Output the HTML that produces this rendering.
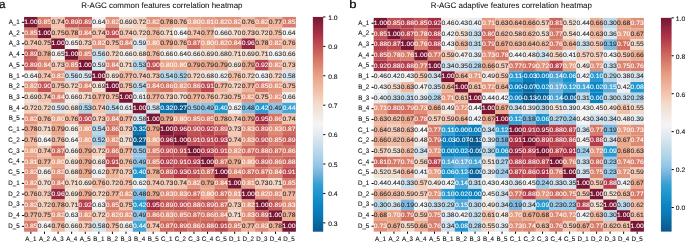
<!DOCTYPE html>
<html><head><meta charset="utf-8"><style>
html,body{margin:0;padding:0;background:#fff;}
body{width:685px;height:242px;overflow:hidden;}
svg{display:block;will-change:transform;}
text{font-family:"Liberation Sans",sans-serif;text-rendering:geometricPrecision;}
.an{font-size:6.35px;text-anchor:middle;stroke-width:0.07px;}
.d{fill:#262626;stroke:#262626;}
.w{fill:#fff;stroke:#fff;}
.yt{font-size:6.6px;text-anchor:end;fill:#111;stroke:#111;stroke-width:0.1px;}
.xt{font-size:6.6px;text-anchor:middle;fill:#111;stroke:#111;stroke-width:0.1px;}
.cb{font-size:6.4px;fill:#111;stroke:#111;stroke-width:0.1px;}
.ti{font-size:8.0px;text-anchor:middle;fill:#111;stroke:#111;stroke-width:0.06px;}
.pn{font-size:11.6px;fill:#000;stroke:#000;stroke-width:0.2px;}
.tk{stroke:#000;stroke-width:1.0;}
</style></head><body>
<svg width="685" height="242" viewBox="0 0 685 242">
<rect x="24.10" y="16.94" width="13.61" height="10.76" fill="#781634"/>
<rect x="37.69" y="16.94" width="13.61" height="10.76" fill="#d77b6a"/>
<rect x="51.28" y="16.94" width="13.61" height="10.76" fill="#f3c5b1"/>
<rect x="64.86" y="16.94" width="13.61" height="10.76" fill="#c55a57"/>
<rect x="78.45" y="16.94" width="13.61" height="10.76" fill="#c55a57"/>
<rect x="92.04" y="16.94" width="13.61" height="10.76" fill="#f5f3f2"/>
<rect x="105.62" y="16.94" width="13.61" height="10.76" fill="#e2937b"/>
<rect x="119.21" y="16.94" width="13.61" height="10.76" fill="#f3e1d5"/>
<rect x="132.80" y="16.94" width="13.61" height="10.76" fill="#f4d2c0"/>
<rect x="146.39" y="16.94" width="13.61" height="10.76" fill="#e2937b"/>
<rect x="159.97" y="16.94" width="13.61" height="10.76" fill="#ecae95"/>
<rect x="173.56" y="16.94" width="13.61" height="10.76" fill="#f0baa3"/>
<rect x="187.15" y="16.94" width="13.61" height="10.76" fill="#e9a387"/>
<rect x="200.74" y="16.94" width="13.61" height="10.76" fill="#e59b81"/>
<rect x="214.32" y="16.94" width="13.61" height="10.76" fill="#e2937b"/>
<rect x="227.91" y="16.94" width="13.61" height="10.76" fill="#e2937b"/>
<rect x="241.50" y="16.94" width="13.61" height="10.76" fill="#f0baa3"/>
<rect x="255.09" y="16.94" width="13.61" height="10.76" fill="#e2937b"/>
<rect x="268.68" y="16.94" width="13.61" height="10.76" fill="#eeb49c"/>
<rect x="282.26" y="16.94" width="13.61" height="10.76" fill="#d77b6a"/>
<rect x="24.10" y="27.68" width="13.61" height="10.76" fill="#d77b6a"/>
<rect x="37.69" y="27.68" width="13.61" height="10.76" fill="#781634"/>
<rect x="51.28" y="27.68" width="13.61" height="10.76" fill="#f1bfaa"/>
<rect x="64.86" y="27.68" width="13.61" height="10.76" fill="#ecae95"/>
<rect x="78.45" y="27.68" width="13.61" height="10.76" fill="#da8370"/>
<rect x="92.04" y="27.68" width="13.61" height="10.76" fill="#f3c5b1"/>
<rect x="105.62" y="27.68" width="13.61" height="10.76" fill="#c05154"/>
<rect x="119.21" y="27.68" width="13.61" height="10.76" fill="#f3c5b1"/>
<rect x="132.80" y="27.68" width="13.61" height="10.76" fill="#f4d2c0"/>
<rect x="146.39" y="27.68" width="13.61" height="10.76" fill="#f0baa3"/>
<rect x="159.97" y="27.68" width="13.61" height="10.76" fill="#f3d8c8"/>
<rect x="173.56" y="27.68" width="13.61" height="10.76" fill="#f5f3f2"/>
<rect x="187.15" y="27.68" width="13.61" height="10.76" fill="#f3c5b1"/>
<rect x="200.74" y="27.68" width="13.61" height="10.76" fill="#eeb49c"/>
<rect x="214.32" y="27.68" width="13.61" height="10.76" fill="#f3ebe7"/>
<rect x="227.91" y="27.68" width="13.61" height="10.76" fill="#f3ddcf"/>
<rect x="241.50" y="27.68" width="13.61" height="10.76" fill="#f4cbb8"/>
<rect x="255.09" y="27.68" width="13.61" height="10.76" fill="#f4d2c0"/>
<rect x="268.68" y="27.68" width="13.61" height="10.76" fill="#f1bfaa"/>
<rect x="282.26" y="27.68" width="13.61" height="10.76" fill="#f5f3f2"/>
<rect x="24.10" y="38.42" width="13.61" height="10.76" fill="#f3c5b1"/>
<rect x="37.69" y="38.42" width="13.61" height="10.76" fill="#f1bfaa"/>
<rect x="51.28" y="38.42" width="13.61" height="10.76" fill="#781634"/>
<rect x="64.86" y="38.42" width="13.61" height="10.76" fill="#f4efec"/>
<rect x="78.45" y="38.42" width="13.61" height="10.76" fill="#f4cbb8"/>
<rect x="92.04" y="38.42" width="13.61" height="10.76" fill="#e2937b"/>
<rect x="105.62" y="38.42" width="13.61" height="10.76" fill="#f1bfaa"/>
<rect x="119.21" y="38.42" width="13.61" height="10.76" fill="#da8370"/>
<rect x="132.80" y="38.42" width="13.61" height="10.76" fill="#dce6ef"/>
<rect x="146.39" y="38.42" width="13.61" height="10.76" fill="#e9a387"/>
<rect x="159.97" y="38.42" width="13.61" height="10.76" fill="#eaa88e"/>
<rect x="173.56" y="38.42" width="13.61" height="10.76" fill="#f0baa3"/>
<rect x="187.15" y="38.42" width="13.61" height="10.76" fill="#cf6b5e"/>
<rect x="200.74" y="38.42" width="13.61" height="10.76" fill="#e9a387"/>
<rect x="214.32" y="38.42" width="13.61" height="10.76" fill="#e2937b"/>
<rect x="227.91" y="38.42" width="13.61" height="10.76" fill="#da8370"/>
<rect x="241.50" y="38.42" width="13.61" height="10.76" fill="#992941"/>
<rect x="255.09" y="38.42" width="13.61" height="10.76" fill="#ecae95"/>
<rect x="268.68" y="38.42" width="13.61" height="10.76" fill="#e2937b"/>
<rect x="282.26" y="38.42" width="13.61" height="10.76" fill="#f0baa3"/>
<rect x="24.10" y="49.15" width="13.61" height="10.76" fill="#c55a57"/>
<rect x="37.69" y="49.15" width="13.61" height="10.76" fill="#ecae95"/>
<rect x="51.28" y="49.15" width="13.61" height="10.76" fill="#f4efec"/>
<rect x="64.86" y="49.15" width="13.61" height="10.76" fill="#781634"/>
<rect x="78.45" y="49.15" width="13.61" height="10.76" fill="#d77b6a"/>
<rect x="92.04" y="49.15" width="13.61" height="10.76" fill="#c7ddeb"/>
<rect x="105.62" y="49.15" width="13.61" height="10.76" fill="#f4d2c0"/>
<rect x="119.21" y="49.15" width="13.61" height="10.76" fill="#f3ebe7"/>
<rect x="132.80" y="49.15" width="13.61" height="10.76" fill="#f2e4db"/>
<rect x="146.39" y="49.15" width="13.61" height="10.76" fill="#f0baa3"/>
<rect x="159.97" y="49.15" width="13.61" height="10.76" fill="#f3ebe7"/>
<rect x="173.56" y="49.15" width="13.61" height="10.76" fill="#f5f3f2"/>
<rect x="187.15" y="49.15" width="13.61" height="10.76" fill="#f3ebe7"/>
<rect x="200.74" y="49.15" width="13.61" height="10.76" fill="#f3e1d5"/>
<rect x="214.32" y="49.15" width="13.61" height="10.76" fill="#f2e4db"/>
<rect x="227.91" y="49.15" width="13.61" height="10.76" fill="#f3d8c8"/>
<rect x="241.50" y="49.15" width="13.61" height="10.76" fill="#f3e1d5"/>
<rect x="255.09" y="49.15" width="13.61" height="10.76" fill="#f3d8c8"/>
<rect x="268.68" y="49.15" width="13.61" height="10.76" fill="#f2f3f4"/>
<rect x="282.26" y="49.15" width="13.61" height="10.76" fill="#f3ebe7"/>
<rect x="24.10" y="59.89" width="13.61" height="10.76" fill="#c55a57"/>
<rect x="37.69" y="59.89" width="13.61" height="10.76" fill="#da8370"/>
<rect x="51.28" y="59.89" width="13.61" height="10.76" fill="#f4cbb8"/>
<rect x="64.86" y="59.89" width="13.61" height="10.76" fill="#d77b6a"/>
<rect x="78.45" y="59.89" width="13.61" height="10.76" fill="#781634"/>
<rect x="92.04" y="59.89" width="13.61" height="10.76" fill="#dce6ef"/>
<rect x="105.62" y="59.89" width="13.61" height="10.76" fill="#da8370"/>
<rect x="119.21" y="59.89" width="13.61" height="10.76" fill="#f3d8c8"/>
<rect x="132.80" y="59.89" width="13.61" height="10.76" fill="#b1d4e8"/>
<rect x="146.39" y="59.89" width="13.61" height="10.76" fill="#c05154"/>
<rect x="159.97" y="59.89" width="13.61" height="10.76" fill="#e9a387"/>
<rect x="173.56" y="59.89" width="13.61" height="10.76" fill="#e9a387"/>
<rect x="187.15" y="59.89" width="13.61" height="10.76" fill="#eaa88e"/>
<rect x="200.74" y="59.89" width="13.61" height="10.76" fill="#eaa88e"/>
<rect x="214.32" y="59.89" width="13.61" height="10.76" fill="#eaa88e"/>
<rect x="227.91" y="59.89" width="13.61" height="10.76" fill="#f3e1d5"/>
<rect x="241.50" y="59.89" width="13.61" height="10.76" fill="#eaa88e"/>
<rect x="255.09" y="59.89" width="13.61" height="10.76" fill="#b6404d"/>
<rect x="268.68" y="59.89" width="13.61" height="10.76" fill="#e2937b"/>
<rect x="282.26" y="59.89" width="13.61" height="10.76" fill="#f4cbb8"/>
<rect x="24.10" y="70.63" width="13.61" height="10.76" fill="#f5f3f2"/>
<rect x="37.69" y="70.63" width="13.61" height="10.76" fill="#f3c5b1"/>
<rect x="51.28" y="70.63" width="13.61" height="10.76" fill="#e2937b"/>
<rect x="64.86" y="70.63" width="13.61" height="10.76" fill="#c7ddeb"/>
<rect x="78.45" y="70.63" width="13.61" height="10.76" fill="#dce6ef"/>
<rect x="92.04" y="70.63" width="13.61" height="10.76" fill="#781634"/>
<rect x="105.62" y="70.63" width="13.61" height="10.76" fill="#f3e1d5"/>
<rect x="119.21" y="70.63" width="13.61" height="10.76" fill="#eeb49c"/>
<rect x="132.80" y="70.63" width="13.61" height="10.76" fill="#f3c5b1"/>
<rect x="146.39" y="70.63" width="13.61" height="10.76" fill="#f4cbb8"/>
<rect x="159.97" y="70.63" width="13.61" height="10.76" fill="#b9d7e9"/>
<rect x="173.56" y="70.63" width="13.61" height="10.76" fill="#a9d0e8"/>
<rect x="187.15" y="70.63" width="13.61" height="10.76" fill="#f4d2c0"/>
<rect x="200.74" y="70.63" width="13.61" height="10.76" fill="#f2e4db"/>
<rect x="214.32" y="70.63" width="13.61" height="10.76" fill="#edf0f3"/>
<rect x="227.91" y="70.63" width="13.61" height="10.76" fill="#f0baa3"/>
<rect x="241.50" y="70.63" width="13.61" height="10.76" fill="#f4d2c0"/>
<rect x="255.09" y="70.63" width="13.61" height="10.76" fill="#f2f3f4"/>
<rect x="268.68" y="70.63" width="13.61" height="10.76" fill="#f4d2c0"/>
<rect x="282.26" y="70.63" width="13.61" height="10.76" fill="#d5e3ee"/>
<rect x="24.10" y="81.37" width="13.61" height="10.76" fill="#e2937b"/>
<rect x="37.69" y="81.37" width="13.61" height="10.76" fill="#c05154"/>
<rect x="51.28" y="81.37" width="13.61" height="10.76" fill="#f1bfaa"/>
<rect x="64.86" y="81.37" width="13.61" height="10.76" fill="#f4d2c0"/>
<rect x="78.45" y="81.37" width="13.61" height="10.76" fill="#da8370"/>
<rect x="92.04" y="81.37" width="13.61" height="10.76" fill="#f3e1d5"/>
<rect x="105.62" y="81.37" width="13.61" height="10.76" fill="#781634"/>
<rect x="119.21" y="81.37" width="13.61" height="10.76" fill="#f1bfaa"/>
<rect x="132.80" y="81.37" width="13.61" height="10.76" fill="#b9d7e9"/>
<rect x="146.39" y="81.37" width="13.61" height="10.76" fill="#da8370"/>
<rect x="159.97" y="81.37" width="13.61" height="10.76" fill="#d37364"/>
<rect x="173.56" y="81.37" width="13.61" height="10.76" fill="#e2937b"/>
<rect x="187.15" y="81.37" width="13.61" height="10.76" fill="#d37364"/>
<rect x="200.74" y="81.37" width="13.61" height="10.76" fill="#bb4950"/>
<rect x="214.32" y="81.37" width="13.61" height="10.76" fill="#eeb49c"/>
<rect x="227.91" y="81.37" width="13.61" height="10.76" fill="#f4d2c0"/>
<rect x="241.50" y="81.37" width="13.61" height="10.76" fill="#eeb49c"/>
<rect x="255.09" y="81.37" width="13.61" height="10.76" fill="#d77b6a"/>
<rect x="268.68" y="81.37" width="13.61" height="10.76" fill="#e2937b"/>
<rect x="282.26" y="81.37" width="13.61" height="10.76" fill="#f1bfaa"/>
<rect x="24.10" y="92.11" width="13.61" height="10.76" fill="#f3e1d5"/>
<rect x="37.69" y="92.11" width="13.61" height="10.76" fill="#f3c5b1"/>
<rect x="51.28" y="92.11" width="13.61" height="10.76" fill="#da8370"/>
<rect x="64.86" y="92.11" width="13.61" height="10.76" fill="#f3ebe7"/>
<rect x="78.45" y="92.11" width="13.61" height="10.76" fill="#f3d8c8"/>
<rect x="92.04" y="92.11" width="13.61" height="10.76" fill="#eeb49c"/>
<rect x="105.62" y="92.11" width="13.61" height="10.76" fill="#f1bfaa"/>
<rect x="119.21" y="92.11" width="13.61" height="10.76" fill="#781634"/>
<rect x="132.80" y="92.11" width="13.61" height="10.76" fill="#e8edf2"/>
<rect x="146.39" y="92.11" width="13.61" height="10.76" fill="#eeb49c"/>
<rect x="159.97" y="92.11" width="13.61" height="10.76" fill="#f4cbb8"/>
<rect x="173.56" y="92.11" width="13.61" height="10.76" fill="#f3ddcf"/>
<rect x="187.15" y="92.11" width="13.61" height="10.76" fill="#eeb49c"/>
<rect x="200.74" y="92.11" width="13.61" height="10.76" fill="#f0baa3"/>
<rect x="214.32" y="92.11" width="13.61" height="10.76" fill="#f4cbb8"/>
<rect x="227.91" y="92.11" width="13.61" height="10.76" fill="#f1bfaa"/>
<rect x="241.50" y="92.11" width="13.61" height="10.76" fill="#e2937b"/>
<rect x="255.09" y="92.11" width="13.61" height="10.76" fill="#f1bfaa"/>
<rect x="268.68" y="92.11" width="13.61" height="10.76" fill="#e2937b"/>
<rect x="282.26" y="92.11" width="13.61" height="10.76" fill="#f3ebe7"/>
<rect x="24.10" y="102.84" width="13.61" height="10.76" fill="#f4d2c0"/>
<rect x="37.69" y="102.84" width="13.61" height="10.76" fill="#f4d2c0"/>
<rect x="51.28" y="102.84" width="13.61" height="10.76" fill="#dce6ef"/>
<rect x="64.86" y="102.84" width="13.61" height="10.76" fill="#f2e4db"/>
<rect x="78.45" y="102.84" width="13.61" height="10.76" fill="#b1d4e8"/>
<rect x="92.04" y="102.84" width="13.61" height="10.76" fill="#f3c5b1"/>
<rect x="105.62" y="102.84" width="13.61" height="10.76" fill="#b9d7e9"/>
<rect x="119.21" y="102.84" width="13.61" height="10.76" fill="#e8edf2"/>
<rect x="132.80" y="102.84" width="13.61" height="10.76" fill="#781634"/>
<rect x="146.39" y="102.84" width="13.61" height="10.76" fill="#d5e3ee"/>
<rect x="159.97" y="102.84" width="13.61" height="10.76" fill="#0b74b0"/>
<rect x="173.56" y="102.84" width="13.61" height="10.76" fill="#0a588c"/>
<rect x="187.15" y="102.84" width="13.61" height="10.76" fill="#98c9e8"/>
<rect x="200.74" y="102.84" width="13.61" height="10.76" fill="#8ec3e5"/>
<rect x="214.32" y="102.84" width="13.61" height="10.76" fill="#2196cd"/>
<rect x="227.91" y="102.84" width="13.61" height="10.76" fill="#edf0f3"/>
<rect x="241.50" y="102.84" width="13.61" height="10.76" fill="#83bce1"/>
<rect x="255.09" y="102.84" width="13.61" height="10.76" fill="#2b9cd1"/>
<rect x="268.68" y="102.84" width="13.61" height="10.76" fill="#8ec3e5"/>
<rect x="282.26" y="102.84" width="13.61" height="10.76" fill="#45a5d5"/>
<rect x="24.10" y="113.58" width="13.61" height="10.76" fill="#e2937b"/>
<rect x="37.69" y="113.58" width="13.61" height="10.76" fill="#f0baa3"/>
<rect x="51.28" y="113.58" width="13.61" height="10.76" fill="#e9a387"/>
<rect x="64.86" y="113.58" width="13.61" height="10.76" fill="#f0baa3"/>
<rect x="78.45" y="113.58" width="13.61" height="10.76" fill="#c05154"/>
<rect x="92.04" y="113.58" width="13.61" height="10.76" fill="#f4cbb8"/>
<rect x="105.62" y="113.58" width="13.61" height="10.76" fill="#da8370"/>
<rect x="119.21" y="113.58" width="13.61" height="10.76" fill="#eeb49c"/>
<rect x="132.80" y="113.58" width="13.61" height="10.76" fill="#d5e3ee"/>
<rect x="146.39" y="113.58" width="13.61" height="10.76" fill="#781634"/>
<rect x="159.97" y="113.58" width="13.61" height="10.76" fill="#eaa88e"/>
<rect x="173.56" y="113.58" width="13.61" height="10.76" fill="#e9a387"/>
<rect x="187.15" y="113.58" width="13.61" height="10.76" fill="#d77b6a"/>
<rect x="200.74" y="113.58" width="13.61" height="10.76" fill="#d77b6a"/>
<rect x="214.32" y="113.58" width="13.61" height="10.76" fill="#ecae95"/>
<rect x="227.91" y="113.58" width="13.61" height="10.76" fill="#f3c5b1"/>
<rect x="241.50" y="113.58" width="13.61" height="10.76" fill="#eaa88e"/>
<rect x="255.09" y="113.58" width="13.61" height="10.76" fill="#a32c43"/>
<rect x="268.68" y="113.58" width="13.61" height="10.76" fill="#d37364"/>
<rect x="282.26" y="113.58" width="13.61" height="10.76" fill="#f3c5b1"/>
<rect x="24.10" y="124.32" width="13.61" height="10.76" fill="#ecae95"/>
<rect x="37.69" y="124.32" width="13.61" height="10.76" fill="#f3d8c8"/>
<rect x="51.28" y="124.32" width="13.61" height="10.76" fill="#eaa88e"/>
<rect x="64.86" y="124.32" width="13.61" height="10.76" fill="#f3ebe7"/>
<rect x="78.45" y="124.32" width="13.61" height="10.76" fill="#e9a387"/>
<rect x="92.04" y="124.32" width="13.61" height="10.76" fill="#b9d7e9"/>
<rect x="105.62" y="124.32" width="13.61" height="10.76" fill="#d37364"/>
<rect x="119.21" y="124.32" width="13.61" height="10.76" fill="#f4cbb8"/>
<rect x="132.80" y="124.32" width="13.61" height="10.76" fill="#0b74b0"/>
<rect x="146.39" y="124.32" width="13.61" height="10.76" fill="#eaa88e"/>
<rect x="159.97" y="124.32" width="13.61" height="10.76" fill="#781634"/>
<rect x="173.56" y="124.32" width="13.61" height="10.76" fill="#992941"/>
<rect x="187.15" y="124.32" width="13.61" height="10.76" fill="#c05154"/>
<rect x="200.74" y="124.32" width="13.61" height="10.76" fill="#b6404d"/>
<rect x="214.32" y="124.32" width="13.61" height="10.76" fill="#c55a57"/>
<rect x="227.91" y="124.32" width="13.61" height="10.76" fill="#f4cbb8"/>
<rect x="241.50" y="124.32" width="13.61" height="10.76" fill="#de8b75"/>
<rect x="255.09" y="124.32" width="13.61" height="10.76" fill="#c55a57"/>
<rect x="268.68" y="124.32" width="13.61" height="10.76" fill="#de8b75"/>
<rect x="282.26" y="124.32" width="13.61" height="10.76" fill="#cf6b5e"/>
<rect x="24.10" y="135.06" width="13.61" height="10.76" fill="#f0baa3"/>
<rect x="37.69" y="135.06" width="13.61" height="10.76" fill="#f5f3f2"/>
<rect x="51.28" y="135.06" width="13.61" height="10.76" fill="#f0baa3"/>
<rect x="64.86" y="135.06" width="13.61" height="10.76" fill="#f5f3f2"/>
<rect x="78.45" y="135.06" width="13.61" height="10.76" fill="#e9a387"/>
<rect x="92.04" y="135.06" width="13.61" height="10.76" fill="#a9d0e8"/>
<rect x="105.62" y="135.06" width="13.61" height="10.76" fill="#e2937b"/>
<rect x="119.21" y="135.06" width="13.61" height="10.76" fill="#f3ddcf"/>
<rect x="132.80" y="135.06" width="13.61" height="10.76" fill="#0a588c"/>
<rect x="146.39" y="135.06" width="13.61" height="10.76" fill="#e9a387"/>
<rect x="159.97" y="135.06" width="13.61" height="10.76" fill="#992941"/>
<rect x="173.56" y="135.06" width="13.61" height="10.76" fill="#781634"/>
<rect x="187.15" y="135.06" width="13.61" height="10.76" fill="#bb4950"/>
<rect x="200.74" y="135.06" width="13.61" height="10.76" fill="#bb4950"/>
<rect x="214.32" y="135.06" width="13.61" height="10.76" fill="#b13749"/>
<rect x="227.91" y="135.06" width="13.61" height="10.76" fill="#f3c5b1"/>
<rect x="241.50" y="135.06" width="13.61" height="10.76" fill="#de8b75"/>
<rect x="255.09" y="135.06" width="13.61" height="10.76" fill="#c05154"/>
<rect x="268.68" y="135.06" width="13.61" height="10.76" fill="#d77b6a"/>
<rect x="282.26" y="135.06" width="13.61" height="10.76" fill="#c55a57"/>
<rect x="24.10" y="145.80" width="13.61" height="10.76" fill="#e9a387"/>
<rect x="37.69" y="145.80" width="13.61" height="10.76" fill="#f3c5b1"/>
<rect x="51.28" y="145.80" width="13.61" height="10.76" fill="#cf6b5e"/>
<rect x="64.86" y="145.80" width="13.61" height="10.76" fill="#f3ebe7"/>
<rect x="78.45" y="145.80" width="13.61" height="10.76" fill="#eaa88e"/>
<rect x="92.04" y="145.80" width="13.61" height="10.76" fill="#f4d2c0"/>
<rect x="105.62" y="145.80" width="13.61" height="10.76" fill="#d37364"/>
<rect x="119.21" y="145.80" width="13.61" height="10.76" fill="#eeb49c"/>
<rect x="132.80" y="145.80" width="13.61" height="10.76" fill="#98c9e8"/>
<rect x="146.39" y="145.80" width="13.61" height="10.76" fill="#d77b6a"/>
<rect x="159.97" y="145.80" width="13.61" height="10.76" fill="#c05154"/>
<rect x="173.56" y="145.80" width="13.61" height="10.76" fill="#bb4950"/>
<rect x="187.15" y="145.80" width="13.61" height="10.76" fill="#781634"/>
<rect x="200.74" y="145.80" width="13.61" height="10.76" fill="#b13749"/>
<rect x="214.32" y="145.80" width="13.61" height="10.76" fill="#bb4950"/>
<rect x="227.91" y="145.80" width="13.61" height="10.76" fill="#e2937b"/>
<rect x="241.50" y="145.80" width="13.61" height="10.76" fill="#cf6b5e"/>
<rect x="255.09" y="145.80" width="13.61" height="10.76" fill="#ca625b"/>
<rect x="268.68" y="145.80" width="13.61" height="10.76" fill="#cf6b5e"/>
<rect x="282.26" y="145.80" width="13.61" height="10.76" fill="#d37364"/>
<rect x="24.10" y="156.53" width="13.61" height="10.76" fill="#e59b81"/>
<rect x="37.69" y="156.53" width="13.61" height="10.76" fill="#eeb49c"/>
<rect x="51.28" y="156.53" width="13.61" height="10.76" fill="#e9a387"/>
<rect x="64.86" y="156.53" width="13.61" height="10.76" fill="#f3e1d5"/>
<rect x="78.45" y="156.53" width="13.61" height="10.76" fill="#eaa88e"/>
<rect x="92.04" y="156.53" width="13.61" height="10.76" fill="#f2e4db"/>
<rect x="105.62" y="156.53" width="13.61" height="10.76" fill="#bb4950"/>
<rect x="119.21" y="156.53" width="13.61" height="10.76" fill="#f0baa3"/>
<rect x="132.80" y="156.53" width="13.61" height="10.76" fill="#8ec3e5"/>
<rect x="146.39" y="156.53" width="13.61" height="10.76" fill="#d77b6a"/>
<rect x="159.97" y="156.53" width="13.61" height="10.76" fill="#b6404d"/>
<rect x="173.56" y="156.53" width="13.61" height="10.76" fill="#bb4950"/>
<rect x="187.15" y="156.53" width="13.61" height="10.76" fill="#b13749"/>
<rect x="200.74" y="156.53" width="13.61" height="10.76" fill="#781634"/>
<rect x="214.32" y="156.53" width="13.61" height="10.76" fill="#cf6b5e"/>
<rect x="227.91" y="156.53" width="13.61" height="10.76" fill="#eaa88e"/>
<rect x="241.50" y="156.53" width="13.61" height="10.76" fill="#e9a387"/>
<rect x="255.09" y="156.53" width="13.61" height="10.76" fill="#c55a57"/>
<rect x="268.68" y="156.53" width="13.61" height="10.76" fill="#d37364"/>
<rect x="282.26" y="156.53" width="13.61" height="10.76" fill="#ca625b"/>
<rect x="24.10" y="167.27" width="13.61" height="10.76" fill="#e2937b"/>
<rect x="37.69" y="167.27" width="13.61" height="10.76" fill="#f3ebe7"/>
<rect x="51.28" y="167.27" width="13.61" height="10.76" fill="#e2937b"/>
<rect x="64.86" y="167.27" width="13.61" height="10.76" fill="#f2e4db"/>
<rect x="78.45" y="167.27" width="13.61" height="10.76" fill="#eaa88e"/>
<rect x="92.04" y="167.27" width="13.61" height="10.76" fill="#edf0f3"/>
<rect x="105.62" y="167.27" width="13.61" height="10.76" fill="#eeb49c"/>
<rect x="119.21" y="167.27" width="13.61" height="10.76" fill="#f4cbb8"/>
<rect x="132.80" y="167.27" width="13.61" height="10.76" fill="#2196cd"/>
<rect x="146.39" y="167.27" width="13.61" height="10.76" fill="#ecae95"/>
<rect x="159.97" y="167.27" width="13.61" height="10.76" fill="#c55a57"/>
<rect x="173.56" y="167.27" width="13.61" height="10.76" fill="#b13749"/>
<rect x="187.15" y="167.27" width="13.61" height="10.76" fill="#bb4950"/>
<rect x="200.74" y="167.27" width="13.61" height="10.76" fill="#cf6b5e"/>
<rect x="214.32" y="167.27" width="13.61" height="10.76" fill="#781634"/>
<rect x="227.91" y="167.27" width="13.61" height="10.76" fill="#da8370"/>
<rect x="241.50" y="167.27" width="13.61" height="10.76" fill="#cf6b5e"/>
<rect x="255.09" y="167.27" width="13.61" height="10.76" fill="#cf6b5e"/>
<rect x="268.68" y="167.27" width="13.61" height="10.76" fill="#da8370"/>
<rect x="282.26" y="167.27" width="13.61" height="10.76" fill="#bb4950"/>
<rect x="24.10" y="178.01" width="13.61" height="10.76" fill="#e2937b"/>
<rect x="37.69" y="178.01" width="13.61" height="10.76" fill="#f3ddcf"/>
<rect x="51.28" y="178.01" width="13.61" height="10.76" fill="#da8370"/>
<rect x="64.86" y="178.01" width="13.61" height="10.76" fill="#f3d8c8"/>
<rect x="78.45" y="178.01" width="13.61" height="10.76" fill="#f3e1d5"/>
<rect x="92.04" y="178.01" width="13.61" height="10.76" fill="#f0baa3"/>
<rect x="105.62" y="178.01" width="13.61" height="10.76" fill="#f4d2c0"/>
<rect x="119.21" y="178.01" width="13.61" height="10.76" fill="#f1bfaa"/>
<rect x="132.80" y="178.01" width="13.61" height="10.76" fill="#edf0f3"/>
<rect x="146.39" y="178.01" width="13.61" height="10.76" fill="#f3c5b1"/>
<rect x="159.97" y="178.01" width="13.61" height="10.76" fill="#f4cbb8"/>
<rect x="173.56" y="178.01" width="13.61" height="10.76" fill="#f3c5b1"/>
<rect x="187.15" y="178.01" width="13.61" height="10.76" fill="#e2937b"/>
<rect x="200.74" y="178.01" width="13.61" height="10.76" fill="#eaa88e"/>
<rect x="214.32" y="178.01" width="13.61" height="10.76" fill="#da8370"/>
<rect x="227.91" y="178.01" width="13.61" height="10.76" fill="#781634"/>
<rect x="241.50" y="178.01" width="13.61" height="10.76" fill="#e59b81"/>
<rect x="255.09" y="178.01" width="13.61" height="10.76" fill="#f4cbb8"/>
<rect x="268.68" y="178.01" width="13.61" height="10.76" fill="#f3d8c8"/>
<rect x="282.26" y="178.01" width="13.61" height="10.76" fill="#d77b6a"/>
<rect x="24.10" y="188.75" width="13.61" height="10.76" fill="#f0baa3"/>
<rect x="37.69" y="188.75" width="13.61" height="10.76" fill="#f4cbb8"/>
<rect x="51.28" y="188.75" width="13.61" height="10.76" fill="#992941"/>
<rect x="64.86" y="188.75" width="13.61" height="10.76" fill="#f3e1d5"/>
<rect x="78.45" y="188.75" width="13.61" height="10.76" fill="#eaa88e"/>
<rect x="92.04" y="188.75" width="13.61" height="10.76" fill="#f4d2c0"/>
<rect x="105.62" y="188.75" width="13.61" height="10.76" fill="#eeb49c"/>
<rect x="119.21" y="188.75" width="13.61" height="10.76" fill="#e2937b"/>
<rect x="132.80" y="188.75" width="13.61" height="10.76" fill="#83bce1"/>
<rect x="146.39" y="188.75" width="13.61" height="10.76" fill="#eaa88e"/>
<rect x="159.97" y="188.75" width="13.61" height="10.76" fill="#de8b75"/>
<rect x="173.56" y="188.75" width="13.61" height="10.76" fill="#de8b75"/>
<rect x="187.15" y="188.75" width="13.61" height="10.76" fill="#cf6b5e"/>
<rect x="200.74" y="188.75" width="13.61" height="10.76" fill="#e9a387"/>
<rect x="214.32" y="188.75" width="13.61" height="10.76" fill="#cf6b5e"/>
<rect x="227.91" y="188.75" width="13.61" height="10.76" fill="#e59b81"/>
<rect x="241.50" y="188.75" width="13.61" height="10.76" fill="#781634"/>
<rect x="255.09" y="188.75" width="13.61" height="10.76" fill="#e2937b"/>
<rect x="268.68" y="188.75" width="13.61" height="10.76" fill="#de8b75"/>
<rect x="282.26" y="188.75" width="13.61" height="10.76" fill="#eeb49c"/>
<rect x="24.10" y="199.49" width="13.61" height="10.76" fill="#e2937b"/>
<rect x="37.69" y="199.49" width="13.61" height="10.76" fill="#f4d2c0"/>
<rect x="51.28" y="199.49" width="13.61" height="10.76" fill="#ecae95"/>
<rect x="64.86" y="199.49" width="13.61" height="10.76" fill="#f3d8c8"/>
<rect x="78.45" y="199.49" width="13.61" height="10.76" fill="#b6404d"/>
<rect x="92.04" y="199.49" width="13.61" height="10.76" fill="#f2f3f4"/>
<rect x="105.62" y="199.49" width="13.61" height="10.76" fill="#d77b6a"/>
<rect x="119.21" y="199.49" width="13.61" height="10.76" fill="#f1bfaa"/>
<rect x="132.80" y="199.49" width="13.61" height="10.76" fill="#2b9cd1"/>
<rect x="146.39" y="199.49" width="13.61" height="10.76" fill="#a32c43"/>
<rect x="159.97" y="199.49" width="13.61" height="10.76" fill="#c55a57"/>
<rect x="173.56" y="199.49" width="13.61" height="10.76" fill="#c05154"/>
<rect x="187.15" y="199.49" width="13.61" height="10.76" fill="#ca625b"/>
<rect x="200.74" y="199.49" width="13.61" height="10.76" fill="#c55a57"/>
<rect x="214.32" y="199.49" width="13.61" height="10.76" fill="#cf6b5e"/>
<rect x="227.91" y="199.49" width="13.61" height="10.76" fill="#f4cbb8"/>
<rect x="241.50" y="199.49" width="13.61" height="10.76" fill="#e2937b"/>
<rect x="255.09" y="199.49" width="13.61" height="10.76" fill="#781634"/>
<rect x="268.68" y="199.49" width="13.61" height="10.76" fill="#c55a57"/>
<rect x="282.26" y="199.49" width="13.61" height="10.76" fill="#de8b75"/>
<rect x="24.10" y="210.22" width="13.61" height="10.76" fill="#eeb49c"/>
<rect x="37.69" y="210.22" width="13.61" height="10.76" fill="#f1bfaa"/>
<rect x="51.28" y="210.22" width="13.61" height="10.76" fill="#e2937b"/>
<rect x="64.86" y="210.22" width="13.61" height="10.76" fill="#f2f3f4"/>
<rect x="78.45" y="210.22" width="13.61" height="10.76" fill="#e2937b"/>
<rect x="92.04" y="210.22" width="13.61" height="10.76" fill="#f4d2c0"/>
<rect x="105.62" y="210.22" width="13.61" height="10.76" fill="#e2937b"/>
<rect x="119.21" y="210.22" width="13.61" height="10.76" fill="#e2937b"/>
<rect x="132.80" y="210.22" width="13.61" height="10.76" fill="#8ec3e5"/>
<rect x="146.39" y="210.22" width="13.61" height="10.76" fill="#d37364"/>
<rect x="159.97" y="210.22" width="13.61" height="10.76" fill="#de8b75"/>
<rect x="173.56" y="210.22" width="13.61" height="10.76" fill="#d77b6a"/>
<rect x="187.15" y="210.22" width="13.61" height="10.76" fill="#cf6b5e"/>
<rect x="200.74" y="210.22" width="13.61" height="10.76" fill="#d37364"/>
<rect x="214.32" y="210.22" width="13.61" height="10.76" fill="#da8370"/>
<rect x="227.91" y="210.22" width="13.61" height="10.76" fill="#f3d8c8"/>
<rect x="241.50" y="210.22" width="13.61" height="10.76" fill="#de8b75"/>
<rect x="255.09" y="210.22" width="13.61" height="10.76" fill="#c55a57"/>
<rect x="268.68" y="210.22" width="13.61" height="10.76" fill="#781634"/>
<rect x="282.26" y="210.22" width="13.61" height="10.76" fill="#ecae95"/>
<rect x="24.10" y="220.96" width="13.61" height="10.76" fill="#d77b6a"/>
<rect x="37.69" y="220.96" width="13.61" height="10.76" fill="#f5f3f2"/>
<rect x="51.28" y="220.96" width="13.61" height="10.76" fill="#f0baa3"/>
<rect x="64.86" y="220.96" width="13.61" height="10.76" fill="#f3ebe7"/>
<rect x="78.45" y="220.96" width="13.61" height="10.76" fill="#f4cbb8"/>
<rect x="92.04" y="220.96" width="13.61" height="10.76" fill="#d5e3ee"/>
<rect x="105.62" y="220.96" width="13.61" height="10.76" fill="#f1bfaa"/>
<rect x="119.21" y="220.96" width="13.61" height="10.76" fill="#f3ebe7"/>
<rect x="132.80" y="220.96" width="13.61" height="10.76" fill="#45a5d5"/>
<rect x="146.39" y="220.96" width="13.61" height="10.76" fill="#f3c5b1"/>
<rect x="159.97" y="220.96" width="13.61" height="10.76" fill="#cf6b5e"/>
<rect x="173.56" y="220.96" width="13.61" height="10.76" fill="#c55a57"/>
<rect x="187.15" y="220.96" width="13.61" height="10.76" fill="#d37364"/>
<rect x="200.74" y="220.96" width="13.61" height="10.76" fill="#ca625b"/>
<rect x="214.32" y="220.96" width="13.61" height="10.76" fill="#bb4950"/>
<rect x="227.91" y="220.96" width="13.61" height="10.76" fill="#d77b6a"/>
<rect x="241.50" y="220.96" width="13.61" height="10.76" fill="#eeb49c"/>
<rect x="255.09" y="220.96" width="13.61" height="10.76" fill="#de8b75"/>
<rect x="268.68" y="220.96" width="13.61" height="10.76" fill="#ecae95"/>
<rect x="282.26" y="220.96" width="13.61" height="10.76" fill="#781634"/>
<text x="30.89" y="23.96" class="an w" textLength="13.20" lengthAdjust="spacingAndGlyphs">1.00</text>
<text x="44.48" y="23.96" class="an w" textLength="13.20" lengthAdjust="spacingAndGlyphs">0.85</text>
<text x="58.07" y="23.96" class="an d" textLength="13.20" lengthAdjust="spacingAndGlyphs">0.74</text>
<text x="71.66" y="23.96" class="an w" textLength="13.20" lengthAdjust="spacingAndGlyphs">0.89</text>
<text x="85.24" y="23.96" class="an w" textLength="13.20" lengthAdjust="spacingAndGlyphs">0.89</text>
<text x="98.83" y="23.96" class="an d" textLength="13.20" lengthAdjust="spacingAndGlyphs">0.64</text>
<text x="112.42" y="23.96" class="an w" textLength="13.20" lengthAdjust="spacingAndGlyphs">0.82</text>
<text x="126.01" y="23.96" class="an d" textLength="13.20" lengthAdjust="spacingAndGlyphs">0.69</text>
<text x="139.59" y="23.96" class="an d" textLength="13.20" lengthAdjust="spacingAndGlyphs">0.72</text>
<text x="153.18" y="23.96" class="an w" textLength="13.20" lengthAdjust="spacingAndGlyphs">0.82</text>
<text x="166.77" y="23.96" class="an d" textLength="13.20" lengthAdjust="spacingAndGlyphs">0.78</text>
<text x="180.36" y="23.96" class="an d" textLength="13.20" lengthAdjust="spacingAndGlyphs">0.76</text>
<text x="193.94" y="23.96" class="an w" textLength="13.20" lengthAdjust="spacingAndGlyphs">0.80</text>
<text x="207.53" y="23.96" class="an w" textLength="13.20" lengthAdjust="spacingAndGlyphs">0.81</text>
<text x="221.12" y="23.96" class="an w" textLength="13.20" lengthAdjust="spacingAndGlyphs">0.82</text>
<text x="234.71" y="23.96" class="an w" textLength="13.20" lengthAdjust="spacingAndGlyphs">0.82</text>
<text x="248.29" y="23.96" class="an d" textLength="13.20" lengthAdjust="spacingAndGlyphs">0.76</text>
<text x="261.88" y="23.96" class="an w" textLength="13.20" lengthAdjust="spacingAndGlyphs">0.82</text>
<text x="275.47" y="23.96" class="an d" textLength="13.20" lengthAdjust="spacingAndGlyphs">0.77</text>
<text x="289.06" y="23.96" class="an w" textLength="13.20" lengthAdjust="spacingAndGlyphs">0.85</text>
<text x="30.89" y="34.70" class="an w" textLength="13.20" lengthAdjust="spacingAndGlyphs">0.85</text>
<text x="44.48" y="34.70" class="an w" textLength="13.20" lengthAdjust="spacingAndGlyphs">1.00</text>
<text x="58.07" y="34.70" class="an d" textLength="13.20" lengthAdjust="spacingAndGlyphs">0.75</text>
<text x="71.66" y="34.70" class="an d" textLength="13.20" lengthAdjust="spacingAndGlyphs">0.78</text>
<text x="85.24" y="34.70" class="an w" textLength="13.20" lengthAdjust="spacingAndGlyphs">0.84</text>
<text x="98.83" y="34.70" class="an d" textLength="13.20" lengthAdjust="spacingAndGlyphs">0.74</text>
<text x="112.42" y="34.70" class="an w" textLength="13.20" lengthAdjust="spacingAndGlyphs">0.90</text>
<text x="126.01" y="34.70" class="an d" textLength="13.20" lengthAdjust="spacingAndGlyphs">0.74</text>
<text x="139.59" y="34.70" class="an d" textLength="13.20" lengthAdjust="spacingAndGlyphs">0.72</text>
<text x="153.18" y="34.70" class="an d" textLength="13.20" lengthAdjust="spacingAndGlyphs">0.76</text>
<text x="166.77" y="34.70" class="an d" textLength="13.20" lengthAdjust="spacingAndGlyphs">0.71</text>
<text x="180.36" y="34.70" class="an d" textLength="13.20" lengthAdjust="spacingAndGlyphs">0.64</text>
<text x="193.94" y="34.70" class="an d" textLength="13.20" lengthAdjust="spacingAndGlyphs">0.74</text>
<text x="207.53" y="34.70" class="an d" textLength="13.20" lengthAdjust="spacingAndGlyphs">0.77</text>
<text x="221.12" y="34.70" class="an d" textLength="13.20" lengthAdjust="spacingAndGlyphs">0.66</text>
<text x="234.71" y="34.70" class="an d" textLength="13.20" lengthAdjust="spacingAndGlyphs">0.70</text>
<text x="248.29" y="34.70" class="an d" textLength="13.20" lengthAdjust="spacingAndGlyphs">0.73</text>
<text x="261.88" y="34.70" class="an d" textLength="13.20" lengthAdjust="spacingAndGlyphs">0.72</text>
<text x="275.47" y="34.70" class="an d" textLength="13.20" lengthAdjust="spacingAndGlyphs">0.75</text>
<text x="289.06" y="34.70" class="an d" textLength="13.20" lengthAdjust="spacingAndGlyphs">0.64</text>
<text x="30.89" y="45.43" class="an d" textLength="13.20" lengthAdjust="spacingAndGlyphs">0.74</text>
<text x="44.48" y="45.43" class="an d" textLength="13.20" lengthAdjust="spacingAndGlyphs">0.75</text>
<text x="58.07" y="45.43" class="an w" textLength="13.20" lengthAdjust="spacingAndGlyphs">1.00</text>
<text x="71.66" y="45.43" class="an d" textLength="13.20" lengthAdjust="spacingAndGlyphs">0.65</text>
<text x="85.24" y="45.43" class="an d" textLength="13.20" lengthAdjust="spacingAndGlyphs">0.73</text>
<text x="98.83" y="45.43" class="an w" textLength="13.20" lengthAdjust="spacingAndGlyphs">0.82</text>
<text x="112.42" y="45.43" class="an d" textLength="13.20" lengthAdjust="spacingAndGlyphs">0.75</text>
<text x="126.01" y="45.43" class="an w" textLength="13.20" lengthAdjust="spacingAndGlyphs">0.84</text>
<text x="139.59" y="45.43" class="an d" textLength="13.20" lengthAdjust="spacingAndGlyphs">0.59</text>
<text x="153.18" y="45.43" class="an w" textLength="13.20" lengthAdjust="spacingAndGlyphs">0.80</text>
<text x="166.77" y="45.43" class="an d" textLength="13.20" lengthAdjust="spacingAndGlyphs">0.79</text>
<text x="180.36" y="45.43" class="an d" textLength="13.20" lengthAdjust="spacingAndGlyphs">0.76</text>
<text x="193.94" y="45.43" class="an w" textLength="13.20" lengthAdjust="spacingAndGlyphs">0.87</text>
<text x="207.53" y="45.43" class="an w" textLength="13.20" lengthAdjust="spacingAndGlyphs">0.80</text>
<text x="221.12" y="45.43" class="an w" textLength="13.20" lengthAdjust="spacingAndGlyphs">0.82</text>
<text x="234.71" y="45.43" class="an w" textLength="13.20" lengthAdjust="spacingAndGlyphs">0.84</text>
<text x="248.29" y="45.43" class="an w" textLength="13.20" lengthAdjust="spacingAndGlyphs">0.96</text>
<text x="261.88" y="45.43" class="an d" textLength="13.20" lengthAdjust="spacingAndGlyphs">0.78</text>
<text x="275.47" y="45.43" class="an w" textLength="13.20" lengthAdjust="spacingAndGlyphs">0.82</text>
<text x="289.06" y="45.43" class="an d" textLength="13.20" lengthAdjust="spacingAndGlyphs">0.76</text>
<text x="30.89" y="56.17" class="an w" textLength="13.20" lengthAdjust="spacingAndGlyphs">0.89</text>
<text x="44.48" y="56.17" class="an d" textLength="13.20" lengthAdjust="spacingAndGlyphs">0.78</text>
<text x="58.07" y="56.17" class="an d" textLength="13.20" lengthAdjust="spacingAndGlyphs">0.65</text>
<text x="71.66" y="56.17" class="an w" textLength="13.20" lengthAdjust="spacingAndGlyphs">1.00</text>
<text x="85.24" y="56.17" class="an w" textLength="13.20" lengthAdjust="spacingAndGlyphs">0.85</text>
<text x="98.83" y="56.17" class="an d" textLength="13.20" lengthAdjust="spacingAndGlyphs">0.56</text>
<text x="112.42" y="56.17" class="an d" textLength="13.20" lengthAdjust="spacingAndGlyphs">0.72</text>
<text x="126.01" y="56.17" class="an d" textLength="13.20" lengthAdjust="spacingAndGlyphs">0.66</text>
<text x="139.59" y="56.17" class="an d" textLength="13.20" lengthAdjust="spacingAndGlyphs">0.68</text>
<text x="153.18" y="56.17" class="an d" textLength="13.20" lengthAdjust="spacingAndGlyphs">0.76</text>
<text x="166.77" y="56.17" class="an d" textLength="13.20" lengthAdjust="spacingAndGlyphs">0.66</text>
<text x="180.36" y="56.17" class="an d" textLength="13.20" lengthAdjust="spacingAndGlyphs">0.64</text>
<text x="193.94" y="56.17" class="an d" textLength="13.20" lengthAdjust="spacingAndGlyphs">0.66</text>
<text x="207.53" y="56.17" class="an d" textLength="13.20" lengthAdjust="spacingAndGlyphs">0.69</text>
<text x="221.12" y="56.17" class="an d" textLength="13.20" lengthAdjust="spacingAndGlyphs">0.68</text>
<text x="234.71" y="56.17" class="an d" textLength="13.20" lengthAdjust="spacingAndGlyphs">0.71</text>
<text x="248.29" y="56.17" class="an d" textLength="13.20" lengthAdjust="spacingAndGlyphs">0.69</text>
<text x="261.88" y="56.17" class="an d" textLength="13.20" lengthAdjust="spacingAndGlyphs">0.71</text>
<text x="275.47" y="56.17" class="an d" textLength="13.20" lengthAdjust="spacingAndGlyphs">0.63</text>
<text x="289.06" y="56.17" class="an d" textLength="13.20" lengthAdjust="spacingAndGlyphs">0.66</text>
<text x="30.89" y="66.91" class="an w" textLength="13.20" lengthAdjust="spacingAndGlyphs">0.89</text>
<text x="44.48" y="66.91" class="an w" textLength="13.20" lengthAdjust="spacingAndGlyphs">0.84</text>
<text x="58.07" y="66.91" class="an d" textLength="13.20" lengthAdjust="spacingAndGlyphs">0.73</text>
<text x="71.66" y="66.91" class="an w" textLength="13.20" lengthAdjust="spacingAndGlyphs">0.85</text>
<text x="85.24" y="66.91" class="an w" textLength="13.20" lengthAdjust="spacingAndGlyphs">1.00</text>
<text x="98.83" y="66.91" class="an d" textLength="13.20" lengthAdjust="spacingAndGlyphs">0.59</text>
<text x="112.42" y="66.91" class="an w" textLength="13.20" lengthAdjust="spacingAndGlyphs">0.84</text>
<text x="126.01" y="66.91" class="an d" textLength="13.20" lengthAdjust="spacingAndGlyphs">0.71</text>
<text x="139.59" y="66.91" class="an d" textLength="13.20" lengthAdjust="spacingAndGlyphs">0.53</text>
<text x="153.18" y="66.91" class="an w" textLength="13.20" lengthAdjust="spacingAndGlyphs">0.90</text>
<text x="166.77" y="66.91" class="an w" textLength="13.20" lengthAdjust="spacingAndGlyphs">0.80</text>
<text x="180.36" y="66.91" class="an w" textLength="13.20" lengthAdjust="spacingAndGlyphs">0.80</text>
<text x="193.94" y="66.91" class="an d" textLength="13.20" lengthAdjust="spacingAndGlyphs">0.79</text>
<text x="207.53" y="66.91" class="an d" textLength="13.20" lengthAdjust="spacingAndGlyphs">0.79</text>
<text x="221.12" y="66.91" class="an d" textLength="13.20" lengthAdjust="spacingAndGlyphs">0.79</text>
<text x="234.71" y="66.91" class="an d" textLength="13.20" lengthAdjust="spacingAndGlyphs">0.69</text>
<text x="248.29" y="66.91" class="an d" textLength="13.20" lengthAdjust="spacingAndGlyphs">0.79</text>
<text x="261.88" y="66.91" class="an w" textLength="13.20" lengthAdjust="spacingAndGlyphs">0.92</text>
<text x="275.47" y="66.91" class="an w" textLength="13.20" lengthAdjust="spacingAndGlyphs">0.82</text>
<text x="289.06" y="66.91" class="an d" textLength="13.20" lengthAdjust="spacingAndGlyphs">0.73</text>
<text x="30.89" y="77.65" class="an d" textLength="13.20" lengthAdjust="spacingAndGlyphs">0.64</text>
<text x="44.48" y="77.65" class="an d" textLength="13.20" lengthAdjust="spacingAndGlyphs">0.74</text>
<text x="58.07" y="77.65" class="an w" textLength="13.20" lengthAdjust="spacingAndGlyphs">0.82</text>
<text x="71.66" y="77.65" class="an d" textLength="13.20" lengthAdjust="spacingAndGlyphs">0.56</text>
<text x="85.24" y="77.65" class="an d" textLength="13.20" lengthAdjust="spacingAndGlyphs">0.59</text>
<text x="98.83" y="77.65" class="an w" textLength="13.20" lengthAdjust="spacingAndGlyphs">1.00</text>
<text x="112.42" y="77.65" class="an d" textLength="13.20" lengthAdjust="spacingAndGlyphs">0.69</text>
<text x="126.01" y="77.65" class="an d" textLength="13.20" lengthAdjust="spacingAndGlyphs">0.77</text>
<text x="139.59" y="77.65" class="an d" textLength="13.20" lengthAdjust="spacingAndGlyphs">0.74</text>
<text x="153.18" y="77.65" class="an d" textLength="13.20" lengthAdjust="spacingAndGlyphs">0.73</text>
<text x="166.77" y="77.65" class="an d" textLength="13.20" lengthAdjust="spacingAndGlyphs">0.54</text>
<text x="180.36" y="77.65" class="an d" textLength="13.20" lengthAdjust="spacingAndGlyphs">0.52</text>
<text x="193.94" y="77.65" class="an d" textLength="13.20" lengthAdjust="spacingAndGlyphs">0.72</text>
<text x="207.53" y="77.65" class="an d" textLength="13.20" lengthAdjust="spacingAndGlyphs">0.68</text>
<text x="221.12" y="77.65" class="an d" textLength="13.20" lengthAdjust="spacingAndGlyphs">0.62</text>
<text x="234.71" y="77.65" class="an d" textLength="13.20" lengthAdjust="spacingAndGlyphs">0.76</text>
<text x="248.29" y="77.65" class="an d" textLength="13.20" lengthAdjust="spacingAndGlyphs">0.72</text>
<text x="261.88" y="77.65" class="an d" textLength="13.20" lengthAdjust="spacingAndGlyphs">0.63</text>
<text x="275.47" y="77.65" class="an d" textLength="13.20" lengthAdjust="spacingAndGlyphs">0.72</text>
<text x="289.06" y="77.65" class="an d" textLength="13.20" lengthAdjust="spacingAndGlyphs">0.58</text>
<text x="30.89" y="88.39" class="an w" textLength="13.20" lengthAdjust="spacingAndGlyphs">0.82</text>
<text x="44.48" y="88.39" class="an w" textLength="13.20" lengthAdjust="spacingAndGlyphs">0.90</text>
<text x="58.07" y="88.39" class="an d" textLength="13.20" lengthAdjust="spacingAndGlyphs">0.75</text>
<text x="71.66" y="88.39" class="an d" textLength="13.20" lengthAdjust="spacingAndGlyphs">0.72</text>
<text x="85.24" y="88.39" class="an w" textLength="13.20" lengthAdjust="spacingAndGlyphs">0.84</text>
<text x="98.83" y="88.39" class="an d" textLength="13.20" lengthAdjust="spacingAndGlyphs">0.69</text>
<text x="112.42" y="88.39" class="an w" textLength="13.20" lengthAdjust="spacingAndGlyphs">1.00</text>
<text x="126.01" y="88.39" class="an d" textLength="13.20" lengthAdjust="spacingAndGlyphs">0.75</text>
<text x="139.59" y="88.39" class="an d" textLength="13.20" lengthAdjust="spacingAndGlyphs">0.54</text>
<text x="153.18" y="88.39" class="an w" textLength="13.20" lengthAdjust="spacingAndGlyphs">0.84</text>
<text x="166.77" y="88.39" class="an w" textLength="13.20" lengthAdjust="spacingAndGlyphs">0.86</text>
<text x="180.36" y="88.39" class="an w" textLength="13.20" lengthAdjust="spacingAndGlyphs">0.82</text>
<text x="193.94" y="88.39" class="an w" textLength="13.20" lengthAdjust="spacingAndGlyphs">0.86</text>
<text x="207.53" y="88.39" class="an w" textLength="13.20" lengthAdjust="spacingAndGlyphs">0.91</text>
<text x="221.12" y="88.39" class="an d" textLength="13.20" lengthAdjust="spacingAndGlyphs">0.77</text>
<text x="234.71" y="88.39" class="an d" textLength="13.20" lengthAdjust="spacingAndGlyphs">0.72</text>
<text x="248.29" y="88.39" class="an d" textLength="13.20" lengthAdjust="spacingAndGlyphs">0.77</text>
<text x="261.88" y="88.39" class="an w" textLength="13.20" lengthAdjust="spacingAndGlyphs">0.85</text>
<text x="275.47" y="88.39" class="an w" textLength="13.20" lengthAdjust="spacingAndGlyphs">0.82</text>
<text x="289.06" y="88.39" class="an d" textLength="13.20" lengthAdjust="spacingAndGlyphs">0.75</text>
<text x="30.89" y="99.12" class="an d" textLength="13.20" lengthAdjust="spacingAndGlyphs">0.69</text>
<text x="44.48" y="99.12" class="an d" textLength="13.20" lengthAdjust="spacingAndGlyphs">0.74</text>
<text x="58.07" y="99.12" class="an w" textLength="13.20" lengthAdjust="spacingAndGlyphs">0.84</text>
<text x="71.66" y="99.12" class="an d" textLength="13.20" lengthAdjust="spacingAndGlyphs">0.66</text>
<text x="85.24" y="99.12" class="an d" textLength="13.20" lengthAdjust="spacingAndGlyphs">0.71</text>
<text x="98.83" y="99.12" class="an d" textLength="13.20" lengthAdjust="spacingAndGlyphs">0.77</text>
<text x="112.42" y="99.12" class="an d" textLength="13.20" lengthAdjust="spacingAndGlyphs">0.75</text>
<text x="126.01" y="99.12" class="an w" textLength="13.20" lengthAdjust="spacingAndGlyphs">1.00</text>
<text x="139.59" y="99.12" class="an d" textLength="13.20" lengthAdjust="spacingAndGlyphs">0.61</text>
<text x="153.18" y="99.12" class="an d" textLength="13.20" lengthAdjust="spacingAndGlyphs">0.77</text>
<text x="166.77" y="99.12" class="an d" textLength="13.20" lengthAdjust="spacingAndGlyphs">0.73</text>
<text x="180.36" y="99.12" class="an d" textLength="13.20" lengthAdjust="spacingAndGlyphs">0.70</text>
<text x="193.94" y="99.12" class="an d" textLength="13.20" lengthAdjust="spacingAndGlyphs">0.77</text>
<text x="207.53" y="99.12" class="an d" textLength="13.20" lengthAdjust="spacingAndGlyphs">0.76</text>
<text x="221.12" y="99.12" class="an d" textLength="13.20" lengthAdjust="spacingAndGlyphs">0.73</text>
<text x="234.71" y="99.12" class="an d" textLength="13.20" lengthAdjust="spacingAndGlyphs">0.75</text>
<text x="248.29" y="99.12" class="an w" textLength="13.20" lengthAdjust="spacingAndGlyphs">0.82</text>
<text x="261.88" y="99.12" class="an d" textLength="13.20" lengthAdjust="spacingAndGlyphs">0.75</text>
<text x="275.47" y="99.12" class="an w" textLength="13.20" lengthAdjust="spacingAndGlyphs">0.82</text>
<text x="289.06" y="99.12" class="an d" textLength="13.20" lengthAdjust="spacingAndGlyphs">0.66</text>
<text x="30.89" y="109.86" class="an d" textLength="13.20" lengthAdjust="spacingAndGlyphs">0.72</text>
<text x="44.48" y="109.86" class="an d" textLength="13.20" lengthAdjust="spacingAndGlyphs">0.72</text>
<text x="58.07" y="109.86" class="an d" textLength="13.20" lengthAdjust="spacingAndGlyphs">0.59</text>
<text x="71.66" y="109.86" class="an d" textLength="13.20" lengthAdjust="spacingAndGlyphs">0.68</text>
<text x="85.24" y="109.86" class="an d" textLength="13.20" lengthAdjust="spacingAndGlyphs">0.53</text>
<text x="98.83" y="109.86" class="an d" textLength="13.20" lengthAdjust="spacingAndGlyphs">0.74</text>
<text x="112.42" y="109.86" class="an d" textLength="13.20" lengthAdjust="spacingAndGlyphs">0.54</text>
<text x="126.01" y="109.86" class="an d" textLength="13.20" lengthAdjust="spacingAndGlyphs">0.61</text>
<text x="139.59" y="109.86" class="an w" textLength="13.20" lengthAdjust="spacingAndGlyphs">1.00</text>
<text x="153.18" y="109.86" class="an d" textLength="13.20" lengthAdjust="spacingAndGlyphs">0.58</text>
<text x="166.77" y="109.86" class="an w" textLength="13.20" lengthAdjust="spacingAndGlyphs">0.32</text>
<text x="180.36" y="109.86" class="an w" textLength="13.20" lengthAdjust="spacingAndGlyphs">0.27</text>
<text x="193.94" y="109.86" class="an d" textLength="13.20" lengthAdjust="spacingAndGlyphs">0.50</text>
<text x="207.53" y="109.86" class="an d" textLength="13.20" lengthAdjust="spacingAndGlyphs">0.49</text>
<text x="221.12" y="109.86" class="an w" textLength="13.20" lengthAdjust="spacingAndGlyphs">0.40</text>
<text x="234.71" y="109.86" class="an d" textLength="13.20" lengthAdjust="spacingAndGlyphs">0.62</text>
<text x="248.29" y="109.86" class="an d" textLength="13.20" lengthAdjust="spacingAndGlyphs">0.48</text>
<text x="261.88" y="109.86" class="an w" textLength="13.20" lengthAdjust="spacingAndGlyphs">0.42</text>
<text x="275.47" y="109.86" class="an d" textLength="13.20" lengthAdjust="spacingAndGlyphs">0.49</text>
<text x="289.06" y="109.86" class="an w" textLength="13.20" lengthAdjust="spacingAndGlyphs">0.44</text>
<text x="30.89" y="120.60" class="an w" textLength="13.20" lengthAdjust="spacingAndGlyphs">0.82</text>
<text x="44.48" y="120.60" class="an d" textLength="13.20" lengthAdjust="spacingAndGlyphs">0.76</text>
<text x="58.07" y="120.60" class="an w" textLength="13.20" lengthAdjust="spacingAndGlyphs">0.80</text>
<text x="71.66" y="120.60" class="an d" textLength="13.20" lengthAdjust="spacingAndGlyphs">0.76</text>
<text x="85.24" y="120.60" class="an w" textLength="13.20" lengthAdjust="spacingAndGlyphs">0.90</text>
<text x="98.83" y="120.60" class="an d" textLength="13.20" lengthAdjust="spacingAndGlyphs">0.73</text>
<text x="112.42" y="120.60" class="an w" textLength="13.20" lengthAdjust="spacingAndGlyphs">0.84</text>
<text x="126.01" y="120.60" class="an d" textLength="13.20" lengthAdjust="spacingAndGlyphs">0.77</text>
<text x="139.59" y="120.60" class="an d" textLength="13.20" lengthAdjust="spacingAndGlyphs">0.58</text>
<text x="153.18" y="120.60" class="an w" textLength="13.20" lengthAdjust="spacingAndGlyphs">1.00</text>
<text x="166.77" y="120.60" class="an d" textLength="13.20" lengthAdjust="spacingAndGlyphs">0.79</text>
<text x="180.36" y="120.60" class="an w" textLength="13.20" lengthAdjust="spacingAndGlyphs">0.80</text>
<text x="193.94" y="120.60" class="an w" textLength="13.20" lengthAdjust="spacingAndGlyphs">0.85</text>
<text x="207.53" y="120.60" class="an w" textLength="13.20" lengthAdjust="spacingAndGlyphs">0.85</text>
<text x="221.12" y="120.60" class="an d" textLength="13.20" lengthAdjust="spacingAndGlyphs">0.78</text>
<text x="234.71" y="120.60" class="an d" textLength="13.20" lengthAdjust="spacingAndGlyphs">0.74</text>
<text x="248.29" y="120.60" class="an d" textLength="13.20" lengthAdjust="spacingAndGlyphs">0.79</text>
<text x="261.88" y="120.60" class="an w" textLength="13.20" lengthAdjust="spacingAndGlyphs">0.95</text>
<text x="275.47" y="120.60" class="an w" textLength="13.20" lengthAdjust="spacingAndGlyphs">0.86</text>
<text x="289.06" y="120.60" class="an d" textLength="13.20" lengthAdjust="spacingAndGlyphs">0.74</text>
<text x="30.89" y="131.34" class="an d" textLength="13.20" lengthAdjust="spacingAndGlyphs">0.78</text>
<text x="44.48" y="131.34" class="an d" textLength="13.20" lengthAdjust="spacingAndGlyphs">0.71</text>
<text x="58.07" y="131.34" class="an d" textLength="13.20" lengthAdjust="spacingAndGlyphs">0.79</text>
<text x="71.66" y="131.34" class="an d" textLength="13.20" lengthAdjust="spacingAndGlyphs">0.66</text>
<text x="85.24" y="131.34" class="an w" textLength="13.20" lengthAdjust="spacingAndGlyphs">0.80</text>
<text x="98.83" y="131.34" class="an d" textLength="13.20" lengthAdjust="spacingAndGlyphs">0.54</text>
<text x="112.42" y="131.34" class="an w" textLength="13.20" lengthAdjust="spacingAndGlyphs">0.86</text>
<text x="126.01" y="131.34" class="an d" textLength="13.20" lengthAdjust="spacingAndGlyphs">0.73</text>
<text x="139.59" y="131.34" class="an w" textLength="13.20" lengthAdjust="spacingAndGlyphs">0.32</text>
<text x="153.18" y="131.34" class="an d" textLength="13.20" lengthAdjust="spacingAndGlyphs">0.79</text>
<text x="166.77" y="131.34" class="an w" textLength="13.20" lengthAdjust="spacingAndGlyphs">1.00</text>
<text x="180.36" y="131.34" class="an w" textLength="13.20" lengthAdjust="spacingAndGlyphs">0.96</text>
<text x="193.94" y="131.34" class="an w" textLength="13.20" lengthAdjust="spacingAndGlyphs">0.90</text>
<text x="207.53" y="131.34" class="an w" textLength="13.20" lengthAdjust="spacingAndGlyphs">0.92</text>
<text x="221.12" y="131.34" class="an w" textLength="13.20" lengthAdjust="spacingAndGlyphs">0.89</text>
<text x="234.71" y="131.34" class="an d" textLength="13.20" lengthAdjust="spacingAndGlyphs">0.73</text>
<text x="248.29" y="131.34" class="an w" textLength="13.20" lengthAdjust="spacingAndGlyphs">0.83</text>
<text x="261.88" y="131.34" class="an w" textLength="13.20" lengthAdjust="spacingAndGlyphs">0.89</text>
<text x="275.47" y="131.34" class="an w" textLength="13.20" lengthAdjust="spacingAndGlyphs">0.83</text>
<text x="289.06" y="131.34" class="an w" textLength="13.20" lengthAdjust="spacingAndGlyphs">0.87</text>
<text x="30.89" y="142.08" class="an d" textLength="13.20" lengthAdjust="spacingAndGlyphs">0.76</text>
<text x="44.48" y="142.08" class="an d" textLength="13.20" lengthAdjust="spacingAndGlyphs">0.64</text>
<text x="58.07" y="142.08" class="an d" textLength="13.20" lengthAdjust="spacingAndGlyphs">0.76</text>
<text x="71.66" y="142.08" class="an d" textLength="13.20" lengthAdjust="spacingAndGlyphs">0.64</text>
<text x="85.24" y="142.08" class="an w" textLength="13.20" lengthAdjust="spacingAndGlyphs">0.80</text>
<text x="98.83" y="142.08" class="an d" textLength="13.20" lengthAdjust="spacingAndGlyphs">0.52</text>
<text x="112.42" y="142.08" class="an w" textLength="13.20" lengthAdjust="spacingAndGlyphs">0.82</text>
<text x="126.01" y="142.08" class="an d" textLength="13.20" lengthAdjust="spacingAndGlyphs">0.70</text>
<text x="139.59" y="142.08" class="an w" textLength="13.20" lengthAdjust="spacingAndGlyphs">0.27</text>
<text x="153.18" y="142.08" class="an w" textLength="13.20" lengthAdjust="spacingAndGlyphs">0.80</text>
<text x="166.77" y="142.08" class="an w" textLength="13.20" lengthAdjust="spacingAndGlyphs">0.96</text>
<text x="180.36" y="142.08" class="an w" textLength="13.20" lengthAdjust="spacingAndGlyphs">1.00</text>
<text x="193.94" y="142.08" class="an w" textLength="13.20" lengthAdjust="spacingAndGlyphs">0.91</text>
<text x="207.53" y="142.08" class="an w" textLength="13.20" lengthAdjust="spacingAndGlyphs">0.91</text>
<text x="221.12" y="142.08" class="an w" textLength="13.20" lengthAdjust="spacingAndGlyphs">0.93</text>
<text x="234.71" y="142.08" class="an d" textLength="13.20" lengthAdjust="spacingAndGlyphs">0.74</text>
<text x="248.29" y="142.08" class="an w" textLength="13.20" lengthAdjust="spacingAndGlyphs">0.83</text>
<text x="261.88" y="142.08" class="an w" textLength="13.20" lengthAdjust="spacingAndGlyphs">0.90</text>
<text x="275.47" y="142.08" class="an w" textLength="13.20" lengthAdjust="spacingAndGlyphs">0.85</text>
<text x="289.06" y="142.08" class="an w" textLength="13.20" lengthAdjust="spacingAndGlyphs">0.89</text>
<text x="30.89" y="152.81" class="an w" textLength="13.20" lengthAdjust="spacingAndGlyphs">0.80</text>
<text x="44.48" y="152.81" class="an d" textLength="13.20" lengthAdjust="spacingAndGlyphs">0.74</text>
<text x="58.07" y="152.81" class="an w" textLength="13.20" lengthAdjust="spacingAndGlyphs">0.87</text>
<text x="71.66" y="152.81" class="an d" textLength="13.20" lengthAdjust="spacingAndGlyphs">0.66</text>
<text x="85.24" y="152.81" class="an d" textLength="13.20" lengthAdjust="spacingAndGlyphs">0.79</text>
<text x="98.83" y="152.81" class="an d" textLength="13.20" lengthAdjust="spacingAndGlyphs">0.72</text>
<text x="112.42" y="152.81" class="an w" textLength="13.20" lengthAdjust="spacingAndGlyphs">0.86</text>
<text x="126.01" y="152.81" class="an d" textLength="13.20" lengthAdjust="spacingAndGlyphs">0.77</text>
<text x="139.59" y="152.81" class="an d" textLength="13.20" lengthAdjust="spacingAndGlyphs">0.50</text>
<text x="153.18" y="152.81" class="an w" textLength="13.20" lengthAdjust="spacingAndGlyphs">0.85</text>
<text x="166.77" y="152.81" class="an w" textLength="13.20" lengthAdjust="spacingAndGlyphs">0.90</text>
<text x="180.36" y="152.81" class="an w" textLength="13.20" lengthAdjust="spacingAndGlyphs">0.91</text>
<text x="193.94" y="152.81" class="an w" textLength="13.20" lengthAdjust="spacingAndGlyphs">1.00</text>
<text x="207.53" y="152.81" class="an w" textLength="13.20" lengthAdjust="spacingAndGlyphs">0.93</text>
<text x="221.12" y="152.81" class="an w" textLength="13.20" lengthAdjust="spacingAndGlyphs">0.91</text>
<text x="234.71" y="152.81" class="an w" textLength="13.20" lengthAdjust="spacingAndGlyphs">0.82</text>
<text x="248.29" y="152.81" class="an w" textLength="13.20" lengthAdjust="spacingAndGlyphs">0.87</text>
<text x="261.88" y="152.81" class="an w" textLength="13.20" lengthAdjust="spacingAndGlyphs">0.88</text>
<text x="275.47" y="152.81" class="an w" textLength="13.20" lengthAdjust="spacingAndGlyphs">0.87</text>
<text x="289.06" y="152.81" class="an w" textLength="13.20" lengthAdjust="spacingAndGlyphs">0.86</text>
<text x="30.89" y="163.55" class="an w" textLength="13.20" lengthAdjust="spacingAndGlyphs">0.81</text>
<text x="44.48" y="163.55" class="an d" textLength="13.20" lengthAdjust="spacingAndGlyphs">0.77</text>
<text x="58.07" y="163.55" class="an w" textLength="13.20" lengthAdjust="spacingAndGlyphs">0.80</text>
<text x="71.66" y="163.55" class="an d" textLength="13.20" lengthAdjust="spacingAndGlyphs">0.69</text>
<text x="85.24" y="163.55" class="an d" textLength="13.20" lengthAdjust="spacingAndGlyphs">0.79</text>
<text x="98.83" y="163.55" class="an d" textLength="13.20" lengthAdjust="spacingAndGlyphs">0.68</text>
<text x="112.42" y="163.55" class="an w" textLength="13.20" lengthAdjust="spacingAndGlyphs">0.91</text>
<text x="126.01" y="163.55" class="an d" textLength="13.20" lengthAdjust="spacingAndGlyphs">0.76</text>
<text x="139.59" y="163.55" class="an d" textLength="13.20" lengthAdjust="spacingAndGlyphs">0.49</text>
<text x="153.18" y="163.55" class="an w" textLength="13.20" lengthAdjust="spacingAndGlyphs">0.85</text>
<text x="166.77" y="163.55" class="an w" textLength="13.20" lengthAdjust="spacingAndGlyphs">0.92</text>
<text x="180.36" y="163.55" class="an w" textLength="13.20" lengthAdjust="spacingAndGlyphs">0.91</text>
<text x="193.94" y="163.55" class="an w" textLength="13.20" lengthAdjust="spacingAndGlyphs">0.93</text>
<text x="207.53" y="163.55" class="an w" textLength="13.20" lengthAdjust="spacingAndGlyphs">1.00</text>
<text x="221.12" y="163.55" class="an w" textLength="13.20" lengthAdjust="spacingAndGlyphs">0.87</text>
<text x="234.71" y="163.55" class="an d" textLength="13.20" lengthAdjust="spacingAndGlyphs">0.79</text>
<text x="248.29" y="163.55" class="an w" textLength="13.20" lengthAdjust="spacingAndGlyphs">0.80</text>
<text x="261.88" y="163.55" class="an w" textLength="13.20" lengthAdjust="spacingAndGlyphs">0.89</text>
<text x="275.47" y="163.55" class="an w" textLength="13.20" lengthAdjust="spacingAndGlyphs">0.86</text>
<text x="289.06" y="163.55" class="an w" textLength="13.20" lengthAdjust="spacingAndGlyphs">0.88</text>
<text x="30.89" y="174.29" class="an w" textLength="13.20" lengthAdjust="spacingAndGlyphs">0.82</text>
<text x="44.48" y="174.29" class="an d" textLength="13.20" lengthAdjust="spacingAndGlyphs">0.66</text>
<text x="58.07" y="174.29" class="an w" textLength="13.20" lengthAdjust="spacingAndGlyphs">0.82</text>
<text x="71.66" y="174.29" class="an d" textLength="13.20" lengthAdjust="spacingAndGlyphs">0.68</text>
<text x="85.24" y="174.29" class="an d" textLength="13.20" lengthAdjust="spacingAndGlyphs">0.79</text>
<text x="98.83" y="174.29" class="an d" textLength="13.20" lengthAdjust="spacingAndGlyphs">0.62</text>
<text x="112.42" y="174.29" class="an d" textLength="13.20" lengthAdjust="spacingAndGlyphs">0.77</text>
<text x="126.01" y="174.29" class="an d" textLength="13.20" lengthAdjust="spacingAndGlyphs">0.73</text>
<text x="139.59" y="174.29" class="an w" textLength="13.20" lengthAdjust="spacingAndGlyphs">0.40</text>
<text x="153.18" y="174.29" class="an d" textLength="13.20" lengthAdjust="spacingAndGlyphs">0.78</text>
<text x="166.77" y="174.29" class="an w" textLength="13.20" lengthAdjust="spacingAndGlyphs">0.89</text>
<text x="180.36" y="174.29" class="an w" textLength="13.20" lengthAdjust="spacingAndGlyphs">0.93</text>
<text x="193.94" y="174.29" class="an w" textLength="13.20" lengthAdjust="spacingAndGlyphs">0.91</text>
<text x="207.53" y="174.29" class="an w" textLength="13.20" lengthAdjust="spacingAndGlyphs">0.87</text>
<text x="221.12" y="174.29" class="an w" textLength="13.20" lengthAdjust="spacingAndGlyphs">1.00</text>
<text x="234.71" y="174.29" class="an w" textLength="13.20" lengthAdjust="spacingAndGlyphs">0.84</text>
<text x="248.29" y="174.29" class="an w" textLength="13.20" lengthAdjust="spacingAndGlyphs">0.87</text>
<text x="261.88" y="174.29" class="an w" textLength="13.20" lengthAdjust="spacingAndGlyphs">0.87</text>
<text x="275.47" y="174.29" class="an w" textLength="13.20" lengthAdjust="spacingAndGlyphs">0.84</text>
<text x="289.06" y="174.29" class="an w" textLength="13.20" lengthAdjust="spacingAndGlyphs">0.91</text>
<text x="30.89" y="185.03" class="an w" textLength="13.20" lengthAdjust="spacingAndGlyphs">0.82</text>
<text x="44.48" y="185.03" class="an d" textLength="13.20" lengthAdjust="spacingAndGlyphs">0.70</text>
<text x="58.07" y="185.03" class="an w" textLength="13.20" lengthAdjust="spacingAndGlyphs">0.84</text>
<text x="71.66" y="185.03" class="an d" textLength="13.20" lengthAdjust="spacingAndGlyphs">0.71</text>
<text x="85.24" y="185.03" class="an d" textLength="13.20" lengthAdjust="spacingAndGlyphs">0.69</text>
<text x="98.83" y="185.03" class="an d" textLength="13.20" lengthAdjust="spacingAndGlyphs">0.76</text>
<text x="112.42" y="185.03" class="an d" textLength="13.20" lengthAdjust="spacingAndGlyphs">0.72</text>
<text x="126.01" y="185.03" class="an d" textLength="13.20" lengthAdjust="spacingAndGlyphs">0.75</text>
<text x="139.59" y="185.03" class="an d" textLength="13.20" lengthAdjust="spacingAndGlyphs">0.62</text>
<text x="153.18" y="185.03" class="an d" textLength="13.20" lengthAdjust="spacingAndGlyphs">0.74</text>
<text x="166.77" y="185.03" class="an d" textLength="13.20" lengthAdjust="spacingAndGlyphs">0.73</text>
<text x="180.36" y="185.03" class="an d" textLength="13.20" lengthAdjust="spacingAndGlyphs">0.74</text>
<text x="193.94" y="185.03" class="an w" textLength="13.20" lengthAdjust="spacingAndGlyphs">0.82</text>
<text x="207.53" y="185.03" class="an d" textLength="13.20" lengthAdjust="spacingAndGlyphs">0.79</text>
<text x="221.12" y="185.03" class="an w" textLength="13.20" lengthAdjust="spacingAndGlyphs">0.84</text>
<text x="234.71" y="185.03" class="an w" textLength="13.20" lengthAdjust="spacingAndGlyphs">1.00</text>
<text x="248.29" y="185.03" class="an w" textLength="13.20" lengthAdjust="spacingAndGlyphs">0.81</text>
<text x="261.88" y="185.03" class="an d" textLength="13.20" lengthAdjust="spacingAndGlyphs">0.73</text>
<text x="275.47" y="185.03" class="an d" textLength="13.20" lengthAdjust="spacingAndGlyphs">0.71</text>
<text x="289.06" y="185.03" class="an w" textLength="13.20" lengthAdjust="spacingAndGlyphs">0.85</text>
<text x="30.89" y="195.77" class="an d" textLength="13.20" lengthAdjust="spacingAndGlyphs">0.76</text>
<text x="44.48" y="195.77" class="an d" textLength="13.20" lengthAdjust="spacingAndGlyphs">0.73</text>
<text x="58.07" y="195.77" class="an w" textLength="13.20" lengthAdjust="spacingAndGlyphs">0.96</text>
<text x="71.66" y="195.77" class="an d" textLength="13.20" lengthAdjust="spacingAndGlyphs">0.69</text>
<text x="85.24" y="195.77" class="an d" textLength="13.20" lengthAdjust="spacingAndGlyphs">0.79</text>
<text x="98.83" y="195.77" class="an d" textLength="13.20" lengthAdjust="spacingAndGlyphs">0.72</text>
<text x="112.42" y="195.77" class="an d" textLength="13.20" lengthAdjust="spacingAndGlyphs">0.77</text>
<text x="126.01" y="195.77" class="an w" textLength="13.20" lengthAdjust="spacingAndGlyphs">0.82</text>
<text x="139.59" y="195.77" class="an d" textLength="13.20" lengthAdjust="spacingAndGlyphs">0.48</text>
<text x="153.18" y="195.77" class="an d" textLength="13.20" lengthAdjust="spacingAndGlyphs">0.79</text>
<text x="166.77" y="195.77" class="an w" textLength="13.20" lengthAdjust="spacingAndGlyphs">0.83</text>
<text x="180.36" y="195.77" class="an w" textLength="13.20" lengthAdjust="spacingAndGlyphs">0.83</text>
<text x="193.94" y="195.77" class="an w" textLength="13.20" lengthAdjust="spacingAndGlyphs">0.87</text>
<text x="207.53" y="195.77" class="an w" textLength="13.20" lengthAdjust="spacingAndGlyphs">0.80</text>
<text x="221.12" y="195.77" class="an w" textLength="13.20" lengthAdjust="spacingAndGlyphs">0.87</text>
<text x="234.71" y="195.77" class="an w" textLength="13.20" lengthAdjust="spacingAndGlyphs">0.81</text>
<text x="248.29" y="195.77" class="an w" textLength="13.20" lengthAdjust="spacingAndGlyphs">1.00</text>
<text x="261.88" y="195.77" class="an w" textLength="13.20" lengthAdjust="spacingAndGlyphs">0.82</text>
<text x="275.47" y="195.77" class="an w" textLength="13.20" lengthAdjust="spacingAndGlyphs">0.83</text>
<text x="289.06" y="195.77" class="an d" textLength="13.20" lengthAdjust="spacingAndGlyphs">0.77</text>
<text x="30.89" y="206.50" class="an w" textLength="13.20" lengthAdjust="spacingAndGlyphs">0.82</text>
<text x="44.48" y="206.50" class="an d" textLength="13.20" lengthAdjust="spacingAndGlyphs">0.72</text>
<text x="58.07" y="206.50" class="an d" textLength="13.20" lengthAdjust="spacingAndGlyphs">0.78</text>
<text x="71.66" y="206.50" class="an d" textLength="13.20" lengthAdjust="spacingAndGlyphs">0.71</text>
<text x="85.24" y="206.50" class="an w" textLength="13.20" lengthAdjust="spacingAndGlyphs">0.92</text>
<text x="98.83" y="206.50" class="an d" textLength="13.20" lengthAdjust="spacingAndGlyphs">0.63</text>
<text x="112.42" y="206.50" class="an w" textLength="13.20" lengthAdjust="spacingAndGlyphs">0.85</text>
<text x="126.01" y="206.50" class="an d" textLength="13.20" lengthAdjust="spacingAndGlyphs">0.75</text>
<text x="139.59" y="206.50" class="an w" textLength="13.20" lengthAdjust="spacingAndGlyphs">0.42</text>
<text x="153.18" y="206.50" class="an w" textLength="13.20" lengthAdjust="spacingAndGlyphs">0.95</text>
<text x="166.77" y="206.50" class="an w" textLength="13.20" lengthAdjust="spacingAndGlyphs">0.89</text>
<text x="180.36" y="206.50" class="an w" textLength="13.20" lengthAdjust="spacingAndGlyphs">0.90</text>
<text x="193.94" y="206.50" class="an w" textLength="13.20" lengthAdjust="spacingAndGlyphs">0.88</text>
<text x="207.53" y="206.50" class="an w" textLength="13.20" lengthAdjust="spacingAndGlyphs">0.89</text>
<text x="221.12" y="206.50" class="an w" textLength="13.20" lengthAdjust="spacingAndGlyphs">0.87</text>
<text x="234.71" y="206.50" class="an d" textLength="13.20" lengthAdjust="spacingAndGlyphs">0.73</text>
<text x="248.29" y="206.50" class="an w" textLength="13.20" lengthAdjust="spacingAndGlyphs">0.82</text>
<text x="261.88" y="206.50" class="an w" textLength="13.20" lengthAdjust="spacingAndGlyphs">1.00</text>
<text x="275.47" y="206.50" class="an w" textLength="13.20" lengthAdjust="spacingAndGlyphs">0.89</text>
<text x="289.06" y="206.50" class="an w" textLength="13.20" lengthAdjust="spacingAndGlyphs">0.83</text>
<text x="30.89" y="217.24" class="an d" textLength="13.20" lengthAdjust="spacingAndGlyphs">0.77</text>
<text x="44.48" y="217.24" class="an d" textLength="13.20" lengthAdjust="spacingAndGlyphs">0.75</text>
<text x="58.07" y="217.24" class="an w" textLength="13.20" lengthAdjust="spacingAndGlyphs">0.82</text>
<text x="71.66" y="217.24" class="an d" textLength="13.20" lengthAdjust="spacingAndGlyphs">0.63</text>
<text x="85.24" y="217.24" class="an w" textLength="13.20" lengthAdjust="spacingAndGlyphs">0.82</text>
<text x="98.83" y="217.24" class="an d" textLength="13.20" lengthAdjust="spacingAndGlyphs">0.72</text>
<text x="112.42" y="217.24" class="an w" textLength="13.20" lengthAdjust="spacingAndGlyphs">0.82</text>
<text x="126.01" y="217.24" class="an w" textLength="13.20" lengthAdjust="spacingAndGlyphs">0.82</text>
<text x="139.59" y="217.24" class="an d" textLength="13.20" lengthAdjust="spacingAndGlyphs">0.49</text>
<text x="153.18" y="217.24" class="an w" textLength="13.20" lengthAdjust="spacingAndGlyphs">0.86</text>
<text x="166.77" y="217.24" class="an w" textLength="13.20" lengthAdjust="spacingAndGlyphs">0.83</text>
<text x="180.36" y="217.24" class="an w" textLength="13.20" lengthAdjust="spacingAndGlyphs">0.85</text>
<text x="193.94" y="217.24" class="an w" textLength="13.20" lengthAdjust="spacingAndGlyphs">0.87</text>
<text x="207.53" y="217.24" class="an w" textLength="13.20" lengthAdjust="spacingAndGlyphs">0.86</text>
<text x="221.12" y="217.24" class="an w" textLength="13.20" lengthAdjust="spacingAndGlyphs">0.84</text>
<text x="234.71" y="217.24" class="an d" textLength="13.20" lengthAdjust="spacingAndGlyphs">0.71</text>
<text x="248.29" y="217.24" class="an w" textLength="13.20" lengthAdjust="spacingAndGlyphs">0.83</text>
<text x="261.88" y="217.24" class="an w" textLength="13.20" lengthAdjust="spacingAndGlyphs">0.89</text>
<text x="275.47" y="217.24" class="an w" textLength="13.20" lengthAdjust="spacingAndGlyphs">1.00</text>
<text x="289.06" y="217.24" class="an d" textLength="13.20" lengthAdjust="spacingAndGlyphs">0.78</text>
<text x="30.89" y="227.98" class="an w" textLength="13.20" lengthAdjust="spacingAndGlyphs">0.85</text>
<text x="44.48" y="227.98" class="an d" textLength="13.20" lengthAdjust="spacingAndGlyphs">0.64</text>
<text x="58.07" y="227.98" class="an d" textLength="13.20" lengthAdjust="spacingAndGlyphs">0.76</text>
<text x="71.66" y="227.98" class="an d" textLength="13.20" lengthAdjust="spacingAndGlyphs">0.66</text>
<text x="85.24" y="227.98" class="an d" textLength="13.20" lengthAdjust="spacingAndGlyphs">0.73</text>
<text x="98.83" y="227.98" class="an d" textLength="13.20" lengthAdjust="spacingAndGlyphs">0.58</text>
<text x="112.42" y="227.98" class="an d" textLength="13.20" lengthAdjust="spacingAndGlyphs">0.75</text>
<text x="126.01" y="227.98" class="an d" textLength="13.20" lengthAdjust="spacingAndGlyphs">0.66</text>
<text x="139.59" y="227.98" class="an w" textLength="13.20" lengthAdjust="spacingAndGlyphs">0.44</text>
<text x="153.18" y="227.98" class="an d" textLength="13.20" lengthAdjust="spacingAndGlyphs">0.74</text>
<text x="166.77" y="227.98" class="an w" textLength="13.20" lengthAdjust="spacingAndGlyphs">0.87</text>
<text x="180.36" y="227.98" class="an w" textLength="13.20" lengthAdjust="spacingAndGlyphs">0.89</text>
<text x="193.94" y="227.98" class="an w" textLength="13.20" lengthAdjust="spacingAndGlyphs">0.86</text>
<text x="207.53" y="227.98" class="an w" textLength="13.20" lengthAdjust="spacingAndGlyphs">0.88</text>
<text x="221.12" y="227.98" class="an w" textLength="13.20" lengthAdjust="spacingAndGlyphs">0.91</text>
<text x="234.71" y="227.98" class="an w" textLength="13.20" lengthAdjust="spacingAndGlyphs">0.85</text>
<text x="248.29" y="227.98" class="an d" textLength="13.20" lengthAdjust="spacingAndGlyphs">0.77</text>
<text x="261.88" y="227.98" class="an w" textLength="13.20" lengthAdjust="spacingAndGlyphs">0.83</text>
<text x="275.47" y="227.98" class="an d" textLength="13.20" lengthAdjust="spacingAndGlyphs">0.78</text>
<text x="289.06" y="227.98" class="an w" textLength="13.20" lengthAdjust="spacingAndGlyphs">1.00</text>
<line x1="21.90" y1="22.31" x2="24.10" y2="22.31" class="tk"/>
<text x="19.70" y="23.81" class="yt" textLength="11.04" lengthAdjust="spacingAndGlyphs">A_1</text>
<line x1="21.90" y1="33.05" x2="24.10" y2="33.05" class="tk"/>
<text x="19.70" y="34.55" class="yt" textLength="11.04" lengthAdjust="spacingAndGlyphs">A_2</text>
<line x1="21.90" y1="43.78" x2="24.10" y2="43.78" class="tk"/>
<text x="19.70" y="45.28" class="yt" textLength="11.04" lengthAdjust="spacingAndGlyphs">A_3</text>
<line x1="21.90" y1="54.52" x2="24.10" y2="54.52" class="tk"/>
<text x="19.70" y="56.02" class="yt" textLength="11.04" lengthAdjust="spacingAndGlyphs">A_4</text>
<line x1="21.90" y1="65.26" x2="24.10" y2="65.26" class="tk"/>
<text x="19.70" y="66.76" class="yt" textLength="11.04" lengthAdjust="spacingAndGlyphs">A_5</text>
<line x1="21.90" y1="76.00" x2="24.10" y2="76.00" class="tk"/>
<text x="19.70" y="77.50" class="yt" textLength="11.04" lengthAdjust="spacingAndGlyphs">B_1</text>
<line x1="21.90" y1="86.74" x2="24.10" y2="86.74" class="tk"/>
<text x="19.70" y="88.24" class="yt" textLength="11.04" lengthAdjust="spacingAndGlyphs">B_2</text>
<line x1="21.90" y1="97.47" x2="24.10" y2="97.47" class="tk"/>
<text x="19.70" y="98.97" class="yt" textLength="11.04" lengthAdjust="spacingAndGlyphs">B_3</text>
<line x1="21.90" y1="108.21" x2="24.10" y2="108.21" class="tk"/>
<text x="19.70" y="109.71" class="yt" textLength="11.04" lengthAdjust="spacingAndGlyphs">B_4</text>
<line x1="21.90" y1="118.95" x2="24.10" y2="118.95" class="tk"/>
<text x="19.70" y="120.45" class="yt" textLength="11.04" lengthAdjust="spacingAndGlyphs">B_5</text>
<line x1="21.90" y1="129.69" x2="24.10" y2="129.69" class="tk"/>
<text x="19.70" y="131.19" class="yt" textLength="11.38" lengthAdjust="spacingAndGlyphs">C_1</text>
<line x1="21.90" y1="140.43" x2="24.10" y2="140.43" class="tk"/>
<text x="19.70" y="141.93" class="yt" textLength="11.38" lengthAdjust="spacingAndGlyphs">C_2</text>
<line x1="21.90" y1="151.16" x2="24.10" y2="151.16" class="tk"/>
<text x="19.70" y="152.66" class="yt" textLength="11.38" lengthAdjust="spacingAndGlyphs">C_3</text>
<line x1="21.90" y1="161.90" x2="24.10" y2="161.90" class="tk"/>
<text x="19.70" y="163.40" class="yt" textLength="11.38" lengthAdjust="spacingAndGlyphs">C_4</text>
<line x1="21.90" y1="172.64" x2="24.10" y2="172.64" class="tk"/>
<text x="19.70" y="174.14" class="yt" textLength="11.38" lengthAdjust="spacingAndGlyphs">C_5</text>
<line x1="21.90" y1="183.38" x2="24.10" y2="183.38" class="tk"/>
<text x="19.70" y="184.88" class="yt" textLength="11.38" lengthAdjust="spacingAndGlyphs">D_1</text>
<line x1="21.90" y1="194.12" x2="24.10" y2="194.12" class="tk"/>
<text x="19.70" y="195.62" class="yt" textLength="11.38" lengthAdjust="spacingAndGlyphs">D_2</text>
<line x1="21.90" y1="204.85" x2="24.10" y2="204.85" class="tk"/>
<text x="19.70" y="206.35" class="yt" textLength="11.38" lengthAdjust="spacingAndGlyphs">D_3</text>
<line x1="21.90" y1="215.59" x2="24.10" y2="215.59" class="tk"/>
<text x="19.70" y="217.09" class="yt" textLength="11.38" lengthAdjust="spacingAndGlyphs">D_4</text>
<line x1="21.90" y1="226.33" x2="24.10" y2="226.33" class="tk"/>
<text x="19.70" y="227.83" class="yt" textLength="11.38" lengthAdjust="spacingAndGlyphs">D_5</text>
<line x1="30.89" y1="231.70" x2="30.89" y2="233.90" class="tk"/>
<text x="30.89" y="240.60" class="xt" textLength="11.04" lengthAdjust="spacingAndGlyphs">A_1</text>
<line x1="44.48" y1="231.70" x2="44.48" y2="233.90" class="tk"/>
<text x="44.48" y="240.60" class="xt" textLength="11.04" lengthAdjust="spacingAndGlyphs">A_2</text>
<line x1="58.07" y1="231.70" x2="58.07" y2="233.90" class="tk"/>
<text x="58.07" y="240.60" class="xt" textLength="11.04" lengthAdjust="spacingAndGlyphs">A_3</text>
<line x1="71.66" y1="231.70" x2="71.66" y2="233.90" class="tk"/>
<text x="71.66" y="240.60" class="xt" textLength="11.04" lengthAdjust="spacingAndGlyphs">A_4</text>
<line x1="85.24" y1="231.70" x2="85.24" y2="233.90" class="tk"/>
<text x="85.24" y="240.60" class="xt" textLength="11.04" lengthAdjust="spacingAndGlyphs">A_5</text>
<line x1="98.83" y1="231.70" x2="98.83" y2="233.90" class="tk"/>
<text x="98.83" y="240.60" class="xt" textLength="11.04" lengthAdjust="spacingAndGlyphs">B_1</text>
<line x1="112.42" y1="231.70" x2="112.42" y2="233.90" class="tk"/>
<text x="112.42" y="240.60" class="xt" textLength="11.04" lengthAdjust="spacingAndGlyphs">B_2</text>
<line x1="126.01" y1="231.70" x2="126.01" y2="233.90" class="tk"/>
<text x="126.01" y="240.60" class="xt" textLength="11.04" lengthAdjust="spacingAndGlyphs">B_3</text>
<line x1="139.59" y1="231.70" x2="139.59" y2="233.90" class="tk"/>
<text x="139.59" y="240.60" class="xt" textLength="11.04" lengthAdjust="spacingAndGlyphs">B_4</text>
<line x1="153.18" y1="231.70" x2="153.18" y2="233.90" class="tk"/>
<text x="153.18" y="240.60" class="xt" textLength="11.04" lengthAdjust="spacingAndGlyphs">B_5</text>
<line x1="166.77" y1="231.70" x2="166.77" y2="233.90" class="tk"/>
<text x="166.77" y="240.60" class="xt" textLength="11.38" lengthAdjust="spacingAndGlyphs">C_1</text>
<line x1="180.36" y1="231.70" x2="180.36" y2="233.90" class="tk"/>
<text x="180.36" y="240.60" class="xt" textLength="11.38" lengthAdjust="spacingAndGlyphs">C_2</text>
<line x1="193.94" y1="231.70" x2="193.94" y2="233.90" class="tk"/>
<text x="193.94" y="240.60" class="xt" textLength="11.38" lengthAdjust="spacingAndGlyphs">C_3</text>
<line x1="207.53" y1="231.70" x2="207.53" y2="233.90" class="tk"/>
<text x="207.53" y="240.60" class="xt" textLength="11.38" lengthAdjust="spacingAndGlyphs">C_4</text>
<line x1="221.12" y1="231.70" x2="221.12" y2="233.90" class="tk"/>
<text x="221.12" y="240.60" class="xt" textLength="11.38" lengthAdjust="spacingAndGlyphs">C_5</text>
<line x1="234.71" y1="231.70" x2="234.71" y2="233.90" class="tk"/>
<text x="234.71" y="240.60" class="xt" textLength="11.38" lengthAdjust="spacingAndGlyphs">D_1</text>
<line x1="248.29" y1="231.70" x2="248.29" y2="233.90" class="tk"/>
<text x="248.29" y="240.60" class="xt" textLength="11.38" lengthAdjust="spacingAndGlyphs">D_2</text>
<line x1="261.88" y1="231.70" x2="261.88" y2="233.90" class="tk"/>
<text x="261.88" y="240.60" class="xt" textLength="11.38" lengthAdjust="spacingAndGlyphs">D_3</text>
<line x1="275.47" y1="231.70" x2="275.47" y2="233.90" class="tk"/>
<text x="275.47" y="240.60" class="xt" textLength="11.38" lengthAdjust="spacingAndGlyphs">D_4</text>
<line x1="289.06" y1="231.70" x2="289.06" y2="233.90" class="tk"/>
<text x="289.06" y="240.60" class="xt" textLength="11.38" lengthAdjust="spacingAndGlyphs">D_5</text>
<defs><linearGradient id="ga" x1="0" y1="0" x2="0" y2="1"><stop offset="0.0000" stop-color="#781634"/><stop offset="0.0156" stop-color="#7e1b37"/><stop offset="0.0312" stop-color="#88203b"/><stop offset="0.0469" stop-color="#94273f"/><stop offset="0.0625" stop-color="#9e2b42"/><stop offset="0.0781" stop-color="#a92f45"/><stop offset="0.0938" stop-color="#b13649"/><stop offset="0.1094" stop-color="#b6404d"/><stop offset="0.1250" stop-color="#bc4a51"/><stop offset="0.1406" stop-color="#c25355"/><stop offset="0.1562" stop-color="#c75d59"/><stop offset="0.1719" stop-color="#cd675d"/><stop offset="0.1875" stop-color="#d27062"/><stop offset="0.2031" stop-color="#d67969"/><stop offset="0.2188" stop-color="#da8370"/><stop offset="0.2344" stop-color="#de8c76"/><stop offset="0.2500" stop-color="#e3957d"/><stop offset="0.2656" stop-color="#e79e83"/><stop offset="0.2812" stop-color="#e9a68b"/><stop offset="0.2969" stop-color="#ebac93"/><stop offset="0.3125" stop-color="#edb39a"/><stop offset="0.3281" stop-color="#f0b9a2"/><stop offset="0.3438" stop-color="#f2c0aa"/><stop offset="0.3594" stop-color="#f4c6b2"/><stop offset="0.3750" stop-color="#f4cebb"/><stop offset="0.3906" stop-color="#f3d5c4"/><stop offset="0.4062" stop-color="#f3dccd"/><stop offset="0.4219" stop-color="#f3e0d4"/><stop offset="0.4375" stop-color="#f2e4db"/><stop offset="0.4531" stop-color="#f2e8e1"/><stop offset="0.4688" stop-color="#f3ece8"/><stop offset="0.4844" stop-color="#f4f1ee"/><stop offset="0.5000" stop-color="#f5f5f5"/><stop offset="0.5156" stop-color="#eff1f3"/><stop offset="0.5312" stop-color="#e9eef2"/><stop offset="0.5469" stop-color="#e3eaf0"/><stop offset="0.5625" stop-color="#dce6ef"/><stop offset="0.5781" stop-color="#d3e3ee"/><stop offset="0.5938" stop-color="#cbdfec"/><stop offset="0.6094" stop-color="#c3dceb"/><stop offset="0.6250" stop-color="#bbd8ea"/><stop offset="0.6406" stop-color="#b3d5e8"/><stop offset="0.6562" stop-color="#aad1e8"/><stop offset="0.6719" stop-color="#a0cce8"/><stop offset="0.6875" stop-color="#97c8e8"/><stop offset="0.7031" stop-color="#8ac1e4"/><stop offset="0.7188" stop-color="#7db9df"/><stop offset="0.7344" stop-color="#70b1da"/><stop offset="0.7500" stop-color="#5cabd8"/><stop offset="0.7656" stop-color="#47a5d6"/><stop offset="0.7812" stop-color="#32a0d3"/><stop offset="0.7969" stop-color="#2b9cd1"/><stop offset="0.8125" stop-color="#2498cf"/><stop offset="0.8281" stop-color="#1e94cc"/><stop offset="0.8438" stop-color="#188fc9"/><stop offset="0.8594" stop-color="#128ac6"/><stop offset="0.8750" stop-color="#0c85c4"/><stop offset="0.8906" stop-color="#0c81c0"/><stop offset="0.9062" stop-color="#0b7dbd"/><stop offset="0.9219" stop-color="#0b78b6"/><stop offset="0.9375" stop-color="#0a72ad"/><stop offset="0.9531" stop-color="#0a6ca4"/><stop offset="0.9688" stop-color="#0b649b"/><stop offset="0.9844" stop-color="#0b5e93"/><stop offset="1.0000" stop-color="#0a588c"/></linearGradient></defs>
<rect x="312.85" y="16.94" width="10.35" height="214.76" fill="url(#ga)"/>
<line x1="323.20" y1="16.94" x2="325.40" y2="16.94" class="tk"/>
<text x="328.20" y="19.74" class="cb" textLength="9.4" lengthAdjust="spacingAndGlyphs">1.0</text>
<line x1="323.20" y1="46.36" x2="325.40" y2="46.36" class="tk"/>
<text x="328.20" y="49.16" class="cb" textLength="9.4" lengthAdjust="spacingAndGlyphs">0.9</text>
<line x1="323.20" y1="75.78" x2="325.40" y2="75.78" class="tk"/>
<text x="328.20" y="78.58" class="cb" textLength="9.4" lengthAdjust="spacingAndGlyphs">0.8</text>
<line x1="323.20" y1="105.20" x2="325.40" y2="105.20" class="tk"/>
<text x="328.20" y="108.00" class="cb" textLength="9.4" lengthAdjust="spacingAndGlyphs">0.7</text>
<line x1="323.20" y1="134.62" x2="325.40" y2="134.62" class="tk"/>
<text x="328.20" y="137.42" class="cb" textLength="9.4" lengthAdjust="spacingAndGlyphs">0.6</text>
<line x1="323.20" y1="164.04" x2="325.40" y2="164.04" class="tk"/>
<text x="328.20" y="166.84" class="cb" textLength="9.4" lengthAdjust="spacingAndGlyphs">0.5</text>
<line x1="323.20" y1="193.46" x2="325.40" y2="193.46" class="tk"/>
<text x="328.20" y="196.26" class="cb" textLength="9.4" lengthAdjust="spacingAndGlyphs">0.4</text>
<line x1="323.20" y1="222.87" x2="325.40" y2="222.87" class="tk"/>
<text x="328.20" y="225.67" class="cb" textLength="9.4" lengthAdjust="spacingAndGlyphs">0.3</text>
<text x="161.90" y="7.90" class="ti" textLength="161.3" lengthAdjust="spacingAndGlyphs">R-AGC common features correlation heatmap</text>
<text x="-1.00" y="7.90" class="pn">a</text>
<rect x="373.70" y="17.90" width="13.53" height="10.71" fill="#781634"/>
<rect x="387.21" y="17.90" width="13.53" height="10.71" fill="#bf4f53"/>
<rect x="400.72" y="17.90" width="13.53" height="10.71" fill="#b53e4c"/>
<rect x="414.23" y="17.90" width="13.53" height="10.71" fill="#bf4f53"/>
<rect x="427.74" y="17.90" width="13.53" height="10.71" fill="#a42d44"/>
<rect x="441.25" y="17.90" width="13.53" height="10.71" fill="#f4efec"/>
<rect x="454.76" y="17.90" width="13.53" height="10.71" fill="#f3f4f4"/>
<rect x="468.27" y="17.90" width="13.53" height="10.71" fill="#e9edf2"/>
<rect x="481.78" y="17.90" width="13.53" height="10.71" fill="#e59a80"/>
<rect x="495.29" y="17.90" width="13.53" height="10.71" fill="#f0b9a2"/>
<rect x="508.80" y="17.90" width="13.53" height="10.71" fill="#eeb69e"/>
<rect x="522.31" y="17.90" width="13.53" height="10.71" fill="#ecae95"/>
<rect x="535.82" y="17.90" width="13.53" height="10.71" fill="#f4d1bf"/>
<rect x="549.33" y="17.90" width="13.53" height="10.71" fill="#cc655c"/>
<rect x="562.84" y="17.90" width="13.53" height="10.71" fill="#f3e1d6"/>
<rect x="576.35" y="17.90" width="13.53" height="10.71" fill="#f5f4f4"/>
<rect x="589.86" y="17.90" width="13.53" height="10.71" fill="#ecae95"/>
<rect x="603.37" y="17.90" width="13.53" height="10.71" fill="#bdd9ea"/>
<rect x="616.88" y="17.90" width="13.53" height="10.71" fill="#eaa78c"/>
<rect x="630.39" y="17.90" width="13.53" height="10.71" fill="#e08f78"/>
<rect x="373.70" y="28.59" width="13.53" height="10.71" fill="#bf4f53"/>
<rect x="387.21" y="28.59" width="13.53" height="10.71" fill="#781634"/>
<rect x="400.72" y="28.59" width="13.53" height="10.71" fill="#b8444e"/>
<rect x="414.23" y="28.59" width="13.53" height="10.71" fill="#d47566"/>
<rect x="427.74" y="28.59" width="13.53" height="10.71" fill="#b53e4c"/>
<rect x="441.25" y="28.59" width="13.53" height="10.71" fill="#eff1f4"/>
<rect x="454.76" y="28.59" width="13.53" height="10.71" fill="#f3dfd2"/>
<rect x="468.27" y="28.59" width="13.53" height="10.71" fill="#cbdfec"/>
<rect x="481.78" y="28.59" width="13.53" height="10.71" fill="#cf6a5e"/>
<rect x="495.29" y="28.59" width="13.53" height="10.71" fill="#f1bda7"/>
<rect x="508.80" y="28.59" width="13.53" height="10.71" fill="#f4ccba"/>
<rect x="522.31" y="28.59" width="13.53" height="10.71" fill="#f1bda7"/>
<rect x="535.82" y="28.59" width="13.53" height="10.71" fill="#f3dfd2"/>
<rect x="549.33" y="28.59" width="13.53" height="10.71" fill="#d67a69"/>
<rect x="562.84" y="28.59" width="13.53" height="10.71" fill="#f3ddce"/>
<rect x="576.35" y="28.59" width="13.53" height="10.71" fill="#f5f4f4"/>
<rect x="589.86" y="28.59" width="13.53" height="10.71" fill="#f0b9a2"/>
<rect x="603.37" y="28.59" width="13.53" height="10.71" fill="#d9e5ee"/>
<rect x="616.88" y="28.59" width="13.53" height="10.71" fill="#e79f83"/>
<rect x="630.39" y="28.59" width="13.53" height="10.71" fill="#ebab91"/>
<rect x="373.70" y="39.27" width="13.53" height="10.71" fill="#b53e4c"/>
<rect x="387.21" y="39.27" width="13.53" height="10.71" fill="#b8444e"/>
<rect x="400.72" y="39.27" width="13.53" height="10.71" fill="#781634"/>
<rect x="414.23" y="39.27" width="13.53" height="10.71" fill="#d97f6d"/>
<rect x="427.74" y="39.27" width="13.53" height="10.71" fill="#b53e4c"/>
<rect x="441.25" y="39.27" width="13.53" height="10.71" fill="#f3f4f4"/>
<rect x="454.76" y="39.27" width="13.53" height="10.71" fill="#f0b9a2"/>
<rect x="468.27" y="39.27" width="13.53" height="10.71" fill="#c2dbeb"/>
<rect x="481.78" y="39.27" width="13.53" height="10.71" fill="#d27062"/>
<rect x="495.29" y="39.27" width="13.53" height="10.71" fill="#ebab91"/>
<rect x="508.80" y="39.27" width="13.53" height="10.71" fill="#f0b9a2"/>
<rect x="522.31" y="39.27" width="13.53" height="10.71" fill="#eeb69e"/>
<rect x="535.82" y="39.27" width="13.53" height="10.71" fill="#f1bda7"/>
<rect x="549.33" y="39.27" width="13.53" height="10.71" fill="#d97f6d"/>
<rect x="562.84" y="39.27" width="13.53" height="10.71" fill="#eeb69e"/>
<rect x="576.35" y="39.27" width="13.53" height="10.71" fill="#cbdfec"/>
<rect x="589.86" y="39.27" width="13.53" height="10.71" fill="#f4c8b4"/>
<rect x="603.37" y="39.27" width="13.53" height="10.71" fill="#7db9df"/>
<rect x="616.88" y="39.27" width="13.53" height="10.71" fill="#d27062"/>
<rect x="630.39" y="39.27" width="13.53" height="10.71" fill="#f3d9c9"/>
<rect x="373.70" y="49.95" width="13.53" height="10.71" fill="#bf4f53"/>
<rect x="387.21" y="49.95" width="13.53" height="10.71" fill="#d47566"/>
<rect x="400.72" y="49.95" width="13.53" height="10.71" fill="#d97f6d"/>
<rect x="414.23" y="49.95" width="13.53" height="10.71" fill="#781634"/>
<rect x="427.74" y="49.95" width="13.53" height="10.71" fill="#d67a69"/>
<rect x="441.25" y="49.95" width="13.53" height="10.71" fill="#f4c8b4"/>
<rect x="454.76" y="49.95" width="13.53" height="10.71" fill="#f3ede9"/>
<rect x="468.27" y="49.95" width="13.53" height="10.71" fill="#e5ebf1"/>
<rect x="481.78" y="49.95" width="13.53" height="10.71" fill="#e08f78"/>
<rect x="495.29" y="49.95" width="13.53" height="10.71" fill="#d47566"/>
<rect x="508.80" y="49.95" width="13.53" height="10.71" fill="#f5f4f4"/>
<rect x="522.31" y="49.95" width="13.53" height="10.71" fill="#f2eae5"/>
<rect x="535.82" y="49.95" width="13.53" height="10.71" fill="#d0e1ed"/>
<rect x="549.33" y="49.95" width="13.53" height="10.71" fill="#f3d5c4"/>
<rect x="562.84" y="49.95" width="13.53" height="10.71" fill="#eceff3"/>
<rect x="576.35" y="49.95" width="13.53" height="10.71" fill="#f4d1bf"/>
<rect x="589.86" y="49.95" width="13.53" height="10.71" fill="#f4d1bf"/>
<rect x="603.37" y="49.95" width="13.53" height="10.71" fill="#f3f4f4"/>
<rect x="616.88" y="49.95" width="13.53" height="10.71" fill="#f4c8b4"/>
<rect x="630.39" y="49.95" width="13.53" height="10.71" fill="#ecae95"/>
<rect x="373.70" y="60.64" width="13.53" height="10.71" fill="#a42d44"/>
<rect x="387.21" y="60.64" width="13.53" height="10.71" fill="#b53e4c"/>
<rect x="400.72" y="60.64" width="13.53" height="10.71" fill="#b53e4c"/>
<rect x="414.23" y="60.64" width="13.53" height="10.71" fill="#d67a69"/>
<rect x="427.74" y="60.64" width="13.53" height="10.71" fill="#781634"/>
<rect x="441.25" y="60.64" width="13.53" height="10.71" fill="#d0e1ed"/>
<rect x="454.76" y="60.64" width="13.53" height="10.71" fill="#d4e3ee"/>
<rect x="468.27" y="60.64" width="13.53" height="10.71" fill="#b4d5e8"/>
<rect x="481.78" y="60.64" width="13.53" height="10.71" fill="#ecae95"/>
<rect x="495.29" y="60.64" width="13.53" height="10.71" fill="#f4d1bf"/>
<rect x="508.80" y="60.64" width="13.53" height="10.71" fill="#d67a69"/>
<rect x="522.31" y="60.64" width="13.53" height="10.71" fill="#d27062"/>
<rect x="535.82" y="60.64" width="13.53" height="10.71" fill="#e2947c"/>
<rect x="549.33" y="60.64" width="13.53" height="10.71" fill="#b8444e"/>
<rect x="562.84" y="60.64" width="13.53" height="10.71" fill="#e79f83"/>
<rect x="576.35" y="60.64" width="13.53" height="10.71" fill="#f2e8e1"/>
<rect x="589.86" y="60.64" width="13.53" height="10.71" fill="#e08f78"/>
<rect x="603.37" y="60.64" width="13.53" height="10.71" fill="#cbdfec"/>
<rect x="616.88" y="60.64" width="13.53" height="10.71" fill="#db8571"/>
<rect x="630.39" y="60.64" width="13.53" height="10.71" fill="#d97f6d"/>
<rect x="373.70" y="71.33" width="13.53" height="10.71" fill="#f4efec"/>
<rect x="387.21" y="71.33" width="13.53" height="10.71" fill="#eff1f4"/>
<rect x="400.72" y="71.33" width="13.53" height="10.71" fill="#f3f4f4"/>
<rect x="414.23" y="71.33" width="13.53" height="10.71" fill="#f4c8b4"/>
<rect x="427.74" y="71.33" width="13.53" height="10.71" fill="#d0e1ed"/>
<rect x="441.25" y="71.33" width="13.53" height="10.71" fill="#781634"/>
<rect x="454.76" y="71.33" width="13.53" height="10.71" fill="#eeb69e"/>
<rect x="468.27" y="71.33" width="13.53" height="10.71" fill="#e59a80"/>
<rect x="481.78" y="71.33" width="13.53" height="10.71" fill="#f2e8e1"/>
<rect x="495.29" y="71.33" width="13.53" height="10.71" fill="#f4c8b4"/>
<rect x="508.80" y="71.33" width="13.53" height="10.71" fill="#2d9dd2"/>
<rect x="522.31" y="71.33" width="13.53" height="10.71" fill="#0b7bba"/>
<rect x="535.82" y="71.33" width="13.53" height="10.71" fill="#0c82c1"/>
<rect x="549.33" y="71.33" width="13.53" height="10.71" fill="#4ba6d6"/>
<rect x="562.84" y="71.33" width="13.53" height="10.71" fill="#1c92cb"/>
<rect x="576.35" y="71.33" width="13.53" height="10.71" fill="#eff1f4"/>
<rect x="589.86" y="71.33" width="13.53" height="10.71" fill="#2a9bd1"/>
<rect x="603.37" y="71.33" width="13.53" height="10.71" fill="#b9d7e9"/>
<rect x="616.88" y="71.33" width="13.53" height="10.71" fill="#e2e9f0"/>
<rect x="630.39" y="71.33" width="13.53" height="10.71" fill="#d0e1ed"/>
<rect x="373.70" y="82.01" width="13.53" height="10.71" fill="#f3f4f4"/>
<rect x="387.21" y="82.01" width="13.53" height="10.71" fill="#f3dfd2"/>
<rect x="400.72" y="82.01" width="13.53" height="10.71" fill="#f0b9a2"/>
<rect x="414.23" y="82.01" width="13.53" height="10.71" fill="#f3ede9"/>
<rect x="427.74" y="82.01" width="13.53" height="10.71" fill="#d4e3ee"/>
<rect x="441.25" y="82.01" width="13.53" height="10.71" fill="#eeb69e"/>
<rect x="454.76" y="82.01" width="13.53" height="10.71" fill="#781634"/>
<rect x="468.27" y="82.01" width="13.53" height="10.71" fill="#f2c1ab"/>
<rect x="481.78" y="82.01" width="13.53" height="10.71" fill="#e2947c"/>
<rect x="495.29" y="82.01" width="13.53" height="10.71" fill="#eeb69e"/>
<rect x="508.80" y="82.01" width="13.53" height="10.71" fill="#0c82c1"/>
<rect x="522.31" y="82.01" width="13.53" height="10.71" fill="#0a6da6"/>
<rect x="535.82" y="82.01" width="13.53" height="10.71" fill="#0d87c5"/>
<rect x="549.33" y="82.01" width="13.53" height="10.71" fill="#6eb0da"/>
<rect x="562.84" y="82.01" width="13.53" height="10.71" fill="#33a0d3"/>
<rect x="576.35" y="82.01" width="13.53" height="10.71" fill="#4ba6d6"/>
<rect x="589.86" y="82.01" width="13.53" height="10.71" fill="#0d87c5"/>
<rect x="603.37" y="82.01" width="13.53" height="10.71" fill="#57a9d7"/>
<rect x="616.88" y="82.01" width="13.53" height="10.71" fill="#eff1f4"/>
<rect x="630.39" y="82.01" width="13.53" height="10.71" fill="#2397ce"/>
<rect x="373.70" y="92.69" width="13.53" height="10.71" fill="#e9edf2"/>
<rect x="387.21" y="92.69" width="13.53" height="10.71" fill="#cbdfec"/>
<rect x="400.72" y="92.69" width="13.53" height="10.71" fill="#c2dbeb"/>
<rect x="414.23" y="92.69" width="13.53" height="10.71" fill="#e5ebf1"/>
<rect x="427.74" y="92.69" width="13.53" height="10.71" fill="#b4d5e8"/>
<rect x="441.25" y="92.69" width="13.53" height="10.71" fill="#e59a80"/>
<rect x="454.76" y="92.69" width="13.53" height="10.71" fill="#f2c1ab"/>
<rect x="468.27" y="92.69" width="13.53" height="10.71" fill="#781634"/>
<rect x="481.78" y="92.69" width="13.53" height="10.71" fill="#f5f4f4"/>
<rect x="495.29" y="92.69" width="13.53" height="10.71" fill="#eff1f4"/>
<rect x="508.80" y="92.69" width="13.53" height="10.71" fill="#0c82c1"/>
<rect x="522.31" y="92.69" width="13.53" height="10.71" fill="#0a588c"/>
<rect x="535.82" y="92.69" width="13.53" height="10.71" fill="#0b659c"/>
<rect x="549.33" y="92.69" width="13.53" height="10.71" fill="#4ba6d6"/>
<rect x="562.84" y="92.69" width="13.53" height="10.71" fill="#0b659c"/>
<rect x="576.35" y="92.69" width="13.53" height="10.71" fill="#c2dbeb"/>
<rect x="589.86" y="92.69" width="13.53" height="10.71" fill="#0c82c1"/>
<rect x="603.37" y="92.69" width="13.53" height="10.71" fill="#bdd9ea"/>
<rect x="616.88" y="92.69" width="13.53" height="10.71" fill="#c6ddeb"/>
<rect x="630.39" y="92.69" width="13.53" height="10.71" fill="#b4d5e8"/>
<rect x="373.70" y="103.38" width="13.53" height="10.71" fill="#e59a80"/>
<rect x="387.21" y="103.38" width="13.53" height="10.71" fill="#cf6a5e"/>
<rect x="400.72" y="103.38" width="13.53" height="10.71" fill="#d27062"/>
<rect x="414.23" y="103.38" width="13.53" height="10.71" fill="#e08f78"/>
<rect x="427.74" y="103.38" width="13.53" height="10.71" fill="#ecae95"/>
<rect x="441.25" y="103.38" width="13.53" height="10.71" fill="#f2e8e1"/>
<rect x="454.76" y="103.38" width="13.53" height="10.71" fill="#e2947c"/>
<rect x="468.27" y="103.38" width="13.53" height="10.71" fill="#f5f4f4"/>
<rect x="481.78" y="103.38" width="13.53" height="10.71" fill="#781634"/>
<rect x="495.29" y="103.38" width="13.53" height="10.71" fill="#ebab91"/>
<rect x="508.80" y="103.38" width="13.53" height="10.71" fill="#d0e1ed"/>
<rect x="522.31" y="103.38" width="13.53" height="10.71" fill="#e5ebf1"/>
<rect x="535.82" y="103.38" width="13.53" height="10.71" fill="#bdd9ea"/>
<rect x="549.33" y="103.38" width="13.53" height="10.71" fill="#f2e3d9"/>
<rect x="562.84" y="103.38" width="13.53" height="10.71" fill="#e5ebf1"/>
<rect x="576.35" y="103.38" width="13.53" height="10.71" fill="#f3f4f4"/>
<rect x="589.86" y="103.38" width="13.53" height="10.71" fill="#f4f2f0"/>
<rect x="603.37" y="103.38" width="13.53" height="10.71" fill="#f2e8e1"/>
<rect x="616.88" y="103.38" width="13.53" height="10.71" fill="#f2c1ab"/>
<rect x="630.39" y="103.38" width="13.53" height="10.71" fill="#f3d9c9"/>
<rect x="373.70" y="114.06" width="13.53" height="10.71" fill="#f0b9a2"/>
<rect x="387.21" y="114.06" width="13.53" height="10.71" fill="#f1bda7"/>
<rect x="400.72" y="114.06" width="13.53" height="10.71" fill="#ebab91"/>
<rect x="414.23" y="114.06" width="13.53" height="10.71" fill="#d47566"/>
<rect x="427.74" y="114.06" width="13.53" height="10.71" fill="#f4d1bf"/>
<rect x="441.25" y="114.06" width="13.53" height="10.71" fill="#f4c8b4"/>
<rect x="454.76" y="114.06" width="13.53" height="10.71" fill="#eeb69e"/>
<rect x="468.27" y="114.06" width="13.53" height="10.71" fill="#eff1f4"/>
<rect x="481.78" y="114.06" width="13.53" height="10.71" fill="#ebab91"/>
<rect x="495.29" y="114.06" width="13.53" height="10.71" fill="#781634"/>
<rect x="508.80" y="114.06" width="13.53" height="10.71" fill="#33a0d3"/>
<rect x="522.31" y="114.06" width="13.53" height="10.71" fill="#76b4dd"/>
<rect x="535.82" y="114.06" width="13.53" height="10.71" fill="#1c92cb"/>
<rect x="549.33" y="114.06" width="13.53" height="10.71" fill="#afd3e8"/>
<rect x="562.84" y="114.06" width="13.53" height="10.71" fill="#9fcce8"/>
<rect x="576.35" y="114.06" width="13.53" height="10.71" fill="#f3f4f4"/>
<rect x="589.86" y="114.06" width="13.53" height="10.71" fill="#d0e1ed"/>
<rect x="603.37" y="114.06" width="13.53" height="10.71" fill="#d0e1ed"/>
<rect x="616.88" y="114.06" width="13.53" height="10.71" fill="#f2eae5"/>
<rect x="630.39" y="114.06" width="13.53" height="10.71" fill="#e5ebf1"/>
<rect x="373.70" y="124.75" width="13.53" height="10.71" fill="#eeb69e"/>
<rect x="387.21" y="124.75" width="13.53" height="10.71" fill="#f4ccba"/>
<rect x="400.72" y="124.75" width="13.53" height="10.71" fill="#f0b9a2"/>
<rect x="414.23" y="124.75" width="13.53" height="10.71" fill="#f5f4f4"/>
<rect x="427.74" y="124.75" width="13.53" height="10.71" fill="#d67a69"/>
<rect x="441.25" y="124.75" width="13.53" height="10.71" fill="#2d9dd2"/>
<rect x="454.76" y="124.75" width="13.53" height="10.71" fill="#0c82c1"/>
<rect x="468.27" y="124.75" width="13.53" height="10.71" fill="#0c82c1"/>
<rect x="481.78" y="124.75" width="13.53" height="10.71" fill="#d0e1ed"/>
<rect x="495.29" y="124.75" width="13.53" height="10.71" fill="#33a0d3"/>
<rect x="508.80" y="124.75" width="13.53" height="10.71" fill="#781634"/>
<rect x="522.31" y="124.75" width="13.53" height="10.71" fill="#aa2f45"/>
<rect x="535.82" y="124.75" width="13.53" height="10.71" fill="#92263e"/>
<rect x="549.33" y="124.75" width="13.53" height="10.71" fill="#b53e4c"/>
<rect x="562.84" y="124.75" width="13.53" height="10.71" fill="#b8444e"/>
<rect x="576.35" y="124.75" width="13.53" height="10.71" fill="#d9e5ee"/>
<rect x="589.86" y="124.75" width="13.53" height="10.71" fill="#d67a69"/>
<rect x="603.37" y="124.75" width="13.53" height="10.71" fill="#7db9df"/>
<rect x="616.88" y="124.75" width="13.53" height="10.71" fill="#e79f83"/>
<rect x="630.39" y="124.75" width="13.53" height="10.71" fill="#e08f78"/>
<rect x="373.70" y="135.44" width="13.53" height="10.71" fill="#ecae95"/>
<rect x="387.21" y="135.44" width="13.53" height="10.71" fill="#f1bda7"/>
<rect x="400.72" y="135.44" width="13.53" height="10.71" fill="#eeb69e"/>
<rect x="414.23" y="135.44" width="13.53" height="10.71" fill="#f2eae5"/>
<rect x="427.74" y="135.44" width="13.53" height="10.71" fill="#d27062"/>
<rect x="441.25" y="135.44" width="13.53" height="10.71" fill="#0b7bba"/>
<rect x="454.76" y="135.44" width="13.53" height="10.71" fill="#0a6da6"/>
<rect x="468.27" y="135.44" width="13.53" height="10.71" fill="#0a588c"/>
<rect x="481.78" y="135.44" width="13.53" height="10.71" fill="#e5ebf1"/>
<rect x="495.29" y="135.44" width="13.53" height="10.71" fill="#76b4dd"/>
<rect x="508.80" y="135.44" width="13.53" height="10.71" fill="#aa2f45"/>
<rect x="522.31" y="135.44" width="13.53" height="10.71" fill="#781634"/>
<rect x="535.82" y="135.44" width="13.53" height="10.71" fill="#b2384a"/>
<rect x="549.33" y="135.44" width="13.53" height="10.71" fill="#b53e4c"/>
<rect x="562.84" y="135.44" width="13.53" height="10.71" fill="#bc4950"/>
<rect x="576.35" y="135.44" width="13.53" height="10.71" fill="#f4f2f0"/>
<rect x="589.86" y="135.44" width="13.53" height="10.71" fill="#b53e4c"/>
<rect x="603.37" y="135.44" width="13.53" height="10.71" fill="#d0e1ed"/>
<rect x="616.88" y="135.44" width="13.53" height="10.71" fill="#ebab91"/>
<rect x="630.39" y="135.44" width="13.53" height="10.71" fill="#dd8a75"/>
<rect x="373.70" y="146.12" width="13.53" height="10.71" fill="#f4d1bf"/>
<rect x="387.21" y="146.12" width="13.53" height="10.71" fill="#f3dfd2"/>
<rect x="400.72" y="146.12" width="13.53" height="10.71" fill="#f1bda7"/>
<rect x="414.23" y="146.12" width="13.53" height="10.71" fill="#d0e1ed"/>
<rect x="427.74" y="146.12" width="13.53" height="10.71" fill="#e2947c"/>
<rect x="441.25" y="146.12" width="13.53" height="10.71" fill="#0c82c1"/>
<rect x="454.76" y="146.12" width="13.53" height="10.71" fill="#0d87c5"/>
<rect x="468.27" y="146.12" width="13.53" height="10.71" fill="#0b659c"/>
<rect x="481.78" y="146.12" width="13.53" height="10.71" fill="#bdd9ea"/>
<rect x="495.29" y="146.12" width="13.53" height="10.71" fill="#1c92cb"/>
<rect x="508.80" y="146.12" width="13.53" height="10.71" fill="#92263e"/>
<rect x="522.31" y="146.12" width="13.53" height="10.71" fill="#b2384a"/>
<rect x="535.82" y="146.12" width="13.53" height="10.71" fill="#781634"/>
<rect x="549.33" y="146.12" width="13.53" height="10.71" fill="#b8444e"/>
<rect x="562.84" y="146.12" width="13.53" height="10.71" fill="#aa2f45"/>
<rect x="576.35" y="146.12" width="13.53" height="10.71" fill="#9fcce8"/>
<rect x="589.86" y="146.12" width="13.53" height="10.71" fill="#e2947c"/>
<rect x="603.37" y="146.12" width="13.53" height="10.71" fill="#2699cf"/>
<rect x="616.88" y="146.12" width="13.53" height="10.71" fill="#eaa78c"/>
<rect x="630.39" y="146.12" width="13.53" height="10.71" fill="#f0b9a2"/>
<rect x="373.70" y="156.81" width="13.53" height="10.71" fill="#cc655c"/>
<rect x="387.21" y="156.81" width="13.53" height="10.71" fill="#d67a69"/>
<rect x="400.72" y="156.81" width="13.53" height="10.71" fill="#d97f6d"/>
<rect x="414.23" y="156.81" width="13.53" height="10.71" fill="#f3d5c4"/>
<rect x="427.74" y="156.81" width="13.53" height="10.71" fill="#b8444e"/>
<rect x="441.25" y="156.81" width="13.53" height="10.71" fill="#4ba6d6"/>
<rect x="454.76" y="156.81" width="13.53" height="10.71" fill="#6eb0da"/>
<rect x="468.27" y="156.81" width="13.53" height="10.71" fill="#4ba6d6"/>
<rect x="481.78" y="156.81" width="13.53" height="10.71" fill="#f2e3d9"/>
<rect x="495.29" y="156.81" width="13.53" height="10.71" fill="#afd3e8"/>
<rect x="508.80" y="156.81" width="13.53" height="10.71" fill="#b53e4c"/>
<rect x="522.31" y="156.81" width="13.53" height="10.71" fill="#b53e4c"/>
<rect x="535.82" y="156.81" width="13.53" height="10.71" fill="#b8444e"/>
<rect x="549.33" y="156.81" width="13.53" height="10.71" fill="#781634"/>
<rect x="562.84" y="156.81" width="13.53" height="10.71" fill="#d97f6d"/>
<rect x="576.35" y="156.81" width="13.53" height="10.71" fill="#cbdfec"/>
<rect x="589.86" y="156.81" width="13.53" height="10.71" fill="#cf6a5e"/>
<rect x="603.37" y="156.81" width="13.53" height="10.71" fill="#9acae8"/>
<rect x="616.88" y="156.81" width="13.53" height="10.71" fill="#dd8a75"/>
<rect x="630.39" y="156.81" width="13.53" height="10.71" fill="#d97f6d"/>
<rect x="373.70" y="167.49" width="13.53" height="10.71" fill="#f3e1d6"/>
<rect x="387.21" y="167.49" width="13.53" height="10.71" fill="#f3ddce"/>
<rect x="400.72" y="167.49" width="13.53" height="10.71" fill="#eeb69e"/>
<rect x="414.23" y="167.49" width="13.53" height="10.71" fill="#eceff3"/>
<rect x="427.74" y="167.49" width="13.53" height="10.71" fill="#e79f83"/>
<rect x="441.25" y="167.49" width="13.53" height="10.71" fill="#1c92cb"/>
<rect x="454.76" y="167.49" width="13.53" height="10.71" fill="#33a0d3"/>
<rect x="468.27" y="167.49" width="13.53" height="10.71" fill="#0b659c"/>
<rect x="481.78" y="167.49" width="13.53" height="10.71" fill="#e5ebf1"/>
<rect x="495.29" y="167.49" width="13.53" height="10.71" fill="#9fcce8"/>
<rect x="508.80" y="167.49" width="13.53" height="10.71" fill="#b8444e"/>
<rect x="522.31" y="167.49" width="13.53" height="10.71" fill="#bc4950"/>
<rect x="535.82" y="167.49" width="13.53" height="10.71" fill="#aa2f45"/>
<rect x="549.33" y="167.49" width="13.53" height="10.71" fill="#d97f6d"/>
<rect x="562.84" y="167.49" width="13.53" height="10.71" fill="#781634"/>
<rect x="576.35" y="167.49" width="13.53" height="10.71" fill="#d4e3ee"/>
<rect x="589.86" y="167.49" width="13.53" height="10.71" fill="#db8571"/>
<rect x="603.37" y="167.49" width="13.53" height="10.71" fill="#9acae8"/>
<rect x="616.88" y="167.49" width="13.53" height="10.71" fill="#e2947c"/>
<rect x="630.39" y="167.49" width="13.53" height="10.71" fill="#f4c8b4"/>
<rect x="373.70" y="178.18" width="13.53" height="10.71" fill="#f5f4f4"/>
<rect x="387.21" y="178.18" width="13.53" height="10.71" fill="#f5f4f4"/>
<rect x="400.72" y="178.18" width="13.53" height="10.71" fill="#cbdfec"/>
<rect x="414.23" y="178.18" width="13.53" height="10.71" fill="#f4d1bf"/>
<rect x="427.74" y="178.18" width="13.53" height="10.71" fill="#f2e8e1"/>
<rect x="441.25" y="178.18" width="13.53" height="10.71" fill="#eff1f4"/>
<rect x="454.76" y="178.18" width="13.53" height="10.71" fill="#4ba6d6"/>
<rect x="468.27" y="178.18" width="13.53" height="10.71" fill="#c2dbeb"/>
<rect x="481.78" y="178.18" width="13.53" height="10.71" fill="#f3f4f4"/>
<rect x="495.29" y="178.18" width="13.53" height="10.71" fill="#f3f4f4"/>
<rect x="508.80" y="178.18" width="13.53" height="10.71" fill="#d9e5ee"/>
<rect x="522.31" y="178.18" width="13.53" height="10.71" fill="#f4f2f0"/>
<rect x="535.82" y="178.18" width="13.53" height="10.71" fill="#9fcce8"/>
<rect x="549.33" y="178.18" width="13.53" height="10.71" fill="#cbdfec"/>
<rect x="562.84" y="178.18" width="13.53" height="10.71" fill="#d4e3ee"/>
<rect x="576.35" y="178.18" width="13.53" height="10.71" fill="#781634"/>
<rect x="589.86" y="178.18" width="13.53" height="10.71" fill="#f4c8b4"/>
<rect x="603.37" y="178.18" width="13.53" height="10.71" fill="#b53e4c"/>
<rect x="616.88" y="178.18" width="13.53" height="10.71" fill="#eff1f4"/>
<rect x="630.39" y="178.18" width="13.53" height="10.71" fill="#ebab91"/>
<rect x="373.70" y="188.86" width="13.53" height="10.71" fill="#ecae95"/>
<rect x="387.21" y="188.86" width="13.53" height="10.71" fill="#f0b9a2"/>
<rect x="400.72" y="188.86" width="13.53" height="10.71" fill="#f4c8b4"/>
<rect x="414.23" y="188.86" width="13.53" height="10.71" fill="#f4d1bf"/>
<rect x="427.74" y="188.86" width="13.53" height="10.71" fill="#e08f78"/>
<rect x="441.25" y="188.86" width="13.53" height="10.71" fill="#2a9bd1"/>
<rect x="454.76" y="188.86" width="13.53" height="10.71" fill="#0d87c5"/>
<rect x="468.27" y="188.86" width="13.53" height="10.71" fill="#0c82c1"/>
<rect x="481.78" y="188.86" width="13.53" height="10.71" fill="#f4f2f0"/>
<rect x="495.29" y="188.86" width="13.53" height="10.71" fill="#d0e1ed"/>
<rect x="508.80" y="188.86" width="13.53" height="10.71" fill="#d67a69"/>
<rect x="522.31" y="188.86" width="13.53" height="10.71" fill="#b53e4c"/>
<rect x="535.82" y="188.86" width="13.53" height="10.71" fill="#e2947c"/>
<rect x="549.33" y="188.86" width="13.53" height="10.71" fill="#cf6a5e"/>
<rect x="562.84" y="188.86" width="13.53" height="10.71" fill="#db8571"/>
<rect x="576.35" y="188.86" width="13.53" height="10.71" fill="#f4c8b4"/>
<rect x="589.86" y="188.86" width="13.53" height="10.71" fill="#781634"/>
<rect x="603.37" y="188.86" width="13.53" height="10.71" fill="#f3e1d6"/>
<rect x="616.88" y="188.86" width="13.53" height="10.71" fill="#f0b9a2"/>
<rect x="630.39" y="188.86" width="13.53" height="10.71" fill="#d67a69"/>
<rect x="373.70" y="199.55" width="13.53" height="10.71" fill="#bdd9ea"/>
<rect x="387.21" y="199.55" width="13.53" height="10.71" fill="#d9e5ee"/>
<rect x="400.72" y="199.55" width="13.53" height="10.71" fill="#7db9df"/>
<rect x="414.23" y="199.55" width="13.53" height="10.71" fill="#f3f4f4"/>
<rect x="427.74" y="199.55" width="13.53" height="10.71" fill="#cbdfec"/>
<rect x="441.25" y="199.55" width="13.53" height="10.71" fill="#b9d7e9"/>
<rect x="454.76" y="199.55" width="13.53" height="10.71" fill="#57a9d7"/>
<rect x="468.27" y="199.55" width="13.53" height="10.71" fill="#bdd9ea"/>
<rect x="481.78" y="199.55" width="13.53" height="10.71" fill="#f2e8e1"/>
<rect x="495.29" y="199.55" width="13.53" height="10.71" fill="#d0e1ed"/>
<rect x="508.80" y="199.55" width="13.53" height="10.71" fill="#7db9df"/>
<rect x="522.31" y="199.55" width="13.53" height="10.71" fill="#d0e1ed"/>
<rect x="535.82" y="199.55" width="13.53" height="10.71" fill="#2699cf"/>
<rect x="549.33" y="199.55" width="13.53" height="10.71" fill="#9acae8"/>
<rect x="562.84" y="199.55" width="13.53" height="10.71" fill="#9acae8"/>
<rect x="576.35" y="199.55" width="13.53" height="10.71" fill="#b53e4c"/>
<rect x="589.86" y="199.55" width="13.53" height="10.71" fill="#f3e1d6"/>
<rect x="603.37" y="199.55" width="13.53" height="10.71" fill="#781634"/>
<rect x="616.88" y="199.55" width="13.53" height="10.71" fill="#bdd9ea"/>
<rect x="630.39" y="199.55" width="13.53" height="10.71" fill="#f1bda7"/>
<rect x="373.70" y="210.23" width="13.53" height="10.71" fill="#eaa78c"/>
<rect x="387.21" y="210.23" width="13.53" height="10.71" fill="#e79f83"/>
<rect x="400.72" y="210.23" width="13.53" height="10.71" fill="#d27062"/>
<rect x="414.23" y="210.23" width="13.53" height="10.71" fill="#f4c8b4"/>
<rect x="427.74" y="210.23" width="13.53" height="10.71" fill="#db8571"/>
<rect x="441.25" y="210.23" width="13.53" height="10.71" fill="#e2e9f0"/>
<rect x="454.76" y="210.23" width="13.53" height="10.71" fill="#eff1f4"/>
<rect x="468.27" y="210.23" width="13.53" height="10.71" fill="#c6ddeb"/>
<rect x="481.78" y="210.23" width="13.53" height="10.71" fill="#f2c1ab"/>
<rect x="495.29" y="210.23" width="13.53" height="10.71" fill="#f2eae5"/>
<rect x="508.80" y="210.23" width="13.53" height="10.71" fill="#e79f83"/>
<rect x="522.31" y="210.23" width="13.53" height="10.71" fill="#ebab91"/>
<rect x="535.82" y="210.23" width="13.53" height="10.71" fill="#eaa78c"/>
<rect x="549.33" y="210.23" width="13.53" height="10.71" fill="#dd8a75"/>
<rect x="562.84" y="210.23" width="13.53" height="10.71" fill="#e2947c"/>
<rect x="576.35" y="210.23" width="13.53" height="10.71" fill="#eff1f4"/>
<rect x="589.86" y="210.23" width="13.53" height="10.71" fill="#f0b9a2"/>
<rect x="603.37" y="210.23" width="13.53" height="10.71" fill="#bdd9ea"/>
<rect x="616.88" y="210.23" width="13.53" height="10.71" fill="#781634"/>
<rect x="630.39" y="210.23" width="13.53" height="10.71" fill="#f2c1ab"/>
<rect x="373.70" y="220.92" width="13.53" height="10.71" fill="#e08f78"/>
<rect x="387.21" y="220.92" width="13.53" height="10.71" fill="#ebab91"/>
<rect x="400.72" y="220.92" width="13.53" height="10.71" fill="#f3d9c9"/>
<rect x="414.23" y="220.92" width="13.53" height="10.71" fill="#ecae95"/>
<rect x="427.74" y="220.92" width="13.53" height="10.71" fill="#d97f6d"/>
<rect x="441.25" y="220.92" width="13.53" height="10.71" fill="#d0e1ed"/>
<rect x="454.76" y="220.92" width="13.53" height="10.71" fill="#2397ce"/>
<rect x="468.27" y="220.92" width="13.53" height="10.71" fill="#b4d5e8"/>
<rect x="481.78" y="220.92" width="13.53" height="10.71" fill="#f3d9c9"/>
<rect x="495.29" y="220.92" width="13.53" height="10.71" fill="#e5ebf1"/>
<rect x="508.80" y="220.92" width="13.53" height="10.71" fill="#e08f78"/>
<rect x="522.31" y="220.92" width="13.53" height="10.71" fill="#dd8a75"/>
<rect x="535.82" y="220.92" width="13.53" height="10.71" fill="#f0b9a2"/>
<rect x="549.33" y="220.92" width="13.53" height="10.71" fill="#d97f6d"/>
<rect x="562.84" y="220.92" width="13.53" height="10.71" fill="#f4c8b4"/>
<rect x="576.35" y="220.92" width="13.53" height="10.71" fill="#ebab91"/>
<rect x="589.86" y="220.92" width="13.53" height="10.71" fill="#d67a69"/>
<rect x="603.37" y="220.92" width="13.53" height="10.71" fill="#f1bda7"/>
<rect x="616.88" y="220.92" width="13.53" height="10.71" fill="#f2c1ab"/>
<rect x="630.39" y="220.92" width="13.53" height="10.71" fill="#781634"/>
<text x="380.45" y="24.89" class="an w" textLength="13.20" lengthAdjust="spacingAndGlyphs">1.00</text>
<text x="393.96" y="24.89" class="an w" textLength="13.20" lengthAdjust="spacingAndGlyphs">0.85</text>
<text x="407.47" y="24.89" class="an w" textLength="13.20" lengthAdjust="spacingAndGlyphs">0.88</text>
<text x="420.99" y="24.89" class="an w" textLength="13.20" lengthAdjust="spacingAndGlyphs">0.85</text>
<text x="434.50" y="24.89" class="an w" textLength="13.20" lengthAdjust="spacingAndGlyphs">0.92</text>
<text x="448.00" y="24.89" class="an d" textLength="13.20" lengthAdjust="spacingAndGlyphs">0.46</text>
<text x="461.51" y="24.89" class="an d" textLength="13.20" lengthAdjust="spacingAndGlyphs">0.43</text>
<text x="475.02" y="24.89" class="an d" textLength="13.20" lengthAdjust="spacingAndGlyphs">0.40</text>
<text x="488.53" y="24.89" class="an w" textLength="13.20" lengthAdjust="spacingAndGlyphs">0.71</text>
<text x="502.04" y="24.89" class="an d" textLength="13.20" lengthAdjust="spacingAndGlyphs">0.63</text>
<text x="515.55" y="24.89" class="an d" textLength="13.20" lengthAdjust="spacingAndGlyphs">0.64</text>
<text x="529.07" y="24.89" class="an d" textLength="13.20" lengthAdjust="spacingAndGlyphs">0.66</text>
<text x="542.58" y="24.89" class="an d" textLength="13.20" lengthAdjust="spacingAndGlyphs">0.57</text>
<text x="556.09" y="24.89" class="an w" textLength="13.20" lengthAdjust="spacingAndGlyphs">0.81</text>
<text x="569.60" y="24.89" class="an d" textLength="13.20" lengthAdjust="spacingAndGlyphs">0.52</text>
<text x="583.11" y="24.89" class="an d" textLength="13.20" lengthAdjust="spacingAndGlyphs">0.44</text>
<text x="596.62" y="24.89" class="an d" textLength="13.20" lengthAdjust="spacingAndGlyphs">0.66</text>
<text x="610.12" y="24.89" class="an d" textLength="13.20" lengthAdjust="spacingAndGlyphs">0.30</text>
<text x="623.63" y="24.89" class="an d" textLength="13.20" lengthAdjust="spacingAndGlyphs">0.68</text>
<text x="637.14" y="24.89" class="an w" textLength="13.20" lengthAdjust="spacingAndGlyphs">0.73</text>
<text x="380.45" y="35.58" class="an w" textLength="13.20" lengthAdjust="spacingAndGlyphs">0.85</text>
<text x="393.96" y="35.58" class="an w" textLength="13.20" lengthAdjust="spacingAndGlyphs">1.00</text>
<text x="407.47" y="35.58" class="an w" textLength="13.20" lengthAdjust="spacingAndGlyphs">0.87</text>
<text x="420.99" y="35.58" class="an w" textLength="13.20" lengthAdjust="spacingAndGlyphs">0.78</text>
<text x="434.50" y="35.58" class="an w" textLength="13.20" lengthAdjust="spacingAndGlyphs">0.88</text>
<text x="448.00" y="35.58" class="an d" textLength="13.20" lengthAdjust="spacingAndGlyphs">0.42</text>
<text x="461.51" y="35.58" class="an d" textLength="13.20" lengthAdjust="spacingAndGlyphs">0.53</text>
<text x="475.02" y="35.58" class="an d" textLength="13.20" lengthAdjust="spacingAndGlyphs">0.33</text>
<text x="488.53" y="35.58" class="an w" textLength="13.20" lengthAdjust="spacingAndGlyphs">0.80</text>
<text x="502.04" y="35.58" class="an d" textLength="13.20" lengthAdjust="spacingAndGlyphs">0.62</text>
<text x="515.55" y="35.58" class="an d" textLength="13.20" lengthAdjust="spacingAndGlyphs">0.58</text>
<text x="529.07" y="35.58" class="an d" textLength="13.20" lengthAdjust="spacingAndGlyphs">0.62</text>
<text x="542.58" y="35.58" class="an d" textLength="13.20" lengthAdjust="spacingAndGlyphs">0.53</text>
<text x="556.09" y="35.58" class="an w" textLength="13.20" lengthAdjust="spacingAndGlyphs">0.77</text>
<text x="569.60" y="35.58" class="an d" textLength="13.20" lengthAdjust="spacingAndGlyphs">0.54</text>
<text x="583.11" y="35.58" class="an d" textLength="13.20" lengthAdjust="spacingAndGlyphs">0.44</text>
<text x="596.62" y="35.58" class="an d" textLength="13.20" lengthAdjust="spacingAndGlyphs">0.63</text>
<text x="610.12" y="35.58" class="an d" textLength="13.20" lengthAdjust="spacingAndGlyphs">0.36</text>
<text x="623.63" y="35.58" class="an w" textLength="13.20" lengthAdjust="spacingAndGlyphs">0.70</text>
<text x="637.14" y="35.58" class="an d" textLength="13.20" lengthAdjust="spacingAndGlyphs">0.67</text>
<text x="380.45" y="46.26" class="an w" textLength="13.20" lengthAdjust="spacingAndGlyphs">0.88</text>
<text x="393.96" y="46.26" class="an w" textLength="13.20" lengthAdjust="spacingAndGlyphs">0.87</text>
<text x="407.47" y="46.26" class="an w" textLength="13.20" lengthAdjust="spacingAndGlyphs">1.00</text>
<text x="420.99" y="46.26" class="an w" textLength="13.20" lengthAdjust="spacingAndGlyphs">0.76</text>
<text x="434.50" y="46.26" class="an w" textLength="13.20" lengthAdjust="spacingAndGlyphs">0.88</text>
<text x="448.00" y="46.26" class="an d" textLength="13.20" lengthAdjust="spacingAndGlyphs">0.43</text>
<text x="461.51" y="46.26" class="an d" textLength="13.20" lengthAdjust="spacingAndGlyphs">0.63</text>
<text x="475.02" y="46.26" class="an d" textLength="13.20" lengthAdjust="spacingAndGlyphs">0.31</text>
<text x="488.53" y="46.26" class="an w" textLength="13.20" lengthAdjust="spacingAndGlyphs">0.79</text>
<text x="502.04" y="46.26" class="an d" textLength="13.20" lengthAdjust="spacingAndGlyphs">0.67</text>
<text x="515.55" y="46.26" class="an d" textLength="13.20" lengthAdjust="spacingAndGlyphs">0.63</text>
<text x="529.07" y="46.26" class="an d" textLength="13.20" lengthAdjust="spacingAndGlyphs">0.64</text>
<text x="542.58" y="46.26" class="an d" textLength="13.20" lengthAdjust="spacingAndGlyphs">0.62</text>
<text x="556.09" y="46.26" class="an w" textLength="13.20" lengthAdjust="spacingAndGlyphs">0.76</text>
<text x="569.60" y="46.26" class="an d" textLength="13.20" lengthAdjust="spacingAndGlyphs">0.64</text>
<text x="583.11" y="46.26" class="an d" textLength="13.20" lengthAdjust="spacingAndGlyphs">0.33</text>
<text x="596.62" y="46.26" class="an d" textLength="13.20" lengthAdjust="spacingAndGlyphs">0.59</text>
<text x="610.12" y="46.26" class="an d" textLength="13.20" lengthAdjust="spacingAndGlyphs">0.19</text>
<text x="623.63" y="46.26" class="an w" textLength="13.20" lengthAdjust="spacingAndGlyphs">0.79</text>
<text x="637.14" y="46.26" class="an d" textLength="13.20" lengthAdjust="spacingAndGlyphs">0.55</text>
<text x="380.45" y="56.95" class="an w" textLength="13.20" lengthAdjust="spacingAndGlyphs">0.85</text>
<text x="393.96" y="56.95" class="an w" textLength="13.20" lengthAdjust="spacingAndGlyphs">0.78</text>
<text x="407.47" y="56.95" class="an w" textLength="13.20" lengthAdjust="spacingAndGlyphs">0.76</text>
<text x="420.99" y="56.95" class="an w" textLength="13.20" lengthAdjust="spacingAndGlyphs">1.00</text>
<text x="434.50" y="56.95" class="an w" textLength="13.20" lengthAdjust="spacingAndGlyphs">0.77</text>
<text x="448.00" y="56.95" class="an d" textLength="13.20" lengthAdjust="spacingAndGlyphs">0.59</text>
<text x="461.51" y="56.95" class="an d" textLength="13.20" lengthAdjust="spacingAndGlyphs">0.47</text>
<text x="475.02" y="56.95" class="an d" textLength="13.20" lengthAdjust="spacingAndGlyphs">0.39</text>
<text x="488.53" y="56.95" class="an w" textLength="13.20" lengthAdjust="spacingAndGlyphs">0.73</text>
<text x="502.04" y="56.95" class="an w" textLength="13.20" lengthAdjust="spacingAndGlyphs">0.78</text>
<text x="515.55" y="56.95" class="an d" textLength="13.20" lengthAdjust="spacingAndGlyphs">0.44</text>
<text x="529.07" y="56.95" class="an d" textLength="13.20" lengthAdjust="spacingAndGlyphs">0.48</text>
<text x="542.58" y="56.95" class="an d" textLength="13.20" lengthAdjust="spacingAndGlyphs">0.34</text>
<text x="556.09" y="56.95" class="an d" textLength="13.20" lengthAdjust="spacingAndGlyphs">0.56</text>
<text x="569.60" y="56.95" class="an d" textLength="13.20" lengthAdjust="spacingAndGlyphs">0.41</text>
<text x="583.11" y="56.95" class="an d" textLength="13.20" lengthAdjust="spacingAndGlyphs">0.57</text>
<text x="596.62" y="56.95" class="an d" textLength="13.20" lengthAdjust="spacingAndGlyphs">0.57</text>
<text x="610.12" y="56.95" class="an d" textLength="13.20" lengthAdjust="spacingAndGlyphs">0.43</text>
<text x="623.63" y="56.95" class="an d" textLength="13.20" lengthAdjust="spacingAndGlyphs">0.59</text>
<text x="637.14" y="56.95" class="an d" textLength="13.20" lengthAdjust="spacingAndGlyphs">0.66</text>
<text x="380.45" y="67.63" class="an w" textLength="13.20" lengthAdjust="spacingAndGlyphs">0.92</text>
<text x="393.96" y="67.63" class="an w" textLength="13.20" lengthAdjust="spacingAndGlyphs">0.88</text>
<text x="407.47" y="67.63" class="an w" textLength="13.20" lengthAdjust="spacingAndGlyphs">0.88</text>
<text x="420.99" y="67.63" class="an w" textLength="13.20" lengthAdjust="spacingAndGlyphs">0.77</text>
<text x="434.50" y="67.63" class="an w" textLength="13.20" lengthAdjust="spacingAndGlyphs">1.00</text>
<text x="448.00" y="67.63" class="an d" textLength="13.20" lengthAdjust="spacingAndGlyphs">0.34</text>
<text x="461.51" y="67.63" class="an d" textLength="13.20" lengthAdjust="spacingAndGlyphs">0.35</text>
<text x="475.02" y="67.63" class="an d" textLength="13.20" lengthAdjust="spacingAndGlyphs">0.28</text>
<text x="488.53" y="67.63" class="an d" textLength="13.20" lengthAdjust="spacingAndGlyphs">0.66</text>
<text x="502.04" y="67.63" class="an d" textLength="13.20" lengthAdjust="spacingAndGlyphs">0.57</text>
<text x="515.55" y="67.63" class="an w" textLength="13.20" lengthAdjust="spacingAndGlyphs">0.77</text>
<text x="529.07" y="67.63" class="an w" textLength="13.20" lengthAdjust="spacingAndGlyphs">0.79</text>
<text x="542.58" y="67.63" class="an w" textLength="13.20" lengthAdjust="spacingAndGlyphs">0.72</text>
<text x="556.09" y="67.63" class="an w" textLength="13.20" lengthAdjust="spacingAndGlyphs">0.87</text>
<text x="569.60" y="67.63" class="an w" textLength="13.20" lengthAdjust="spacingAndGlyphs">0.70</text>
<text x="583.11" y="67.63" class="an d" textLength="13.20" lengthAdjust="spacingAndGlyphs">0.49</text>
<text x="596.62" y="67.63" class="an w" textLength="13.20" lengthAdjust="spacingAndGlyphs">0.73</text>
<text x="610.12" y="67.63" class="an d" textLength="13.20" lengthAdjust="spacingAndGlyphs">0.33</text>
<text x="623.63" y="67.63" class="an w" textLength="13.20" lengthAdjust="spacingAndGlyphs">0.75</text>
<text x="637.14" y="67.63" class="an w" textLength="13.20" lengthAdjust="spacingAndGlyphs">0.76</text>
<text x="380.45" y="78.32" class="an d" textLength="13.20" lengthAdjust="spacingAndGlyphs">0.46</text>
<text x="393.96" y="78.32" class="an d" textLength="13.20" lengthAdjust="spacingAndGlyphs">0.42</text>
<text x="407.47" y="78.32" class="an d" textLength="13.20" lengthAdjust="spacingAndGlyphs">0.43</text>
<text x="420.99" y="78.32" class="an d" textLength="13.20" lengthAdjust="spacingAndGlyphs">0.59</text>
<text x="434.50" y="78.32" class="an d" textLength="13.20" lengthAdjust="spacingAndGlyphs">0.34</text>
<text x="448.00" y="78.32" class="an w" textLength="13.20" lengthAdjust="spacingAndGlyphs">1.00</text>
<text x="461.51" y="78.32" class="an d" textLength="13.20" lengthAdjust="spacingAndGlyphs">0.64</text>
<text x="475.02" y="78.32" class="an w" textLength="13.20" lengthAdjust="spacingAndGlyphs">0.71</text>
<text x="488.53" y="78.32" class="an d" textLength="13.20" lengthAdjust="spacingAndGlyphs">0.49</text>
<text x="502.04" y="78.32" class="an d" textLength="13.20" lengthAdjust="spacingAndGlyphs">0.59</text>
<text x="515.55" y="78.32" class="an w" textLength="13.20" lengthAdjust="spacingAndGlyphs">0.11</text>
<text x="529.07" y="78.32" class="an w" textLength="15.34" lengthAdjust="spacingAndGlyphs">-0.03</text>
<text x="542.58" y="78.32" class="an w" textLength="13.20" lengthAdjust="spacingAndGlyphs">0.00</text>
<text x="556.09" y="78.32" class="an w" textLength="13.20" lengthAdjust="spacingAndGlyphs">0.14</text>
<text x="569.60" y="78.32" class="an w" textLength="13.20" lengthAdjust="spacingAndGlyphs">0.06</text>
<text x="583.11" y="78.32" class="an d" textLength="13.20" lengthAdjust="spacingAndGlyphs">0.42</text>
<text x="596.62" y="78.32" class="an w" textLength="13.20" lengthAdjust="spacingAndGlyphs">0.10</text>
<text x="610.12" y="78.32" class="an d" textLength="13.20" lengthAdjust="spacingAndGlyphs">0.29</text>
<text x="623.63" y="78.32" class="an d" textLength="13.20" lengthAdjust="spacingAndGlyphs">0.38</text>
<text x="637.14" y="78.32" class="an d" textLength="13.20" lengthAdjust="spacingAndGlyphs">0.34</text>
<text x="380.45" y="89.00" class="an d" textLength="13.20" lengthAdjust="spacingAndGlyphs">0.43</text>
<text x="393.96" y="89.00" class="an d" textLength="13.20" lengthAdjust="spacingAndGlyphs">0.53</text>
<text x="407.47" y="89.00" class="an d" textLength="13.20" lengthAdjust="spacingAndGlyphs">0.63</text>
<text x="420.99" y="89.00" class="an d" textLength="13.20" lengthAdjust="spacingAndGlyphs">0.47</text>
<text x="434.50" y="89.00" class="an d" textLength="13.20" lengthAdjust="spacingAndGlyphs">0.35</text>
<text x="448.00" y="89.00" class="an d" textLength="13.20" lengthAdjust="spacingAndGlyphs">0.64</text>
<text x="461.51" y="89.00" class="an w" textLength="13.20" lengthAdjust="spacingAndGlyphs">1.00</text>
<text x="475.02" y="89.00" class="an d" textLength="13.20" lengthAdjust="spacingAndGlyphs">0.61</text>
<text x="488.53" y="89.00" class="an w" textLength="13.20" lengthAdjust="spacingAndGlyphs">0.72</text>
<text x="502.04" y="89.00" class="an d" textLength="13.20" lengthAdjust="spacingAndGlyphs">0.64</text>
<text x="515.55" y="89.00" class="an w" textLength="13.20" lengthAdjust="spacingAndGlyphs">0.00</text>
<text x="529.07" y="89.00" class="an w" textLength="15.34" lengthAdjust="spacingAndGlyphs">-0.07</text>
<text x="542.58" y="89.00" class="an w" textLength="13.20" lengthAdjust="spacingAndGlyphs">0.02</text>
<text x="556.09" y="89.00" class="an w" textLength="13.20" lengthAdjust="spacingAndGlyphs">0.17</text>
<text x="569.60" y="89.00" class="an w" textLength="13.20" lengthAdjust="spacingAndGlyphs">0.12</text>
<text x="583.11" y="89.00" class="an w" textLength="13.20" lengthAdjust="spacingAndGlyphs">0.14</text>
<text x="596.62" y="89.00" class="an w" textLength="13.20" lengthAdjust="spacingAndGlyphs">0.02</text>
<text x="610.12" y="89.00" class="an w" textLength="13.20" lengthAdjust="spacingAndGlyphs">0.15</text>
<text x="623.63" y="89.00" class="an d" textLength="13.20" lengthAdjust="spacingAndGlyphs">0.42</text>
<text x="637.14" y="89.00" class="an w" textLength="13.20" lengthAdjust="spacingAndGlyphs">0.08</text>
<text x="380.45" y="99.69" class="an d" textLength="13.20" lengthAdjust="spacingAndGlyphs">0.40</text>
<text x="393.96" y="99.69" class="an d" textLength="13.20" lengthAdjust="spacingAndGlyphs">0.33</text>
<text x="407.47" y="99.69" class="an d" textLength="13.20" lengthAdjust="spacingAndGlyphs">0.31</text>
<text x="420.99" y="99.69" class="an d" textLength="13.20" lengthAdjust="spacingAndGlyphs">0.39</text>
<text x="434.50" y="99.69" class="an d" textLength="13.20" lengthAdjust="spacingAndGlyphs">0.28</text>
<text x="448.00" y="99.69" class="an w" textLength="13.20" lengthAdjust="spacingAndGlyphs">0.71</text>
<text x="461.51" y="99.69" class="an d" textLength="13.20" lengthAdjust="spacingAndGlyphs">0.61</text>
<text x="475.02" y="99.69" class="an w" textLength="13.20" lengthAdjust="spacingAndGlyphs">1.00</text>
<text x="488.53" y="99.69" class="an d" textLength="13.20" lengthAdjust="spacingAndGlyphs">0.44</text>
<text x="502.04" y="99.69" class="an d" textLength="13.20" lengthAdjust="spacingAndGlyphs">0.42</text>
<text x="515.55" y="99.69" class="an w" textLength="13.20" lengthAdjust="spacingAndGlyphs">0.00</text>
<text x="529.07" y="99.69" class="an w" textLength="15.34" lengthAdjust="spacingAndGlyphs">-0.13</text>
<text x="542.58" y="99.69" class="an w" textLength="15.34" lengthAdjust="spacingAndGlyphs">-0.09</text>
<text x="556.09" y="99.69" class="an w" textLength="13.20" lengthAdjust="spacingAndGlyphs">0.14</text>
<text x="569.60" y="99.69" class="an w" textLength="15.34" lengthAdjust="spacingAndGlyphs">-0.09</text>
<text x="583.11" y="99.69" class="an d" textLength="13.20" lengthAdjust="spacingAndGlyphs">0.31</text>
<text x="596.62" y="99.69" class="an w" textLength="13.20" lengthAdjust="spacingAndGlyphs">0.00</text>
<text x="610.12" y="99.69" class="an d" textLength="13.20" lengthAdjust="spacingAndGlyphs">0.30</text>
<text x="623.63" y="99.69" class="an d" textLength="13.20" lengthAdjust="spacingAndGlyphs">0.32</text>
<text x="637.14" y="99.69" class="an d" textLength="13.20" lengthAdjust="spacingAndGlyphs">0.28</text>
<text x="380.45" y="110.37" class="an w" textLength="13.20" lengthAdjust="spacingAndGlyphs">0.71</text>
<text x="393.96" y="110.37" class="an w" textLength="13.20" lengthAdjust="spacingAndGlyphs">0.80</text>
<text x="407.47" y="110.37" class="an w" textLength="13.20" lengthAdjust="spacingAndGlyphs">0.79</text>
<text x="420.99" y="110.37" class="an w" textLength="13.20" lengthAdjust="spacingAndGlyphs">0.73</text>
<text x="434.50" y="110.37" class="an d" textLength="13.20" lengthAdjust="spacingAndGlyphs">0.66</text>
<text x="448.00" y="110.37" class="an d" textLength="13.20" lengthAdjust="spacingAndGlyphs">0.49</text>
<text x="461.51" y="110.37" class="an w" textLength="13.20" lengthAdjust="spacingAndGlyphs">0.72</text>
<text x="475.02" y="110.37" class="an d" textLength="13.20" lengthAdjust="spacingAndGlyphs">0.44</text>
<text x="488.53" y="110.37" class="an w" textLength="13.20" lengthAdjust="spacingAndGlyphs">1.00</text>
<text x="502.04" y="110.37" class="an d" textLength="13.20" lengthAdjust="spacingAndGlyphs">0.67</text>
<text x="515.55" y="110.37" class="an d" textLength="13.20" lengthAdjust="spacingAndGlyphs">0.34</text>
<text x="529.07" y="110.37" class="an d" textLength="13.20" lengthAdjust="spacingAndGlyphs">0.39</text>
<text x="542.58" y="110.37" class="an d" textLength="13.20" lengthAdjust="spacingAndGlyphs">0.30</text>
<text x="556.09" y="110.37" class="an d" textLength="13.20" lengthAdjust="spacingAndGlyphs">0.51</text>
<text x="569.60" y="110.37" class="an d" textLength="13.20" lengthAdjust="spacingAndGlyphs">0.39</text>
<text x="583.11" y="110.37" class="an d" textLength="13.20" lengthAdjust="spacingAndGlyphs">0.43</text>
<text x="596.62" y="110.37" class="an d" textLength="13.20" lengthAdjust="spacingAndGlyphs">0.45</text>
<text x="610.12" y="110.37" class="an d" textLength="13.20" lengthAdjust="spacingAndGlyphs">0.49</text>
<text x="623.63" y="110.37" class="an d" textLength="13.20" lengthAdjust="spacingAndGlyphs">0.61</text>
<text x="637.14" y="110.37" class="an d" textLength="13.20" lengthAdjust="spacingAndGlyphs">0.55</text>
<text x="380.45" y="121.06" class="an d" textLength="13.20" lengthAdjust="spacingAndGlyphs">0.63</text>
<text x="393.96" y="121.06" class="an d" textLength="13.20" lengthAdjust="spacingAndGlyphs">0.62</text>
<text x="407.47" y="121.06" class="an d" textLength="13.20" lengthAdjust="spacingAndGlyphs">0.67</text>
<text x="420.99" y="121.06" class="an w" textLength="13.20" lengthAdjust="spacingAndGlyphs">0.78</text>
<text x="434.50" y="121.06" class="an d" textLength="13.20" lengthAdjust="spacingAndGlyphs">0.57</text>
<text x="448.00" y="121.06" class="an d" textLength="13.20" lengthAdjust="spacingAndGlyphs">0.59</text>
<text x="461.51" y="121.06" class="an d" textLength="13.20" lengthAdjust="spacingAndGlyphs">0.64</text>
<text x="475.02" y="121.06" class="an d" textLength="13.20" lengthAdjust="spacingAndGlyphs">0.42</text>
<text x="488.53" y="121.06" class="an d" textLength="13.20" lengthAdjust="spacingAndGlyphs">0.67</text>
<text x="502.04" y="121.06" class="an w" textLength="13.20" lengthAdjust="spacingAndGlyphs">1.00</text>
<text x="515.55" y="121.06" class="an w" textLength="13.20" lengthAdjust="spacingAndGlyphs">0.12</text>
<text x="529.07" y="121.06" class="an d" textLength="13.20" lengthAdjust="spacingAndGlyphs">0.18</text>
<text x="542.58" y="121.06" class="an w" textLength="13.20" lengthAdjust="spacingAndGlyphs">0.06</text>
<text x="556.09" y="121.06" class="an d" textLength="13.20" lengthAdjust="spacingAndGlyphs">0.27</text>
<text x="569.60" y="121.06" class="an d" textLength="13.20" lengthAdjust="spacingAndGlyphs">0.24</text>
<text x="583.11" y="121.06" class="an d" textLength="13.20" lengthAdjust="spacingAndGlyphs">0.43</text>
<text x="596.62" y="121.06" class="an d" textLength="13.20" lengthAdjust="spacingAndGlyphs">0.34</text>
<text x="610.12" y="121.06" class="an d" textLength="13.20" lengthAdjust="spacingAndGlyphs">0.34</text>
<text x="623.63" y="121.06" class="an d" textLength="13.20" lengthAdjust="spacingAndGlyphs">0.48</text>
<text x="637.14" y="121.06" class="an d" textLength="13.20" lengthAdjust="spacingAndGlyphs">0.39</text>
<text x="380.45" y="131.74" class="an d" textLength="13.20" lengthAdjust="spacingAndGlyphs">0.64</text>
<text x="393.96" y="131.74" class="an d" textLength="13.20" lengthAdjust="spacingAndGlyphs">0.58</text>
<text x="407.47" y="131.74" class="an d" textLength="13.20" lengthAdjust="spacingAndGlyphs">0.63</text>
<text x="420.99" y="131.74" class="an d" textLength="13.20" lengthAdjust="spacingAndGlyphs">0.44</text>
<text x="434.50" y="131.74" class="an w" textLength="13.20" lengthAdjust="spacingAndGlyphs">0.77</text>
<text x="448.00" y="131.74" class="an w" textLength="13.20" lengthAdjust="spacingAndGlyphs">0.11</text>
<text x="461.51" y="131.74" class="an w" textLength="13.20" lengthAdjust="spacingAndGlyphs">0.00</text>
<text x="475.02" y="131.74" class="an w" textLength="13.20" lengthAdjust="spacingAndGlyphs">0.00</text>
<text x="488.53" y="131.74" class="an d" textLength="13.20" lengthAdjust="spacingAndGlyphs">0.34</text>
<text x="502.04" y="131.74" class="an w" textLength="13.20" lengthAdjust="spacingAndGlyphs">0.12</text>
<text x="515.55" y="131.74" class="an w" textLength="13.20" lengthAdjust="spacingAndGlyphs">1.00</text>
<text x="529.07" y="131.74" class="an w" textLength="13.20" lengthAdjust="spacingAndGlyphs">0.91</text>
<text x="542.58" y="131.74" class="an w" textLength="13.20" lengthAdjust="spacingAndGlyphs">0.95</text>
<text x="556.09" y="131.74" class="an w" textLength="13.20" lengthAdjust="spacingAndGlyphs">0.88</text>
<text x="569.60" y="131.74" class="an w" textLength="13.20" lengthAdjust="spacingAndGlyphs">0.87</text>
<text x="583.11" y="131.74" class="an d" textLength="13.20" lengthAdjust="spacingAndGlyphs">0.36</text>
<text x="596.62" y="131.74" class="an w" textLength="13.20" lengthAdjust="spacingAndGlyphs">0.77</text>
<text x="610.12" y="131.74" class="an d" textLength="13.20" lengthAdjust="spacingAndGlyphs">0.19</text>
<text x="623.63" y="131.74" class="an w" textLength="13.20" lengthAdjust="spacingAndGlyphs">0.70</text>
<text x="637.14" y="131.74" class="an w" textLength="13.20" lengthAdjust="spacingAndGlyphs">0.73</text>
<text x="380.45" y="142.43" class="an d" textLength="13.20" lengthAdjust="spacingAndGlyphs">0.66</text>
<text x="393.96" y="142.43" class="an d" textLength="13.20" lengthAdjust="spacingAndGlyphs">0.62</text>
<text x="407.47" y="142.43" class="an d" textLength="13.20" lengthAdjust="spacingAndGlyphs">0.64</text>
<text x="420.99" y="142.43" class="an d" textLength="13.20" lengthAdjust="spacingAndGlyphs">0.48</text>
<text x="434.50" y="142.43" class="an w" textLength="13.20" lengthAdjust="spacingAndGlyphs">0.79</text>
<text x="448.00" y="142.43" class="an w" textLength="15.34" lengthAdjust="spacingAndGlyphs">-0.03</text>
<text x="461.51" y="142.43" class="an w" textLength="15.34" lengthAdjust="spacingAndGlyphs">-0.07</text>
<text x="475.02" y="142.43" class="an w" textLength="15.34" lengthAdjust="spacingAndGlyphs">-0.13</text>
<text x="488.53" y="142.43" class="an d" textLength="13.20" lengthAdjust="spacingAndGlyphs">0.39</text>
<text x="502.04" y="142.43" class="an d" textLength="13.20" lengthAdjust="spacingAndGlyphs">0.18</text>
<text x="515.55" y="142.43" class="an w" textLength="13.20" lengthAdjust="spacingAndGlyphs">0.91</text>
<text x="529.07" y="142.43" class="an w" textLength="13.20" lengthAdjust="spacingAndGlyphs">1.00</text>
<text x="542.58" y="142.43" class="an w" textLength="13.20" lengthAdjust="spacingAndGlyphs">0.89</text>
<text x="556.09" y="142.43" class="an w" textLength="13.20" lengthAdjust="spacingAndGlyphs">0.88</text>
<text x="569.60" y="142.43" class="an w" textLength="13.20" lengthAdjust="spacingAndGlyphs">0.86</text>
<text x="583.11" y="142.43" class="an d" textLength="13.20" lengthAdjust="spacingAndGlyphs">0.45</text>
<text x="596.62" y="142.43" class="an w" textLength="13.20" lengthAdjust="spacingAndGlyphs">0.88</text>
<text x="610.12" y="142.43" class="an d" textLength="13.20" lengthAdjust="spacingAndGlyphs">0.34</text>
<text x="623.63" y="142.43" class="an d" textLength="13.20" lengthAdjust="spacingAndGlyphs">0.67</text>
<text x="637.14" y="142.43" class="an w" textLength="13.20" lengthAdjust="spacingAndGlyphs">0.74</text>
<text x="380.45" y="153.11" class="an d" textLength="13.20" lengthAdjust="spacingAndGlyphs">0.57</text>
<text x="393.96" y="153.11" class="an d" textLength="13.20" lengthAdjust="spacingAndGlyphs">0.53</text>
<text x="407.47" y="153.11" class="an d" textLength="13.20" lengthAdjust="spacingAndGlyphs">0.62</text>
<text x="420.99" y="153.11" class="an d" textLength="13.20" lengthAdjust="spacingAndGlyphs">0.34</text>
<text x="434.50" y="153.11" class="an w" textLength="13.20" lengthAdjust="spacingAndGlyphs">0.72</text>
<text x="448.00" y="153.11" class="an w" textLength="13.20" lengthAdjust="spacingAndGlyphs">0.00</text>
<text x="461.51" y="153.11" class="an w" textLength="13.20" lengthAdjust="spacingAndGlyphs">0.02</text>
<text x="475.02" y="153.11" class="an w" textLength="15.34" lengthAdjust="spacingAndGlyphs">-0.09</text>
<text x="488.53" y="153.11" class="an d" textLength="13.20" lengthAdjust="spacingAndGlyphs">0.30</text>
<text x="502.04" y="153.11" class="an w" textLength="13.20" lengthAdjust="spacingAndGlyphs">0.06</text>
<text x="515.55" y="153.11" class="an w" textLength="13.20" lengthAdjust="spacingAndGlyphs">0.95</text>
<text x="529.07" y="153.11" class="an w" textLength="13.20" lengthAdjust="spacingAndGlyphs">0.89</text>
<text x="542.58" y="153.11" class="an w" textLength="13.20" lengthAdjust="spacingAndGlyphs">1.00</text>
<text x="556.09" y="153.11" class="an w" textLength="13.20" lengthAdjust="spacingAndGlyphs">0.87</text>
<text x="569.60" y="153.11" class="an w" textLength="13.20" lengthAdjust="spacingAndGlyphs">0.91</text>
<text x="583.11" y="153.11" class="an d" textLength="13.20" lengthAdjust="spacingAndGlyphs">0.24</text>
<text x="596.62" y="153.11" class="an w" textLength="13.20" lengthAdjust="spacingAndGlyphs">0.72</text>
<text x="610.12" y="153.11" class="an w" textLength="13.20" lengthAdjust="spacingAndGlyphs">0.09</text>
<text x="623.63" y="153.11" class="an d" textLength="13.20" lengthAdjust="spacingAndGlyphs">0.68</text>
<text x="637.14" y="153.11" class="an d" textLength="13.20" lengthAdjust="spacingAndGlyphs">0.63</text>
<text x="380.45" y="163.80" class="an w" textLength="13.20" lengthAdjust="spacingAndGlyphs">0.81</text>
<text x="393.96" y="163.80" class="an w" textLength="13.20" lengthAdjust="spacingAndGlyphs">0.77</text>
<text x="407.47" y="163.80" class="an w" textLength="13.20" lengthAdjust="spacingAndGlyphs">0.76</text>
<text x="420.99" y="163.80" class="an d" textLength="13.20" lengthAdjust="spacingAndGlyphs">0.56</text>
<text x="434.50" y="163.80" class="an w" textLength="13.20" lengthAdjust="spacingAndGlyphs">0.87</text>
<text x="448.00" y="163.80" class="an w" textLength="13.20" lengthAdjust="spacingAndGlyphs">0.14</text>
<text x="461.51" y="163.80" class="an w" textLength="13.20" lengthAdjust="spacingAndGlyphs">0.17</text>
<text x="475.02" y="163.80" class="an w" textLength="13.20" lengthAdjust="spacingAndGlyphs">0.14</text>
<text x="488.53" y="163.80" class="an d" textLength="13.20" lengthAdjust="spacingAndGlyphs">0.51</text>
<text x="502.04" y="163.80" class="an d" textLength="13.20" lengthAdjust="spacingAndGlyphs">0.27</text>
<text x="515.55" y="163.80" class="an w" textLength="13.20" lengthAdjust="spacingAndGlyphs">0.88</text>
<text x="529.07" y="163.80" class="an w" textLength="13.20" lengthAdjust="spacingAndGlyphs">0.88</text>
<text x="542.58" y="163.80" class="an w" textLength="13.20" lengthAdjust="spacingAndGlyphs">0.87</text>
<text x="556.09" y="163.80" class="an w" textLength="13.20" lengthAdjust="spacingAndGlyphs">1.00</text>
<text x="569.60" y="163.80" class="an w" textLength="13.20" lengthAdjust="spacingAndGlyphs">0.76</text>
<text x="583.11" y="163.80" class="an d" textLength="13.20" lengthAdjust="spacingAndGlyphs">0.33</text>
<text x="596.62" y="163.80" class="an w" textLength="13.20" lengthAdjust="spacingAndGlyphs">0.80</text>
<text x="610.12" y="163.80" class="an d" textLength="13.20" lengthAdjust="spacingAndGlyphs">0.23</text>
<text x="623.63" y="163.80" class="an w" textLength="13.20" lengthAdjust="spacingAndGlyphs">0.74</text>
<text x="637.14" y="163.80" class="an w" textLength="13.20" lengthAdjust="spacingAndGlyphs">0.76</text>
<text x="380.45" y="174.48" class="an d" textLength="13.20" lengthAdjust="spacingAndGlyphs">0.52</text>
<text x="393.96" y="174.48" class="an d" textLength="13.20" lengthAdjust="spacingAndGlyphs">0.54</text>
<text x="407.47" y="174.48" class="an d" textLength="13.20" lengthAdjust="spacingAndGlyphs">0.64</text>
<text x="420.99" y="174.48" class="an d" textLength="13.20" lengthAdjust="spacingAndGlyphs">0.41</text>
<text x="434.50" y="174.48" class="an w" textLength="13.20" lengthAdjust="spacingAndGlyphs">0.70</text>
<text x="448.00" y="174.48" class="an w" textLength="13.20" lengthAdjust="spacingAndGlyphs">0.06</text>
<text x="461.51" y="174.48" class="an w" textLength="13.20" lengthAdjust="spacingAndGlyphs">0.12</text>
<text x="475.02" y="174.48" class="an w" textLength="15.34" lengthAdjust="spacingAndGlyphs">-0.09</text>
<text x="488.53" y="174.48" class="an d" textLength="13.20" lengthAdjust="spacingAndGlyphs">0.39</text>
<text x="502.04" y="174.48" class="an d" textLength="13.20" lengthAdjust="spacingAndGlyphs">0.24</text>
<text x="515.55" y="174.48" class="an w" textLength="13.20" lengthAdjust="spacingAndGlyphs">0.87</text>
<text x="529.07" y="174.48" class="an w" textLength="13.20" lengthAdjust="spacingAndGlyphs">0.86</text>
<text x="542.58" y="174.48" class="an w" textLength="13.20" lengthAdjust="spacingAndGlyphs">0.91</text>
<text x="556.09" y="174.48" class="an w" textLength="13.20" lengthAdjust="spacingAndGlyphs">0.76</text>
<text x="569.60" y="174.48" class="an w" textLength="13.20" lengthAdjust="spacingAndGlyphs">1.00</text>
<text x="583.11" y="174.48" class="an d" textLength="13.20" lengthAdjust="spacingAndGlyphs">0.35</text>
<text x="596.62" y="174.48" class="an w" textLength="13.20" lengthAdjust="spacingAndGlyphs">0.75</text>
<text x="610.12" y="174.48" class="an d" textLength="13.20" lengthAdjust="spacingAndGlyphs">0.23</text>
<text x="623.63" y="174.48" class="an w" textLength="13.20" lengthAdjust="spacingAndGlyphs">0.72</text>
<text x="637.14" y="174.48" class="an d" textLength="13.20" lengthAdjust="spacingAndGlyphs">0.59</text>
<text x="380.45" y="185.17" class="an d" textLength="13.20" lengthAdjust="spacingAndGlyphs">0.44</text>
<text x="393.96" y="185.17" class="an d" textLength="13.20" lengthAdjust="spacingAndGlyphs">0.44</text>
<text x="407.47" y="185.17" class="an d" textLength="13.20" lengthAdjust="spacingAndGlyphs">0.33</text>
<text x="420.99" y="185.17" class="an d" textLength="13.20" lengthAdjust="spacingAndGlyphs">0.57</text>
<text x="434.50" y="185.17" class="an d" textLength="13.20" lengthAdjust="spacingAndGlyphs">0.49</text>
<text x="448.00" y="185.17" class="an d" textLength="13.20" lengthAdjust="spacingAndGlyphs">0.42</text>
<text x="461.51" y="185.17" class="an w" textLength="13.20" lengthAdjust="spacingAndGlyphs">0.14</text>
<text x="475.02" y="185.17" class="an d" textLength="13.20" lengthAdjust="spacingAndGlyphs">0.31</text>
<text x="488.53" y="185.17" class="an d" textLength="13.20" lengthAdjust="spacingAndGlyphs">0.43</text>
<text x="502.04" y="185.17" class="an d" textLength="13.20" lengthAdjust="spacingAndGlyphs">0.43</text>
<text x="515.55" y="185.17" class="an d" textLength="13.20" lengthAdjust="spacingAndGlyphs">0.36</text>
<text x="529.07" y="185.17" class="an d" textLength="13.20" lengthAdjust="spacingAndGlyphs">0.45</text>
<text x="542.58" y="185.17" class="an d" textLength="13.20" lengthAdjust="spacingAndGlyphs">0.24</text>
<text x="556.09" y="185.17" class="an d" textLength="13.20" lengthAdjust="spacingAndGlyphs">0.33</text>
<text x="569.60" y="185.17" class="an d" textLength="13.20" lengthAdjust="spacingAndGlyphs">0.35</text>
<text x="583.11" y="185.17" class="an w" textLength="13.20" lengthAdjust="spacingAndGlyphs">1.00</text>
<text x="596.62" y="185.17" class="an d" textLength="13.20" lengthAdjust="spacingAndGlyphs">0.59</text>
<text x="610.12" y="185.17" class="an w" textLength="13.20" lengthAdjust="spacingAndGlyphs">0.88</text>
<text x="623.63" y="185.17" class="an d" textLength="13.20" lengthAdjust="spacingAndGlyphs">0.42</text>
<text x="637.14" y="185.17" class="an d" textLength="13.20" lengthAdjust="spacingAndGlyphs">0.67</text>
<text x="380.45" y="195.85" class="an d" textLength="13.20" lengthAdjust="spacingAndGlyphs">0.66</text>
<text x="393.96" y="195.85" class="an d" textLength="13.20" lengthAdjust="spacingAndGlyphs">0.63</text>
<text x="407.47" y="195.85" class="an d" textLength="13.20" lengthAdjust="spacingAndGlyphs">0.59</text>
<text x="420.99" y="195.85" class="an d" textLength="13.20" lengthAdjust="spacingAndGlyphs">0.57</text>
<text x="434.50" y="195.85" class="an w" textLength="13.20" lengthAdjust="spacingAndGlyphs">0.73</text>
<text x="448.00" y="195.85" class="an w" textLength="13.20" lengthAdjust="spacingAndGlyphs">0.10</text>
<text x="461.51" y="195.85" class="an w" textLength="13.20" lengthAdjust="spacingAndGlyphs">0.02</text>
<text x="475.02" y="195.85" class="an w" textLength="13.20" lengthAdjust="spacingAndGlyphs">0.00</text>
<text x="488.53" y="195.85" class="an d" textLength="13.20" lengthAdjust="spacingAndGlyphs">0.45</text>
<text x="502.04" y="195.85" class="an d" textLength="13.20" lengthAdjust="spacingAndGlyphs">0.34</text>
<text x="515.55" y="195.85" class="an w" textLength="13.20" lengthAdjust="spacingAndGlyphs">0.77</text>
<text x="529.07" y="195.85" class="an w" textLength="13.20" lengthAdjust="spacingAndGlyphs">0.88</text>
<text x="542.58" y="195.85" class="an w" textLength="13.20" lengthAdjust="spacingAndGlyphs">0.72</text>
<text x="556.09" y="195.85" class="an w" textLength="13.20" lengthAdjust="spacingAndGlyphs">0.80</text>
<text x="569.60" y="195.85" class="an w" textLength="13.20" lengthAdjust="spacingAndGlyphs">0.75</text>
<text x="583.11" y="195.85" class="an d" textLength="13.20" lengthAdjust="spacingAndGlyphs">0.59</text>
<text x="596.62" y="195.85" class="an w" textLength="13.20" lengthAdjust="spacingAndGlyphs">1.00</text>
<text x="610.12" y="195.85" class="an d" textLength="13.20" lengthAdjust="spacingAndGlyphs">0.52</text>
<text x="623.63" y="195.85" class="an d" textLength="13.20" lengthAdjust="spacingAndGlyphs">0.63</text>
<text x="637.14" y="195.85" class="an w" textLength="13.20" lengthAdjust="spacingAndGlyphs">0.77</text>
<text x="380.45" y="206.54" class="an d" textLength="13.20" lengthAdjust="spacingAndGlyphs">0.30</text>
<text x="393.96" y="206.54" class="an d" textLength="13.20" lengthAdjust="spacingAndGlyphs">0.36</text>
<text x="407.47" y="206.54" class="an d" textLength="13.20" lengthAdjust="spacingAndGlyphs">0.19</text>
<text x="420.99" y="206.54" class="an d" textLength="13.20" lengthAdjust="spacingAndGlyphs">0.43</text>
<text x="434.50" y="206.54" class="an d" textLength="13.20" lengthAdjust="spacingAndGlyphs">0.33</text>
<text x="448.00" y="206.54" class="an d" textLength="13.20" lengthAdjust="spacingAndGlyphs">0.29</text>
<text x="461.51" y="206.54" class="an w" textLength="13.20" lengthAdjust="spacingAndGlyphs">0.15</text>
<text x="475.02" y="206.54" class="an d" textLength="13.20" lengthAdjust="spacingAndGlyphs">0.30</text>
<text x="488.53" y="206.54" class="an d" textLength="13.20" lengthAdjust="spacingAndGlyphs">0.49</text>
<text x="502.04" y="206.54" class="an d" textLength="13.20" lengthAdjust="spacingAndGlyphs">0.34</text>
<text x="515.55" y="206.54" class="an d" textLength="13.20" lengthAdjust="spacingAndGlyphs">0.19</text>
<text x="529.07" y="206.54" class="an d" textLength="13.20" lengthAdjust="spacingAndGlyphs">0.34</text>
<text x="542.58" y="206.54" class="an w" textLength="13.20" lengthAdjust="spacingAndGlyphs">0.09</text>
<text x="556.09" y="206.54" class="an d" textLength="13.20" lengthAdjust="spacingAndGlyphs">0.23</text>
<text x="569.60" y="206.54" class="an d" textLength="13.20" lengthAdjust="spacingAndGlyphs">0.23</text>
<text x="583.11" y="206.54" class="an w" textLength="13.20" lengthAdjust="spacingAndGlyphs">0.88</text>
<text x="596.62" y="206.54" class="an d" textLength="13.20" lengthAdjust="spacingAndGlyphs">0.52</text>
<text x="610.12" y="206.54" class="an w" textLength="13.20" lengthAdjust="spacingAndGlyphs">1.00</text>
<text x="623.63" y="206.54" class="an d" textLength="13.20" lengthAdjust="spacingAndGlyphs">0.30</text>
<text x="637.14" y="206.54" class="an d" textLength="13.20" lengthAdjust="spacingAndGlyphs">0.62</text>
<text x="380.45" y="217.22" class="an d" textLength="13.20" lengthAdjust="spacingAndGlyphs">0.68</text>
<text x="393.96" y="217.22" class="an w" textLength="13.20" lengthAdjust="spacingAndGlyphs">0.70</text>
<text x="407.47" y="217.22" class="an w" textLength="13.20" lengthAdjust="spacingAndGlyphs">0.79</text>
<text x="420.99" y="217.22" class="an d" textLength="13.20" lengthAdjust="spacingAndGlyphs">0.59</text>
<text x="434.50" y="217.22" class="an w" textLength="13.20" lengthAdjust="spacingAndGlyphs">0.75</text>
<text x="448.00" y="217.22" class="an d" textLength="13.20" lengthAdjust="spacingAndGlyphs">0.38</text>
<text x="461.51" y="217.22" class="an d" textLength="13.20" lengthAdjust="spacingAndGlyphs">0.42</text>
<text x="475.02" y="217.22" class="an d" textLength="13.20" lengthAdjust="spacingAndGlyphs">0.32</text>
<text x="488.53" y="217.22" class="an d" textLength="13.20" lengthAdjust="spacingAndGlyphs">0.61</text>
<text x="502.04" y="217.22" class="an d" textLength="13.20" lengthAdjust="spacingAndGlyphs">0.48</text>
<text x="515.55" y="217.22" class="an w" textLength="13.20" lengthAdjust="spacingAndGlyphs">0.70</text>
<text x="529.07" y="217.22" class="an d" textLength="13.20" lengthAdjust="spacingAndGlyphs">0.67</text>
<text x="542.58" y="217.22" class="an d" textLength="13.20" lengthAdjust="spacingAndGlyphs">0.68</text>
<text x="556.09" y="217.22" class="an w" textLength="13.20" lengthAdjust="spacingAndGlyphs">0.74</text>
<text x="569.60" y="217.22" class="an w" textLength="13.20" lengthAdjust="spacingAndGlyphs">0.72</text>
<text x="583.11" y="217.22" class="an d" textLength="13.20" lengthAdjust="spacingAndGlyphs">0.42</text>
<text x="596.62" y="217.22" class="an d" textLength="13.20" lengthAdjust="spacingAndGlyphs">0.63</text>
<text x="610.12" y="217.22" class="an d" textLength="13.20" lengthAdjust="spacingAndGlyphs">0.30</text>
<text x="623.63" y="217.22" class="an w" textLength="13.20" lengthAdjust="spacingAndGlyphs">1.00</text>
<text x="637.14" y="217.22" class="an d" textLength="13.20" lengthAdjust="spacingAndGlyphs">0.61</text>
<text x="380.45" y="227.91" class="an w" textLength="13.20" lengthAdjust="spacingAndGlyphs">0.73</text>
<text x="393.96" y="227.91" class="an d" textLength="13.20" lengthAdjust="spacingAndGlyphs">0.67</text>
<text x="407.47" y="227.91" class="an d" textLength="13.20" lengthAdjust="spacingAndGlyphs">0.55</text>
<text x="420.99" y="227.91" class="an d" textLength="13.20" lengthAdjust="spacingAndGlyphs">0.66</text>
<text x="434.50" y="227.91" class="an w" textLength="13.20" lengthAdjust="spacingAndGlyphs">0.76</text>
<text x="448.00" y="227.91" class="an d" textLength="13.20" lengthAdjust="spacingAndGlyphs">0.34</text>
<text x="461.51" y="227.91" class="an w" textLength="13.20" lengthAdjust="spacingAndGlyphs">0.08</text>
<text x="475.02" y="227.91" class="an d" textLength="13.20" lengthAdjust="spacingAndGlyphs">0.28</text>
<text x="488.53" y="227.91" class="an d" textLength="13.20" lengthAdjust="spacingAndGlyphs">0.55</text>
<text x="502.04" y="227.91" class="an d" textLength="13.20" lengthAdjust="spacingAndGlyphs">0.39</text>
<text x="515.55" y="227.91" class="an w" textLength="13.20" lengthAdjust="spacingAndGlyphs">0.73</text>
<text x="529.07" y="227.91" class="an w" textLength="13.20" lengthAdjust="spacingAndGlyphs">0.74</text>
<text x="542.58" y="227.91" class="an d" textLength="13.20" lengthAdjust="spacingAndGlyphs">0.63</text>
<text x="556.09" y="227.91" class="an w" textLength="13.20" lengthAdjust="spacingAndGlyphs">0.76</text>
<text x="569.60" y="227.91" class="an d" textLength="13.20" lengthAdjust="spacingAndGlyphs">0.59</text>
<text x="583.11" y="227.91" class="an d" textLength="13.20" lengthAdjust="spacingAndGlyphs">0.67</text>
<text x="596.62" y="227.91" class="an w" textLength="13.20" lengthAdjust="spacingAndGlyphs">0.77</text>
<text x="610.12" y="227.91" class="an d" textLength="13.20" lengthAdjust="spacingAndGlyphs">0.62</text>
<text x="623.63" y="227.91" class="an d" textLength="13.20" lengthAdjust="spacingAndGlyphs">0.61</text>
<text x="637.14" y="227.91" class="an w" textLength="13.20" lengthAdjust="spacingAndGlyphs">1.00</text>
<line x1="371.50" y1="23.24" x2="373.70" y2="23.24" class="tk"/>
<text x="369.30" y="24.74" class="yt" textLength="11.04" lengthAdjust="spacingAndGlyphs">A_1</text>
<line x1="371.50" y1="33.93" x2="373.70" y2="33.93" class="tk"/>
<text x="369.30" y="35.43" class="yt" textLength="11.04" lengthAdjust="spacingAndGlyphs">A_2</text>
<line x1="371.50" y1="44.61" x2="373.70" y2="44.61" class="tk"/>
<text x="369.30" y="46.11" class="yt" textLength="11.04" lengthAdjust="spacingAndGlyphs">A_3</text>
<line x1="371.50" y1="55.30" x2="373.70" y2="55.30" class="tk"/>
<text x="369.30" y="56.80" class="yt" textLength="11.04" lengthAdjust="spacingAndGlyphs">A_4</text>
<line x1="371.50" y1="65.98" x2="373.70" y2="65.98" class="tk"/>
<text x="369.30" y="67.48" class="yt" textLength="11.04" lengthAdjust="spacingAndGlyphs">A_5</text>
<line x1="371.50" y1="76.67" x2="373.70" y2="76.67" class="tk"/>
<text x="369.30" y="78.17" class="yt" textLength="11.04" lengthAdjust="spacingAndGlyphs">B_1</text>
<line x1="371.50" y1="87.35" x2="373.70" y2="87.35" class="tk"/>
<text x="369.30" y="88.85" class="yt" textLength="11.04" lengthAdjust="spacingAndGlyphs">B_2</text>
<line x1="371.50" y1="98.04" x2="373.70" y2="98.04" class="tk"/>
<text x="369.30" y="99.54" class="yt" textLength="11.04" lengthAdjust="spacingAndGlyphs">B_3</text>
<line x1="371.50" y1="108.72" x2="373.70" y2="108.72" class="tk"/>
<text x="369.30" y="110.22" class="yt" textLength="11.04" lengthAdjust="spacingAndGlyphs">B_4</text>
<line x1="371.50" y1="119.41" x2="373.70" y2="119.41" class="tk"/>
<text x="369.30" y="120.91" class="yt" textLength="11.04" lengthAdjust="spacingAndGlyphs">B_5</text>
<line x1="371.50" y1="130.09" x2="373.70" y2="130.09" class="tk"/>
<text x="369.30" y="131.59" class="yt" textLength="11.38" lengthAdjust="spacingAndGlyphs">C_1</text>
<line x1="371.50" y1="140.78" x2="373.70" y2="140.78" class="tk"/>
<text x="369.30" y="142.28" class="yt" textLength="11.38" lengthAdjust="spacingAndGlyphs">C_2</text>
<line x1="371.50" y1="151.46" x2="373.70" y2="151.46" class="tk"/>
<text x="369.30" y="152.96" class="yt" textLength="11.38" lengthAdjust="spacingAndGlyphs">C_3</text>
<line x1="371.50" y1="162.15" x2="373.70" y2="162.15" class="tk"/>
<text x="369.30" y="163.65" class="yt" textLength="11.38" lengthAdjust="spacingAndGlyphs">C_4</text>
<line x1="371.50" y1="172.83" x2="373.70" y2="172.83" class="tk"/>
<text x="369.30" y="174.33" class="yt" textLength="11.38" lengthAdjust="spacingAndGlyphs">C_5</text>
<line x1="371.50" y1="183.52" x2="373.70" y2="183.52" class="tk"/>
<text x="369.30" y="185.02" class="yt" textLength="11.38" lengthAdjust="spacingAndGlyphs">D_1</text>
<line x1="371.50" y1="194.20" x2="373.70" y2="194.20" class="tk"/>
<text x="369.30" y="195.70" class="yt" textLength="11.38" lengthAdjust="spacingAndGlyphs">D_2</text>
<line x1="371.50" y1="204.89" x2="373.70" y2="204.89" class="tk"/>
<text x="369.30" y="206.39" class="yt" textLength="11.38" lengthAdjust="spacingAndGlyphs">D_3</text>
<line x1="371.50" y1="215.57" x2="373.70" y2="215.57" class="tk"/>
<text x="369.30" y="217.07" class="yt" textLength="11.38" lengthAdjust="spacingAndGlyphs">D_4</text>
<line x1="371.50" y1="226.26" x2="373.70" y2="226.26" class="tk"/>
<text x="369.30" y="227.76" class="yt" textLength="11.38" lengthAdjust="spacingAndGlyphs">D_5</text>
<line x1="380.45" y1="231.60" x2="380.45" y2="233.80" class="tk"/>
<text x="380.45" y="240.60" class="xt" textLength="11.04" lengthAdjust="spacingAndGlyphs">A_1</text>
<line x1="393.96" y1="231.60" x2="393.96" y2="233.80" class="tk"/>
<text x="393.96" y="240.60" class="xt" textLength="11.04" lengthAdjust="spacingAndGlyphs">A_2</text>
<line x1="407.47" y1="231.60" x2="407.47" y2="233.80" class="tk"/>
<text x="407.47" y="240.60" class="xt" textLength="11.04" lengthAdjust="spacingAndGlyphs">A_3</text>
<line x1="420.99" y1="231.60" x2="420.99" y2="233.80" class="tk"/>
<text x="420.99" y="240.60" class="xt" textLength="11.04" lengthAdjust="spacingAndGlyphs">A_4</text>
<line x1="434.50" y1="231.60" x2="434.50" y2="233.80" class="tk"/>
<text x="434.50" y="240.60" class="xt" textLength="11.04" lengthAdjust="spacingAndGlyphs">A_5</text>
<line x1="448.00" y1="231.60" x2="448.00" y2="233.80" class="tk"/>
<text x="448.00" y="240.60" class="xt" textLength="11.04" lengthAdjust="spacingAndGlyphs">B_1</text>
<line x1="461.51" y1="231.60" x2="461.51" y2="233.80" class="tk"/>
<text x="461.51" y="240.60" class="xt" textLength="11.04" lengthAdjust="spacingAndGlyphs">B_2</text>
<line x1="475.02" y1="231.60" x2="475.02" y2="233.80" class="tk"/>
<text x="475.02" y="240.60" class="xt" textLength="11.04" lengthAdjust="spacingAndGlyphs">B_3</text>
<line x1="488.53" y1="231.60" x2="488.53" y2="233.80" class="tk"/>
<text x="488.53" y="240.60" class="xt" textLength="11.04" lengthAdjust="spacingAndGlyphs">B_4</text>
<line x1="502.04" y1="231.60" x2="502.04" y2="233.80" class="tk"/>
<text x="502.04" y="240.60" class="xt" textLength="11.04" lengthAdjust="spacingAndGlyphs">B_5</text>
<line x1="515.55" y1="231.60" x2="515.55" y2="233.80" class="tk"/>
<text x="515.55" y="240.60" class="xt" textLength="11.38" lengthAdjust="spacingAndGlyphs">C_1</text>
<line x1="529.07" y1="231.60" x2="529.07" y2="233.80" class="tk"/>
<text x="529.07" y="240.60" class="xt" textLength="11.38" lengthAdjust="spacingAndGlyphs">C_2</text>
<line x1="542.58" y1="231.60" x2="542.58" y2="233.80" class="tk"/>
<text x="542.58" y="240.60" class="xt" textLength="11.38" lengthAdjust="spacingAndGlyphs">C_3</text>
<line x1="556.09" y1="231.60" x2="556.09" y2="233.80" class="tk"/>
<text x="556.09" y="240.60" class="xt" textLength="11.38" lengthAdjust="spacingAndGlyphs">C_4</text>
<line x1="569.60" y1="231.60" x2="569.60" y2="233.80" class="tk"/>
<text x="569.60" y="240.60" class="xt" textLength="11.38" lengthAdjust="spacingAndGlyphs">C_5</text>
<line x1="583.11" y1="231.60" x2="583.11" y2="233.80" class="tk"/>
<text x="583.11" y="240.60" class="xt" textLength="11.38" lengthAdjust="spacingAndGlyphs">D_1</text>
<line x1="596.62" y1="231.60" x2="596.62" y2="233.80" class="tk"/>
<text x="596.62" y="240.60" class="xt" textLength="11.38" lengthAdjust="spacingAndGlyphs">D_2</text>
<line x1="610.12" y1="231.60" x2="610.12" y2="233.80" class="tk"/>
<text x="610.12" y="240.60" class="xt" textLength="11.38" lengthAdjust="spacingAndGlyphs">D_3</text>
<line x1="623.63" y1="231.60" x2="623.63" y2="233.80" class="tk"/>
<text x="623.63" y="240.60" class="xt" textLength="11.38" lengthAdjust="spacingAndGlyphs">D_4</text>
<line x1="637.14" y1="231.60" x2="637.14" y2="233.80" class="tk"/>
<text x="637.14" y="240.60" class="xt" textLength="11.38" lengthAdjust="spacingAndGlyphs">D_5</text>
<defs><linearGradient id="gb" x1="0" y1="0" x2="0" y2="1"><stop offset="0.0000" stop-color="#781634"/><stop offset="0.0156" stop-color="#7e1b37"/><stop offset="0.0312" stop-color="#88203b"/><stop offset="0.0469" stop-color="#94273f"/><stop offset="0.0625" stop-color="#9e2b42"/><stop offset="0.0781" stop-color="#a92f45"/><stop offset="0.0938" stop-color="#b13649"/><stop offset="0.1094" stop-color="#b6404d"/><stop offset="0.1250" stop-color="#bc4a51"/><stop offset="0.1406" stop-color="#c25355"/><stop offset="0.1562" stop-color="#c75d59"/><stop offset="0.1719" stop-color="#cd675d"/><stop offset="0.1875" stop-color="#d27062"/><stop offset="0.2031" stop-color="#d67969"/><stop offset="0.2188" stop-color="#da8370"/><stop offset="0.2344" stop-color="#de8c76"/><stop offset="0.2500" stop-color="#e3957d"/><stop offset="0.2656" stop-color="#e79e83"/><stop offset="0.2812" stop-color="#e9a68b"/><stop offset="0.2969" stop-color="#ebac93"/><stop offset="0.3125" stop-color="#edb39a"/><stop offset="0.3281" stop-color="#f0b9a2"/><stop offset="0.3438" stop-color="#f2c0aa"/><stop offset="0.3594" stop-color="#f4c6b2"/><stop offset="0.3750" stop-color="#f4cebb"/><stop offset="0.3906" stop-color="#f3d5c4"/><stop offset="0.4062" stop-color="#f3dccd"/><stop offset="0.4219" stop-color="#f3e0d4"/><stop offset="0.4375" stop-color="#f2e4db"/><stop offset="0.4531" stop-color="#f2e8e1"/><stop offset="0.4688" stop-color="#f3ece8"/><stop offset="0.4844" stop-color="#f4f1ee"/><stop offset="0.5000" stop-color="#f5f5f5"/><stop offset="0.5156" stop-color="#eff1f3"/><stop offset="0.5312" stop-color="#e9eef2"/><stop offset="0.5469" stop-color="#e3eaf0"/><stop offset="0.5625" stop-color="#dce6ef"/><stop offset="0.5781" stop-color="#d3e3ee"/><stop offset="0.5938" stop-color="#cbdfec"/><stop offset="0.6094" stop-color="#c3dceb"/><stop offset="0.6250" stop-color="#bbd8ea"/><stop offset="0.6406" stop-color="#b3d5e8"/><stop offset="0.6562" stop-color="#aad1e8"/><stop offset="0.6719" stop-color="#a0cce8"/><stop offset="0.6875" stop-color="#97c8e8"/><stop offset="0.7031" stop-color="#8ac1e4"/><stop offset="0.7188" stop-color="#7db9df"/><stop offset="0.7344" stop-color="#70b1da"/><stop offset="0.7500" stop-color="#5cabd8"/><stop offset="0.7656" stop-color="#47a5d6"/><stop offset="0.7812" stop-color="#32a0d3"/><stop offset="0.7969" stop-color="#2b9cd1"/><stop offset="0.8125" stop-color="#2498cf"/><stop offset="0.8281" stop-color="#1e94cc"/><stop offset="0.8438" stop-color="#188fc9"/><stop offset="0.8594" stop-color="#128ac6"/><stop offset="0.8750" stop-color="#0c85c4"/><stop offset="0.8906" stop-color="#0c81c0"/><stop offset="0.9062" stop-color="#0b7dbd"/><stop offset="0.9219" stop-color="#0b78b6"/><stop offset="0.9375" stop-color="#0a72ad"/><stop offset="0.9531" stop-color="#0a6ca4"/><stop offset="0.9688" stop-color="#0b649b"/><stop offset="0.9844" stop-color="#0b5e93"/><stop offset="1.0000" stop-color="#0a588c"/></linearGradient></defs>
<rect x="660.95" y="17.85" width="10.65" height="213.75" fill="url(#gb)"/>
<line x1="671.60" y1="17.85" x2="673.80" y2="17.85" class="tk"/>
<text x="675.80" y="20.65" class="cb" textLength="9.4" lengthAdjust="spacingAndGlyphs">1.0</text>
<line x1="671.60" y1="55.78" x2="673.80" y2="55.78" class="tk"/>
<text x="675.80" y="58.58" class="cb" textLength="9.4" lengthAdjust="spacingAndGlyphs">0.8</text>
<line x1="671.60" y1="93.72" x2="673.80" y2="93.72" class="tk"/>
<text x="675.80" y="96.52" class="cb" textLength="9.4" lengthAdjust="spacingAndGlyphs">0.6</text>
<line x1="671.60" y1="131.65" x2="673.80" y2="131.65" class="tk"/>
<text x="675.80" y="134.45" class="cb" textLength="9.4" lengthAdjust="spacingAndGlyphs">0.4</text>
<line x1="671.60" y1="169.58" x2="673.80" y2="169.58" class="tk"/>
<text x="675.80" y="172.38" class="cb" textLength="9.4" lengthAdjust="spacingAndGlyphs">0.2</text>
<line x1="671.60" y1="207.51" x2="673.80" y2="207.51" class="tk"/>
<text x="675.80" y="210.31" class="cb" textLength="9.4" lengthAdjust="spacingAndGlyphs">0.0</text>
<text x="511.30" y="7.90" class="ti" textLength="161.3" lengthAdjust="spacingAndGlyphs">R-AGC adaptive features correlation heatmap</text>
<text x="349.35" y="7.90" class="pn" textLength="7.2" lengthAdjust="spacingAndGlyphs">b</text>
</svg>
</body></html>
